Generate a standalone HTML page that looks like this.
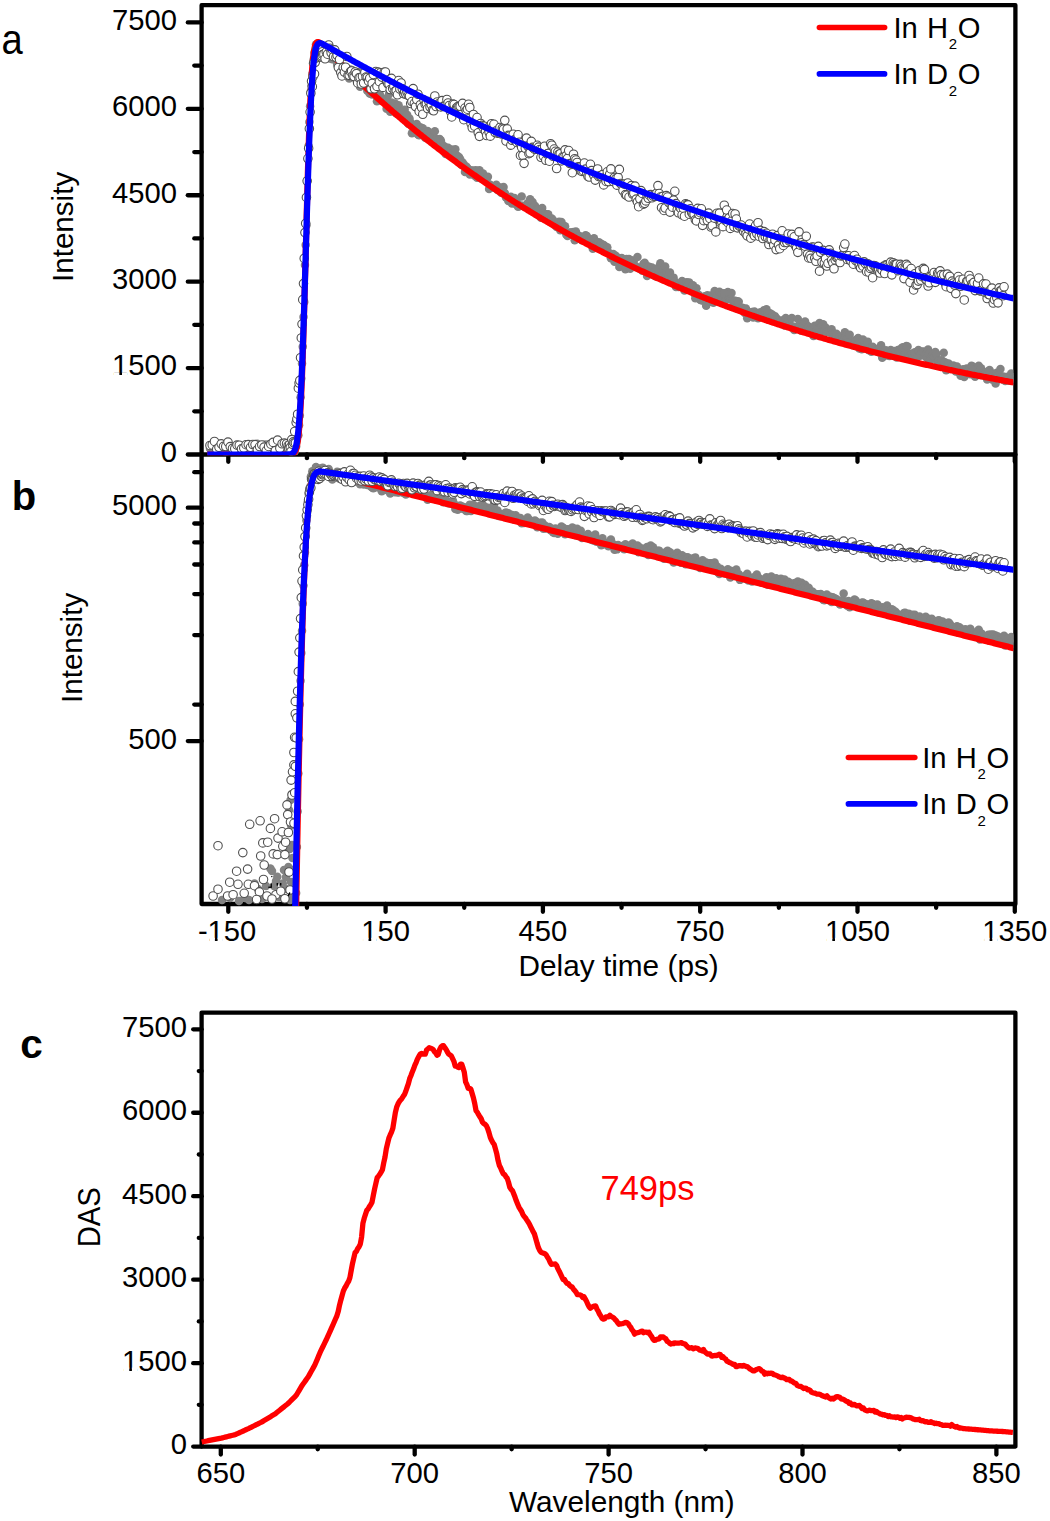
<!DOCTYPE html><html><head><meta charset="utf-8"><style>html,body{margin:0;padding:0;background:#fff;}svg{display:block}text{font-family:"Liberation Sans",sans-serif}</style></head><body><svg width="1050" height="1521" viewBox="0 0 1050 1521"><rect width="1050" height="1521" fill="#fff"/><defs><clipPath id="ca"><rect x="203.7" y="7.3" width="809.6" height="448.0"/></clipPath><clipPath id="cb"><rect x="203.7" y="456.6" width="809.6" height="449.4"/></clipPath><clipPath id="cc"><rect x="199.6" y="1012.6" width="815.8" height="434"/></clipPath></defs><g stroke="#000" stroke-width="4.3" stroke-linecap="round" fill="none"><path stroke-linejoin="round" d="M201.6,454.5 V5.2 H1015.4 V904 H201.6 Z"/><path d="M201.6,454.5 H1015.4"/><path stroke-linejoin="round" d="M201.6,1012.6 H1015.4 V1446.6 H201.6 Z"/><path d="M201.6,454.5 H187.8"/><path d="M201.6,411.29 H194.3"/><path d="M201.6,368.08 H187.8"/><path d="M201.6,324.87 H194.3"/><path d="M201.6,281.66 H187.8"/><path d="M201.6,238.45 H194.3"/><path d="M201.6,195.24 H187.8"/><path d="M201.6,152.03 H194.3"/><path d="M201.6,108.82 H187.8"/><path d="M201.6,65.61 H194.3"/><path d="M201.6,22.4 H187.8"/><path d="M228.3,454.5 V461.8"/><path d="M228.3,904 V911.8"/><path d="M306.95,454.5 V458.2"/><path d="M306.95,904 V907.8"/><path d="M385.6,454.5 V461.8"/><path d="M385.6,904 V911.8"/><path d="M464.25,454.5 V458.2"/><path d="M464.25,904 V907.8"/><path d="M542.9,454.5 V461.8"/><path d="M542.9,904 V911.8"/><path d="M621.55,454.5 V458.2"/><path d="M621.55,904 V907.8"/><path d="M700.2,454.5 V461.8"/><path d="M700.2,904 V911.8"/><path d="M778.85,454.5 V458.2"/><path d="M778.85,904 V907.8"/><path d="M857.5,454.5 V461.8"/><path d="M857.5,904 V911.8"/><path d="M936.15,454.5 V458.2"/><path d="M936.15,904 V907.8"/><path d="M1014.79,454.5 V461.8"/><path d="M1014.79,904 V911.8"/><path d="M201.6,472.2 H194.3"/><path d="M201.6,507.7 H187.8"/><path d="M201.6,523.5 H194.3"/><path d="M201.6,542.4 H194.3"/><path d="M201.6,564.5 H194.3"/><path d="M201.6,594.1 H194.3"/><path d="M201.6,635.1 H194.3"/><path d="M201.6,704.6 H194.3"/><path d="M201.6,741.1 H187.8"/><path d="M201.6,1446.6 H193.2"/><path d="M201.6,1404.87 H198.8"/><path d="M201.6,1363.14 H193.2"/><path d="M201.6,1321.41 H198.8"/><path d="M201.6,1279.68 H193.2"/><path d="M201.6,1237.95 H198.8"/><path d="M201.6,1196.22 H193.2"/><path d="M201.6,1154.49 H198.8"/><path d="M201.6,1112.76 H193.2"/><path d="M201.6,1071.03 H198.8"/><path d="M201.6,1029.3 H193.2"/><path d="M220.8,1446.6 V1454.5"/><path d="M317.75,1446.6 V1449.3"/><path d="M414.7,1446.6 V1454.5"/><path d="M511.65,1446.6 V1449.3"/><path d="M608.6,1446.6 V1454.5"/><path d="M705.55,1446.6 V1449.3"/><path d="M802.5,1446.6 V1454.5"/><path d="M899.45,1446.6 V1449.3"/><path d="M996.4,1446.6 V1454.5"/></g><g clip-path="url(#ca)"><g fill="#838383"><circle cx="209.95" cy="448.56" r="4.25"/><circle cx="212.2" cy="448.03" r="4.25"/><circle cx="214.46" cy="446.87" r="4.25"/><circle cx="216.71" cy="446.47" r="4.25"/><circle cx="218.97" cy="447.14" r="4.25"/><circle cx="221.22" cy="447.14" r="4.25"/><circle cx="223.48" cy="449.62" r="4.25"/><circle cx="225.73" cy="451.93" r="4.25"/><circle cx="227.99" cy="448.64" r="4.25"/><circle cx="230.24" cy="449.51" r="4.25"/><circle cx="232.49" cy="448.9" r="4.25"/><circle cx="234.75" cy="448.14" r="4.25"/><circle cx="237" cy="450.09" r="4.25"/><circle cx="239.26" cy="449.83" r="4.25"/><circle cx="241.51" cy="447.79" r="4.25"/><circle cx="243.77" cy="447.35" r="4.25"/><circle cx="246.02" cy="448.91" r="4.25"/><circle cx="248.28" cy="446.58" r="4.25"/><circle cx="250.53" cy="448.03" r="4.25"/><circle cx="252.79" cy="449.64" r="4.25"/><circle cx="255.04" cy="447.5" r="4.25"/><circle cx="257.3" cy="443.79" r="4.25"/><circle cx="259.55" cy="448.95" r="4.25"/><circle cx="261.8" cy="445.23" r="4.25"/><circle cx="264.06" cy="444.81" r="4.25"/><circle cx="266.31" cy="444.57" r="4.25"/><circle cx="268.57" cy="449.25" r="4.25"/><circle cx="270.82" cy="443.52" r="4.25"/><circle cx="273.08" cy="447.35" r="4.25"/><circle cx="275.33" cy="448.1" r="4.25"/><circle cx="277.59" cy="448.05" r="4.25"/><circle cx="279.84" cy="446.37" r="4.25"/><circle cx="282.1" cy="447.48" r="4.25"/><circle cx="284.35" cy="447.94" r="4.25"/><circle cx="286.61" cy="445" r="4.25"/><circle cx="288.07" cy="449.04" r="4.25"/><circle cx="288.81" cy="449.69" r="4.25"/><circle cx="289.54" cy="445.99" r="4.25"/><circle cx="290.28" cy="446.17" r="4.25"/><circle cx="291.01" cy="445.38" r="4.25"/><circle cx="291.74" cy="449.75" r="4.25"/><circle cx="292.48" cy="445.41" r="4.25"/><circle cx="293.21" cy="446.61" r="4.25"/><circle cx="293.95" cy="449" r="4.25"/><circle cx="294.68" cy="451.57" r="4.25"/><circle cx="295.41" cy="445.81" r="4.25"/><circle cx="296.15" cy="446.59" r="4.25"/><circle cx="296.88" cy="439.95" r="4.25"/><circle cx="297.62" cy="434.5" r="4.25"/><circle cx="298.35" cy="435.16" r="4.25"/><circle cx="299.08" cy="425.3" r="4.25"/><circle cx="299.82" cy="415.73" r="4.25"/><circle cx="300.55" cy="397.29" r="4.25"/><circle cx="301.29" cy="378.62" r="4.25"/><circle cx="302.02" cy="363.4" r="4.25"/><circle cx="302.75" cy="346.66" r="4.25"/><circle cx="303.49" cy="317.06" r="4.25"/><circle cx="304.22" cy="302.03" r="4.25"/><circle cx="304.96" cy="264.93" r="4.25"/><circle cx="305.69" cy="245.03" r="4.25"/><circle cx="306.43" cy="225.19" r="4.25"/><circle cx="307.16" cy="180.14" r="4.25"/><circle cx="307.89" cy="159.22" r="4.25"/><circle cx="308.63" cy="145.84" r="4.25"/><circle cx="309.36" cy="121.92" r="4.25"/><circle cx="310.1" cy="106.32" r="4.25"/><circle cx="310.83" cy="91.2" r="4.25"/><circle cx="311.56" cy="85.41" r="4.25"/><circle cx="312.3" cy="73.88" r="4.25"/><circle cx="313.03" cy="63.3" r="4.25"/><circle cx="313.77" cy="59.35" r="4.25"/><circle cx="314.5" cy="52.53" r="4.25"/><circle cx="315.23" cy="53.99" r="4.25"/><circle cx="315.97" cy="44.47" r="4.25"/><circle cx="316.7" cy="53.84" r="4.25"/><circle cx="317.44" cy="49.54" r="4.25"/><circle cx="318.17" cy="56.31" r="4.25"/><circle cx="318.9" cy="53.37" r="4.25"/><circle cx="319.64" cy="43.89" r="4.25"/><circle cx="320.37" cy="51.3" r="4.25"/><circle cx="321.11" cy="45.86" r="4.25"/><circle cx="321.84" cy="47.73" r="4.25"/><circle cx="322.57" cy="51.14" r="4.25"/><circle cx="322.68" cy="48.82" r="4.25"/><circle cx="323.89" cy="49.95" r="4.25"/><circle cx="325.09" cy="50.8" r="4.25"/><circle cx="326.3" cy="47.76" r="4.25"/><circle cx="327.5" cy="49.62" r="4.25"/><circle cx="328.71" cy="55.53" r="4.25"/><circle cx="329.92" cy="58.44" r="4.25"/><circle cx="331.12" cy="56.11" r="4.25"/><circle cx="332.33" cy="59.17" r="4.25"/><circle cx="333.53" cy="56.92" r="4.25"/><circle cx="334.74" cy="52.83" r="4.25"/><circle cx="335.94" cy="60.52" r="4.25"/><circle cx="337.15" cy="64.87" r="4.25"/><circle cx="338.36" cy="66.56" r="4.25"/><circle cx="339.56" cy="70.04" r="4.25"/><circle cx="340.77" cy="71.27" r="4.25"/><circle cx="341.97" cy="72.58" r="4.25"/><circle cx="343.18" cy="71.41" r="4.25"/><circle cx="344.39" cy="72.42" r="4.25"/><circle cx="345.59" cy="69.25" r="4.25"/><circle cx="346.8" cy="74.05" r="4.25"/><circle cx="348" cy="74.18" r="4.25"/><circle cx="349.21" cy="78.53" r="4.25"/><circle cx="350.42" cy="69.46" r="4.25"/><circle cx="351.62" cy="74.21" r="4.25"/><circle cx="352.83" cy="70.62" r="4.25"/><circle cx="354.03" cy="74.91" r="4.25"/><circle cx="355.24" cy="73.42" r="4.25"/><circle cx="356.45" cy="80.36" r="4.25"/><circle cx="357.65" cy="77.98" r="4.25"/><circle cx="358.86" cy="72.09" r="4.25"/><circle cx="360.06" cy="86.65" r="4.25"/><circle cx="361.27" cy="79.37" r="4.25"/><circle cx="362.48" cy="78.55" r="4.25"/><circle cx="363.68" cy="83.97" r="4.25"/><circle cx="364.89" cy="83.77" r="4.25"/><circle cx="366.09" cy="82.98" r="4.25"/><circle cx="367.3" cy="90.71" r="4.25"/><circle cx="368.51" cy="87.94" r="4.25"/><circle cx="369.71" cy="93.42" r="4.25"/><circle cx="370.92" cy="93.75" r="4.25"/><circle cx="372.12" cy="94.53" r="4.25"/><circle cx="373.33" cy="93.83" r="4.25"/><circle cx="374.54" cy="93.77" r="4.25"/><circle cx="375.74" cy="93.62" r="4.25"/><circle cx="376.95" cy="101.14" r="4.25"/><circle cx="378.15" cy="89.99" r="4.25"/><circle cx="379.36" cy="93.77" r="4.25"/><circle cx="380.57" cy="96.11" r="4.25"/><circle cx="381.77" cy="100.78" r="4.25"/><circle cx="382.98" cy="100.64" r="4.25"/><circle cx="384.18" cy="99.19" r="4.25"/><circle cx="385.39" cy="100.5" r="4.25"/><circle cx="386.6" cy="108.74" r="4.25"/><circle cx="387.8" cy="101.01" r="4.25"/><circle cx="389.01" cy="94.14" r="4.25"/><circle cx="390.21" cy="111.83" r="4.25"/><circle cx="391.42" cy="102.56" r="4.25"/><circle cx="392.63" cy="105.55" r="4.25"/><circle cx="393.83" cy="107.99" r="4.25"/><circle cx="395.04" cy="103.44" r="4.25"/><circle cx="396.24" cy="113.22" r="4.25"/><circle cx="397.45" cy="109.17" r="4.25"/><circle cx="398.65" cy="105.29" r="4.25"/><circle cx="399.86" cy="111.97" r="4.25"/><circle cx="401.07" cy="113.61" r="4.25"/><circle cx="402.27" cy="112.65" r="4.25"/><circle cx="403.48" cy="115.69" r="4.25"/><circle cx="404.68" cy="109.8" r="4.25"/><circle cx="405.89" cy="119.78" r="4.25"/><circle cx="407.1" cy="114.83" r="4.25"/><circle cx="408.3" cy="123.82" r="4.25"/><circle cx="409.51" cy="118.5" r="4.25"/><circle cx="410.71" cy="122.8" r="4.25"/><circle cx="411.92" cy="133.15" r="4.25"/><circle cx="413.13" cy="125.5" r="4.25"/><circle cx="414.33" cy="130.73" r="4.25"/><circle cx="415.54" cy="129.85" r="4.25"/><circle cx="416.74" cy="124.03" r="4.25"/><circle cx="417.95" cy="134.58" r="4.25"/><circle cx="419.16" cy="135.34" r="4.25"/><circle cx="420.36" cy="127.3" r="4.25"/><circle cx="421.57" cy="132.72" r="4.25"/><circle cx="422.77" cy="128.26" r="4.25"/><circle cx="423.98" cy="133.1" r="4.25"/><circle cx="425.19" cy="137.83" r="4.25"/><circle cx="426.39" cy="135.31" r="4.25"/><circle cx="427.6" cy="131.08" r="4.25"/><circle cx="428.8" cy="132.48" r="4.25"/><circle cx="430.01" cy="136.2" r="4.25"/><circle cx="431.22" cy="136.45" r="4.25"/><circle cx="432.42" cy="137.48" r="4.25"/><circle cx="433.63" cy="139.66" r="4.25"/><circle cx="434.83" cy="131.34" r="4.25"/><circle cx="436.04" cy="138.89" r="4.25"/><circle cx="437.25" cy="143.75" r="4.25"/><circle cx="438.45" cy="142.34" r="4.25"/><circle cx="439.66" cy="139.1" r="4.25"/><circle cx="440.86" cy="140.52" r="4.25"/><circle cx="442.07" cy="144.52" r="4.25"/><circle cx="443.28" cy="147.7" r="4.25"/><circle cx="444.48" cy="146.57" r="4.25"/><circle cx="445.69" cy="153.93" r="4.25"/><circle cx="446.89" cy="153.94" r="4.25"/><circle cx="448.1" cy="147.73" r="4.25"/><circle cx="449.31" cy="153.47" r="4.25"/><circle cx="450.51" cy="151.55" r="4.25"/><circle cx="451.72" cy="149.61" r="4.25"/><circle cx="452.92" cy="152.63" r="4.25"/><circle cx="454.13" cy="155.8" r="4.25"/><circle cx="455.33" cy="149.23" r="4.25"/><circle cx="456.54" cy="155.36" r="4.25"/><circle cx="457.75" cy="159.96" r="4.25"/><circle cx="458.95" cy="157.08" r="4.25"/><circle cx="460.16" cy="159.26" r="4.25"/><circle cx="461.36" cy="164.8" r="4.25"/><circle cx="462.57" cy="162.57" r="4.25"/><circle cx="463.78" cy="164.49" r="4.25"/><circle cx="464.98" cy="171.94" r="4.25"/><circle cx="466.19" cy="166.58" r="4.25"/><circle cx="467.39" cy="167.92" r="4.25"/><circle cx="468.6" cy="169.4" r="4.25"/><circle cx="469.81" cy="174.53" r="4.25"/><circle cx="471.01" cy="170.76" r="4.25"/><circle cx="472.22" cy="170.44" r="4.25"/><circle cx="473.42" cy="170.69" r="4.25"/><circle cx="474.63" cy="175.84" r="4.25"/><circle cx="475.84" cy="170.32" r="4.25"/><circle cx="477.04" cy="177.66" r="4.25"/><circle cx="478.25" cy="174.94" r="4.25"/><circle cx="479.45" cy="170.32" r="4.25"/><circle cx="480.66" cy="178.23" r="4.25"/><circle cx="481.87" cy="178.41" r="4.25"/><circle cx="483.07" cy="173.59" r="4.25"/><circle cx="484.28" cy="179.57" r="4.25"/><circle cx="485.48" cy="180.04" r="4.25"/><circle cx="486.69" cy="178.95" r="4.25"/><circle cx="487.9" cy="176.73" r="4.25"/><circle cx="489.1" cy="188.99" r="4.25"/><circle cx="490.31" cy="184.83" r="4.25"/><circle cx="491.51" cy="186.16" r="4.25"/><circle cx="492.72" cy="187.18" r="4.25"/><circle cx="493.93" cy="187.13" r="4.25"/><circle cx="495.13" cy="187.9" r="4.25"/><circle cx="496.34" cy="184.75" r="4.25"/><circle cx="497.54" cy="189.94" r="4.25"/><circle cx="498.75" cy="187.42" r="4.25"/><circle cx="499.96" cy="187.57" r="4.25"/><circle cx="501.16" cy="192.78" r="4.25"/><circle cx="502.37" cy="191" r="4.25"/><circle cx="503.57" cy="186.97" r="4.25"/><circle cx="504.78" cy="192.92" r="4.25"/><circle cx="505.99" cy="197.6" r="4.25"/><circle cx="507.19" cy="196.77" r="4.25"/><circle cx="508.4" cy="200.93" r="4.25"/><circle cx="509.6" cy="197.79" r="4.25"/><circle cx="510.81" cy="196.64" r="4.25"/><circle cx="512.01" cy="203.41" r="4.25"/><circle cx="513.22" cy="201.96" r="4.25"/><circle cx="514.43" cy="197.9" r="4.25"/><circle cx="515.63" cy="204.1" r="4.25"/><circle cx="516.84" cy="202.11" r="4.25"/><circle cx="518.04" cy="206.75" r="4.25"/><circle cx="519.25" cy="206.36" r="4.25"/><circle cx="520.46" cy="205.58" r="4.25"/><circle cx="521.66" cy="196.53" r="4.25"/><circle cx="522.87" cy="205.74" r="4.25"/><circle cx="524.07" cy="206.45" r="4.25"/><circle cx="525.28" cy="206.87" r="4.25"/><circle cx="526.49" cy="205.8" r="4.25"/><circle cx="527.69" cy="203.29" r="4.25"/><circle cx="528.9" cy="205.24" r="4.25"/><circle cx="530.1" cy="199.16" r="4.25"/><circle cx="531.31" cy="205.92" r="4.25"/><circle cx="532.52" cy="202.07" r="4.25"/><circle cx="533.72" cy="206.52" r="4.25"/><circle cx="534.93" cy="205.78" r="4.25"/><circle cx="536.13" cy="213.3" r="4.25"/><circle cx="537.34" cy="209.2" r="4.25"/><circle cx="538.55" cy="209.48" r="4.25"/><circle cx="539.75" cy="210.61" r="4.25"/><circle cx="540.96" cy="217.79" r="4.25"/><circle cx="542.16" cy="207.94" r="4.25"/><circle cx="543.37" cy="213.06" r="4.25"/><circle cx="544.58" cy="214.05" r="4.25"/><circle cx="545.78" cy="214.36" r="4.25"/><circle cx="546.99" cy="215.32" r="4.25"/><circle cx="548.19" cy="214.28" r="4.25"/><circle cx="549.4" cy="221.35" r="4.25"/><circle cx="550.61" cy="221.46" r="4.25"/><circle cx="551.81" cy="218.55" r="4.25"/><circle cx="553.02" cy="220.32" r="4.25"/><circle cx="554.22" cy="223.35" r="4.25"/><circle cx="555.43" cy="225.16" r="4.25"/><circle cx="556.64" cy="227.09" r="4.25"/><circle cx="557.84" cy="225.32" r="4.25"/><circle cx="559.05" cy="221.83" r="4.25"/><circle cx="560.25" cy="230.27" r="4.25"/><circle cx="561.46" cy="221.98" r="4.25"/><circle cx="562.67" cy="224.92" r="4.25"/><circle cx="563.87" cy="229.93" r="4.25"/><circle cx="565.08" cy="226.18" r="4.25"/><circle cx="566.28" cy="234.48" r="4.25"/><circle cx="567.49" cy="235.93" r="4.25"/><circle cx="568.7" cy="234.92" r="4.25"/><circle cx="569.9" cy="232.39" r="4.25"/><circle cx="571.11" cy="232.61" r="4.25"/><circle cx="572.31" cy="233.73" r="4.25"/><circle cx="573.52" cy="232.05" r="4.25"/><circle cx="574.72" cy="240.2" r="4.25"/><circle cx="575.93" cy="231.5" r="4.25"/><circle cx="577.14" cy="238.52" r="4.25"/><circle cx="578.34" cy="236.32" r="4.25"/><circle cx="579.55" cy="235.91" r="4.25"/><circle cx="580.75" cy="238.97" r="4.25"/><circle cx="581.96" cy="240.22" r="4.25"/><circle cx="583.17" cy="239.53" r="4.25"/><circle cx="584.37" cy="236.71" r="4.25"/><circle cx="585.58" cy="235.28" r="4.25"/><circle cx="586.78" cy="236.07" r="4.25"/><circle cx="587.99" cy="242.17" r="4.25"/><circle cx="589.2" cy="242.22" r="4.25"/><circle cx="590.4" cy="243.4" r="4.25"/><circle cx="591.61" cy="239.4" r="4.25"/><circle cx="592.81" cy="248.75" r="4.25"/><circle cx="594.02" cy="238.18" r="4.25"/><circle cx="595.23" cy="244.92" r="4.25"/><circle cx="596.43" cy="246.75" r="4.25"/><circle cx="597.64" cy="243.69" r="4.25"/><circle cx="598.84" cy="242.13" r="4.25"/><circle cx="600.05" cy="245.37" r="4.25"/><circle cx="601.26" cy="243.8" r="4.25"/><circle cx="602.46" cy="247.88" r="4.25"/><circle cx="603.67" cy="245.04" r="4.25"/><circle cx="604.87" cy="245.93" r="4.25"/><circle cx="606.08" cy="251.54" r="4.25"/><circle cx="607.29" cy="247.18" r="4.25"/><circle cx="608.49" cy="252.56" r="4.25"/><circle cx="609.7" cy="253.77" r="4.25"/><circle cx="610.9" cy="258.16" r="4.25"/><circle cx="612.11" cy="256.81" r="4.25"/><circle cx="613.32" cy="253.91" r="4.25"/><circle cx="614.52" cy="261.86" r="4.25"/><circle cx="615.73" cy="255.73" r="4.25"/><circle cx="616.93" cy="257.34" r="4.25"/><circle cx="618.14" cy="258.06" r="4.25"/><circle cx="619.35" cy="267.08" r="4.25"/><circle cx="620.55" cy="260.19" r="4.25"/><circle cx="621.76" cy="257.92" r="4.25"/><circle cx="622.96" cy="263.12" r="4.25"/><circle cx="624.17" cy="260.47" r="4.25"/><circle cx="625.38" cy="269.3" r="4.25"/><circle cx="626.58" cy="259.06" r="4.25"/><circle cx="627.79" cy="263.98" r="4.25"/><circle cx="628.99" cy="259" r="4.25"/><circle cx="630.2" cy="268.71" r="4.25"/><circle cx="631.4" cy="260.29" r="4.25"/><circle cx="632.61" cy="263.87" r="4.25"/><circle cx="633.82" cy="260.65" r="4.25"/><circle cx="635.02" cy="267.07" r="4.25"/><circle cx="636.23" cy="266.47" r="4.25"/><circle cx="637.43" cy="257.08" r="4.25"/><circle cx="638.64" cy="268.24" r="4.25"/><circle cx="639.85" cy="268.41" r="4.25"/><circle cx="641.05" cy="267.58" r="4.25"/><circle cx="642.26" cy="270.83" r="4.25"/><circle cx="643.46" cy="263.88" r="4.25"/><circle cx="644.67" cy="262.71" r="4.25"/><circle cx="645.88" cy="271.77" r="4.25"/><circle cx="647.08" cy="275.91" r="4.25"/><circle cx="648.29" cy="266.43" r="4.25"/><circle cx="649.49" cy="267.08" r="4.25"/><circle cx="650.7" cy="268.41" r="4.25"/><circle cx="651.91" cy="267.47" r="4.25"/><circle cx="653.11" cy="274.58" r="4.25"/><circle cx="654.32" cy="272.18" r="4.25"/><circle cx="655.52" cy="276.31" r="4.25"/><circle cx="656.73" cy="276.33" r="4.25"/><circle cx="657.94" cy="267.92" r="4.25"/><circle cx="659.14" cy="273.55" r="4.25"/><circle cx="660.35" cy="263.35" r="4.25"/><circle cx="661.55" cy="271.1" r="4.25"/><circle cx="662.76" cy="273.86" r="4.25"/><circle cx="663.97" cy="269.36" r="4.25"/><circle cx="665.17" cy="266.56" r="4.25"/><circle cx="666.38" cy="271.97" r="4.25"/><circle cx="667.58" cy="278.91" r="4.25"/><circle cx="668.79" cy="274.63" r="4.25"/><circle cx="670" cy="272.46" r="4.25"/><circle cx="671.2" cy="280.28" r="4.25"/><circle cx="672.41" cy="282.57" r="4.25"/><circle cx="673.61" cy="277.63" r="4.25"/><circle cx="674.82" cy="281.78" r="4.25"/><circle cx="676.03" cy="287.02" r="4.25"/><circle cx="677.23" cy="285.26" r="4.25"/><circle cx="678.44" cy="287.09" r="4.25"/><circle cx="679.64" cy="283.79" r="4.25"/><circle cx="680.85" cy="284.62" r="4.25"/><circle cx="682.06" cy="281.08" r="4.25"/><circle cx="683.26" cy="282.62" r="4.25"/><circle cx="684.47" cy="290.47" r="4.25"/><circle cx="685.67" cy="283.72" r="4.25"/><circle cx="686.88" cy="282.2" r="4.25"/><circle cx="688.08" cy="284.04" r="4.25"/><circle cx="689.29" cy="282.54" r="4.25"/><circle cx="690.5" cy="288.66" r="4.25"/><circle cx="691.7" cy="290.85" r="4.25"/><circle cx="692.91" cy="285.3" r="4.25"/><circle cx="694.11" cy="293.26" r="4.25"/><circle cx="695.32" cy="298.16" r="4.25"/><circle cx="696.53" cy="288.27" r="4.25"/><circle cx="697.73" cy="295.43" r="4.25"/><circle cx="698.94" cy="295.01" r="4.25"/><circle cx="700.14" cy="299.73" r="4.25"/><circle cx="701.35" cy="300.31" r="4.25"/><circle cx="702.56" cy="300.44" r="4.25"/><circle cx="703.76" cy="298.26" r="4.25"/><circle cx="704.97" cy="296.16" r="4.25"/><circle cx="706.17" cy="305.68" r="4.25"/><circle cx="707.38" cy="295.32" r="4.25"/><circle cx="708.59" cy="302.07" r="4.25"/><circle cx="709.79" cy="301.66" r="4.25"/><circle cx="711" cy="295.53" r="4.25"/><circle cx="712.2" cy="297.96" r="4.25"/><circle cx="713.41" cy="302.84" r="4.25"/><circle cx="714.62" cy="290.94" r="4.25"/><circle cx="715.82" cy="300.08" r="4.25"/><circle cx="717.03" cy="296.07" r="4.25"/><circle cx="718.23" cy="296.08" r="4.25"/><circle cx="719.44" cy="291.81" r="4.25"/><circle cx="720.65" cy="298.22" r="4.25"/><circle cx="721.85" cy="293.2" r="4.25"/><circle cx="723.06" cy="299.41" r="4.25"/><circle cx="724.26" cy="293.2" r="4.25"/><circle cx="725.47" cy="300.07" r="4.25"/><circle cx="726.68" cy="299.13" r="4.25"/><circle cx="727.88" cy="291.89" r="4.25"/><circle cx="729.09" cy="298.02" r="4.25"/><circle cx="730.29" cy="299.46" r="4.25"/><circle cx="731.5" cy="292.89" r="4.25"/><circle cx="732.71" cy="300.24" r="4.25"/><circle cx="733.91" cy="305.21" r="4.25"/><circle cx="735.12" cy="300.74" r="4.25"/><circle cx="736.32" cy="308.24" r="4.25"/><circle cx="737.53" cy="301.13" r="4.25"/><circle cx="738.74" cy="301.69" r="4.25"/><circle cx="739.94" cy="308.67" r="4.25"/><circle cx="741.15" cy="309.64" r="4.25"/><circle cx="742.35" cy="307.63" r="4.25"/><circle cx="743.56" cy="308.95" r="4.25"/><circle cx="744.77" cy="313.11" r="4.25"/><circle cx="745.97" cy="308.47" r="4.25"/><circle cx="747.18" cy="318.16" r="4.25"/><circle cx="748.38" cy="313.21" r="4.25"/><circle cx="749.59" cy="313.66" r="4.25"/><circle cx="750.79" cy="313.68" r="4.25"/><circle cx="752" cy="312.02" r="4.25"/><circle cx="753.21" cy="317.58" r="4.25"/><circle cx="754.41" cy="311.44" r="4.25"/><circle cx="755.62" cy="314.15" r="4.25"/><circle cx="756.82" cy="315.76" r="4.25"/><circle cx="758.03" cy="318.18" r="4.25"/><circle cx="759.24" cy="317.5" r="4.25"/><circle cx="760.44" cy="312.14" r="4.25"/><circle cx="761.65" cy="316.75" r="4.25"/><circle cx="762.85" cy="313.32" r="4.25"/><circle cx="764.06" cy="310.13" r="4.25"/><circle cx="765.27" cy="310.62" r="4.25"/><circle cx="766.47" cy="309.31" r="4.25"/><circle cx="767.68" cy="316.36" r="4.25"/><circle cx="768.88" cy="319.82" r="4.25"/><circle cx="770.09" cy="313.36" r="4.25"/><circle cx="771.3" cy="316.68" r="4.25"/><circle cx="772.5" cy="314.72" r="4.25"/><circle cx="773.71" cy="319.41" r="4.25"/><circle cx="774.91" cy="316.13" r="4.25"/><circle cx="776.12" cy="318.07" r="4.25"/><circle cx="777.33" cy="319.17" r="4.25"/><circle cx="778.53" cy="320.44" r="4.25"/><circle cx="779.74" cy="321.27" r="4.25"/><circle cx="780.94" cy="322.22" r="4.25"/><circle cx="782.15" cy="322.52" r="4.25"/><circle cx="783.36" cy="320.11" r="4.25"/><circle cx="784.56" cy="325.5" r="4.25"/><circle cx="785.77" cy="317.92" r="4.25"/><circle cx="786.97" cy="324.47" r="4.25"/><circle cx="788.18" cy="320.89" r="4.25"/><circle cx="789.39" cy="324.84" r="4.25"/><circle cx="790.59" cy="325.63" r="4.25"/><circle cx="791.8" cy="318.03" r="4.25"/><circle cx="793" cy="326.43" r="4.25"/><circle cx="794.21" cy="330.06" r="4.25"/><circle cx="795.42" cy="328.4" r="4.25"/><circle cx="796.62" cy="327.34" r="4.25"/><circle cx="797.83" cy="319.06" r="4.25"/><circle cx="799.03" cy="326.05" r="4.25"/><circle cx="800.24" cy="323.77" r="4.25"/><circle cx="801.45" cy="330.67" r="4.25"/><circle cx="802.65" cy="326.18" r="4.25"/><circle cx="803.86" cy="325.23" r="4.25"/><circle cx="805.06" cy="321.46" r="4.25"/><circle cx="806.27" cy="330.22" r="4.25"/><circle cx="807.47" cy="325.81" r="4.25"/><circle cx="808.68" cy="326.89" r="4.25"/><circle cx="809.89" cy="331.49" r="4.25"/><circle cx="811.09" cy="328.03" r="4.25"/><circle cx="812.3" cy="328.83" r="4.25"/><circle cx="813.5" cy="335.9" r="4.25"/><circle cx="814.71" cy="325.73" r="4.25"/><circle cx="815.92" cy="325.91" r="4.25"/><circle cx="817.12" cy="329.31" r="4.25"/><circle cx="818.33" cy="332.5" r="4.25"/><circle cx="819.53" cy="322.9" r="4.25"/><circle cx="820.74" cy="327.37" r="4.25"/><circle cx="821.95" cy="325.13" r="4.25"/><circle cx="823.15" cy="324.23" r="4.25"/><circle cx="824.36" cy="331.43" r="4.25"/><circle cx="825.56" cy="327.41" r="4.25"/><circle cx="826.77" cy="331.67" r="4.25"/><circle cx="827.98" cy="331.68" r="4.25"/><circle cx="829.18" cy="332.36" r="4.25"/><circle cx="830.39" cy="332.63" r="4.25"/><circle cx="831.59" cy="329.28" r="4.25"/><circle cx="832.8" cy="333.17" r="4.25"/><circle cx="834.01" cy="334.57" r="4.25"/><circle cx="835.21" cy="335.39" r="4.25"/><circle cx="836.42" cy="333.67" r="4.25"/><circle cx="837.62" cy="338.38" r="4.25"/><circle cx="838.83" cy="337.52" r="4.25"/><circle cx="840.04" cy="336.52" r="4.25"/><circle cx="841.24" cy="338.93" r="4.25"/><circle cx="842.45" cy="338.09" r="4.25"/><circle cx="843.65" cy="340.55" r="4.25"/><circle cx="844.86" cy="332.31" r="4.25"/><circle cx="846.07" cy="335.48" r="4.25"/><circle cx="847.27" cy="339.35" r="4.25"/><circle cx="848.48" cy="341.9" r="4.25"/><circle cx="849.68" cy="334.87" r="4.25"/><circle cx="850.89" cy="341.99" r="4.25"/><circle cx="852.1" cy="344" r="4.25"/><circle cx="853.3" cy="343.15" r="4.25"/><circle cx="854.51" cy="343.55" r="4.25"/><circle cx="855.71" cy="340.03" r="4.25"/><circle cx="856.92" cy="345.24" r="4.25"/><circle cx="858.13" cy="338.1" r="4.25"/><circle cx="859.33" cy="348.55" r="4.25"/><circle cx="860.54" cy="343.21" r="4.25"/><circle cx="861.74" cy="349.15" r="4.25"/><circle cx="862.95" cy="339.46" r="4.25"/><circle cx="864.15" cy="346.96" r="4.25"/><circle cx="865.36" cy="346.09" r="4.25"/><circle cx="866.57" cy="342.8" r="4.25"/><circle cx="867.77" cy="341.81" r="4.25"/><circle cx="868.98" cy="350.18" r="4.25"/><circle cx="870.18" cy="347.76" r="4.25"/><circle cx="871.39" cy="351.68" r="4.25"/><circle cx="872.6" cy="346.74" r="4.25"/><circle cx="873.8" cy="347.98" r="4.25"/><circle cx="875.01" cy="349.29" r="4.25"/><circle cx="876.21" cy="350.95" r="4.25"/><circle cx="877.42" cy="350.41" r="4.25"/><circle cx="878.63" cy="352.17" r="4.25"/><circle cx="879.83" cy="348.3" r="4.25"/><circle cx="881.04" cy="345.35" r="4.25"/><circle cx="882.24" cy="357.72" r="4.25"/><circle cx="883.45" cy="351.86" r="4.25"/><circle cx="884.66" cy="353.23" r="4.25"/><circle cx="885.86" cy="350.35" r="4.25"/><circle cx="887.07" cy="355.55" r="4.25"/><circle cx="888.27" cy="352.91" r="4.25"/><circle cx="889.48" cy="356.08" r="4.25"/><circle cx="890.69" cy="350.11" r="4.25"/><circle cx="891.89" cy="352.15" r="4.25"/><circle cx="893.1" cy="353.02" r="4.25"/><circle cx="894.3" cy="351.12" r="4.25"/><circle cx="895.51" cy="353.14" r="4.25"/><circle cx="896.72" cy="357.53" r="4.25"/><circle cx="897.92" cy="349.97" r="4.25"/><circle cx="899.13" cy="350.9" r="4.25"/><circle cx="900.33" cy="352.3" r="4.25"/><circle cx="901.54" cy="348.23" r="4.25"/><circle cx="902.75" cy="347.31" r="4.25"/><circle cx="903.95" cy="355.21" r="4.25"/><circle cx="905.16" cy="354.07" r="4.25"/><circle cx="906.36" cy="346" r="4.25"/><circle cx="907.57" cy="346.46" r="4.25"/><circle cx="908.78" cy="353.98" r="4.25"/><circle cx="909.98" cy="355.63" r="4.25"/><circle cx="911.19" cy="353.92" r="4.25"/><circle cx="912.39" cy="353.65" r="4.25"/><circle cx="913.6" cy="357.63" r="4.25"/><circle cx="914.81" cy="352.32" r="4.25"/><circle cx="916.01" cy="357.13" r="4.25"/><circle cx="917.22" cy="357.16" r="4.25"/><circle cx="918.42" cy="350.07" r="4.25"/><circle cx="919.63" cy="355.87" r="4.25"/><circle cx="920.84" cy="354.03" r="4.25"/><circle cx="922.04" cy="351.87" r="4.25"/><circle cx="923.25" cy="351.5" r="4.25"/><circle cx="924.45" cy="355.75" r="4.25"/><circle cx="925.66" cy="354.72" r="4.25"/><circle cx="926.86" cy="358.04" r="4.25"/><circle cx="928.07" cy="349.49" r="4.25"/><circle cx="929.28" cy="353.66" r="4.25"/><circle cx="930.48" cy="360.14" r="4.25"/><circle cx="931.69" cy="356.77" r="4.25"/><circle cx="932.89" cy="354.82" r="4.25"/><circle cx="934.1" cy="356.17" r="4.25"/><circle cx="935.31" cy="352.07" r="4.25"/><circle cx="936.51" cy="354.22" r="4.25"/><circle cx="937.72" cy="361.4" r="4.25"/><circle cx="938.92" cy="360.41" r="4.25"/><circle cx="940.13" cy="365.08" r="4.25"/><circle cx="941.34" cy="360.31" r="4.25"/><circle cx="942.54" cy="361.13" r="4.25"/><circle cx="943.75" cy="352.77" r="4.25"/><circle cx="944.95" cy="362.21" r="4.25"/><circle cx="946.16" cy="370.22" r="4.25"/><circle cx="947.37" cy="365.78" r="4.25"/><circle cx="948.57" cy="363.58" r="4.25"/><circle cx="949.78" cy="368.89" r="4.25"/><circle cx="950.98" cy="368.2" r="4.25"/><circle cx="952.19" cy="367.22" r="4.25"/><circle cx="953.4" cy="365.57" r="4.25"/><circle cx="954.6" cy="368.15" r="4.25"/><circle cx="955.81" cy="371.48" r="4.25"/><circle cx="957.01" cy="366.5" r="4.25"/><circle cx="958.22" cy="371.81" r="4.25"/><circle cx="959.43" cy="372.27" r="4.25"/><circle cx="960.63" cy="375.77" r="4.25"/><circle cx="961.84" cy="374" r="4.25"/><circle cx="963.04" cy="369.15" r="4.25"/><circle cx="964.25" cy="376.98" r="4.25"/><circle cx="965.46" cy="371.47" r="4.25"/><circle cx="966.66" cy="368.53" r="4.25"/><circle cx="967.87" cy="372.05" r="4.25"/><circle cx="969.07" cy="369.68" r="4.25"/><circle cx="970.28" cy="374.19" r="4.25"/><circle cx="971.49" cy="365.69" r="4.25"/><circle cx="972.69" cy="366.43" r="4.25"/><circle cx="973.9" cy="369.54" r="4.25"/><circle cx="975.1" cy="376.65" r="4.25"/><circle cx="976.31" cy="374.51" r="4.25"/><circle cx="977.52" cy="367.91" r="4.25"/><circle cx="978.72" cy="365.8" r="4.25"/><circle cx="979.93" cy="371.16" r="4.25"/><circle cx="981.13" cy="368.34" r="4.25"/><circle cx="982.34" cy="375.17" r="4.25"/><circle cx="983.54" cy="374.1" r="4.25"/><circle cx="984.75" cy="373.78" r="4.25"/><circle cx="985.96" cy="372.57" r="4.25"/><circle cx="987.16" cy="379.53" r="4.25"/><circle cx="988.37" cy="371.16" r="4.25"/><circle cx="989.57" cy="369.99" r="4.25"/><circle cx="990.78" cy="378.65" r="4.25"/><circle cx="991.99" cy="379.5" r="4.25"/><circle cx="993.19" cy="373.73" r="4.25"/><circle cx="994.4" cy="377.35" r="4.25"/><circle cx="995.6" cy="383.47" r="4.25"/><circle cx="996.81" cy="372.69" r="4.25"/><circle cx="998.02" cy="375.21" r="4.25"/><circle cx="999.22" cy="377.68" r="4.25"/><circle cx="1000.43" cy="369.01" r="4.25"/><circle cx="1001.63" cy="376.13" r="4.25"/><circle cx="1002.84" cy="379.53" r="4.25"/><circle cx="1004.05" cy="376.87" r="4.25"/><circle cx="1005.25" cy="381.11" r="4.25"/><circle cx="1006.46" cy="380.46" r="4.25"/><circle cx="1007.66" cy="376.82" r="4.25"/><circle cx="1008.87" cy="380.39" r="4.25"/><circle cx="1010.08" cy="380.39" r="4.25"/><circle cx="1011.28" cy="373.44" r="4.25"/><circle cx="1012.49" cy="376.65" r="4.25"/><circle cx="1013.69" cy="377.29" r="4.25"/><circle cx="1014.9" cy="378.68" r="4.25"/></g><polyline fill="none" stroke="#ff0000" stroke-width="6.2" stroke-linejoin="round" points="207.33,454.5 208.38,454.5 209.42,454.5 210.47,454.5 211.52,454.5 212.57,454.5 213.62,454.5 214.67,454.5 215.72,454.5 216.76,454.5 217.81,454.5 218.86,454.5 219.91,454.5 220.96,454.5 222.01,454.5 223.06,454.5 224.11,454.5 225.15,454.5 226.2,454.5 227.25,454.5 228.3,454.5 229.35,454.5 230.4,454.5 231.45,454.5 232.49,454.5 233.54,454.5 234.59,454.5 235.64,454.5 236.69,454.5 237.74,454.5 238.79,454.5 239.84,454.5 240.88,454.5 241.93,454.5 242.98,454.5 244.03,454.5 245.08,454.5 246.13,454.5 247.18,454.5 248.22,454.5 249.27,454.5 250.32,454.5 251.37,454.5 252.42,454.5 253.47,454.5 254.52,454.5 255.57,454.5 256.61,454.5 257.66,454.5 258.71,454.5 259.76,454.5 260.81,454.5 261.86,454.5 262.91,454.5 263.95,454.5 265,454.5 266.05,454.5 267.1,454.5 268.15,454.5 269.2,454.5 270.25,454.5 271.3,454.5 272.34,454.5 273.39,454.5 274.44,454.5 275.49,454.5 276.54,454.5 277.59,454.5 278.64,454.5 279.68,454.5 280.73,454.5 281.78,454.5 282.83,454.5 283.88,454.5 284.93,454.5 285.98,454.5 286.11,454.5 286.24,454.5 286.37,454.5 286.5,454.5 286.63,454.5 286.76,454.5 286.89,454.5 287.02,454.5 287.16,454.5 287.29,454.5 287.42,454.49 287.55,454.49 287.68,454.49 287.81,454.49 287.94,454.49 288.07,454.49 288.2,454.49 288.34,454.49 288.47,454.48 288.6,454.48 288.73,454.48 288.86,454.48 288.99,454.48 289.12,454.47 289.25,454.47 289.38,454.46 289.52,454.46 289.65,454.45 289.78,454.45 289.91,454.44 290.04,454.44 290.17,454.43 290.3,454.42 290.43,454.41 290.56,454.4 290.7,454.39 290.83,454.37 290.96,454.36 291.09,454.34 291.22,454.33 291.35,454.31 291.48,454.28 291.61,454.26 291.74,454.23 291.88,454.21 292.01,454.17 292.14,454.14 292.27,454.1 292.4,454.06 292.53,454.01 292.66,453.96 292.79,453.9 292.92,453.84 293.05,453.78 293.19,453.71 293.32,453.63 293.45,453.54 293.58,453.45 293.71,453.35 293.84,453.24 293.97,453.12 294.1,452.99 294.23,452.85 294.37,452.7 294.5,452.53 294.63,452.35 294.76,452.16 294.89,451.95 295.02,451.73 295.15,451.49 295.28,451.23 295.41,450.96 295.55,450.66 295.68,450.34 295.81,450 295.94,449.63 296.07,449.24 296.2,448.82 296.33,448.37 296.46,447.89 296.59,447.38 296.73,446.84 296.86,446.26 296.99,445.65 297.12,444.99 297.25,444.3 297.38,443.56 297.51,442.78 297.64,441.96 297.77,441.09 297.9,440.17 298.04,439.19 298.17,438.16 298.3,437.08 298.43,435.94 298.56,434.74 298.69,433.48 298.82,432.16 298.95,430.77 299.08,429.31 299.22,427.79 299.35,426.19 299.48,424.52 299.61,422.78 299.74,420.96 299.87,419.06 300,417.08 300.13,415.02 300.26,412.88 300.4,410.66 300.53,408.35 300.66,405.95 300.79,403.47 300.92,400.9 301.05,398.24 301.18,395.49 301.31,392.65 301.44,389.72 301.58,386.7 301.71,383.59 301.84,380.39 301.97,377.1 302.1,373.72 302.23,370.26 302.36,366.7 302.49,363.06 302.62,359.33 302.75,355.51 302.89,351.62 303.02,347.64 303.15,343.58 303.28,339.45 303.41,335.24 303.54,330.96 303.67,326.61 303.8,322.19 303.93,317.71 304.07,313.17 304.2,308.57 304.33,303.92 304.46,299.21 304.59,294.46 304.72,289.67 304.85,284.84 304.98,279.97 305.11,275.07 305.25,270.14 305.38,265.2 305.51,260.23 305.64,255.25 305.77,250.26 305.9,245.27 306.03,240.28 306.16,235.29 306.29,230.31 306.43,225.34 306.56,220.39 306.69,215.46 306.82,210.56 306.95,205.69 307.08,200.85 307.21,196.05 307.34,191.3 307.47,186.59 307.6,181.93 307.74,177.33 307.87,172.78 308,168.29 308.13,163.87 308.26,159.52 308.39,155.23 308.52,151.02 308.65,146.89 308.78,142.83 308.92,138.85 309.05,134.96 309.18,131.15 309.31,127.42 309.44,123.78 309.57,120.23 309.7,116.77 309.83,113.4 309.96,110.12 310.1,106.93 310.23,103.84 310.36,100.83 310.49,97.92 310.62,95.1 310.75,92.37 310.88,89.74 311.01,87.2 311.14,84.74 311.28,82.38 311.41,80.1 311.54,77.91 311.67,75.81 311.8,73.79 311.93,71.86 312.06,70.01 312.19,68.24 312.32,66.54 312.45,64.93 312.59,63.39 312.72,61.92 312.85,60.53 312.98,59.2 313.11,57.95 313.24,56.76 313.37,55.63 313.5,54.56 313.63,53.56 313.77,52.61 313.9,51.72 314.03,50.88 314.16,50.1 314.29,49.36 314.42,48.67 314.55,48.03 314.68,47.43 314.81,46.87 314.95,46.36 315.08,45.88 315.21,45.44 315.34,45.03 315.47,44.66 315.6,44.32 315.73,44.01 315.86,43.73 315.99,43.47 316.13,43.24 316.26,43.04 316.39,42.86 316.52,42.69 316.65,42.55 316.78,42.43 316.91,42.33 317.04,42.25 317.17,42.18 317.31,42.12 317.44,42.08 317.57,42.05 317.7,42.04 317.83,42.04 317.96,42.04 318.09,42.06 318.22,42.09 318.35,42.12 318.48,42.17 318.62,42.22 318.75,42.27 318.88,42.34 319.01,42.41 319.14,42.48 319.27,42.56 319.4,42.65 319.53,42.74 319.66,42.83 319.8,42.93 319.93,43.03 320.06,43.14 320.19,43.24 320.32,43.35 320.45,43.46 320.58,43.58 320.71,43.69 320.84,43.81 320.98,43.93 321.11,44.05 321.24,44.17 321.37,44.3 321.5,44.42 321.63,44.55 321.76,44.67 321.89,44.8 322.02,44.93 322.16,45.06 322.29,45.19 322.42,45.32 322.55,45.45 322.68,45.58 322.81,45.71 322.94,45.84 323.07,45.97 323.2,46.1 323.33,46.24 323.47,46.37 323.6,46.5 323.73,46.63 323.86,46.77 323.99,46.9 324.12,47.03 324.25,47.17 324.38,47.3 324.51,47.43 324.65,47.57 324.78,47.7 324.91,47.83 325.04,47.97 325.17,48.1 325.3,48.23 325.43,48.37 325.56,48.5 325.69,48.63 325.83,48.77 325.96,48.9 326.09,49.03 326.22,49.17 326.35,49.3 326.48,49.44 326.61,49.57 326.74,49.7 326.87,49.83 327.01,49.97 327.14,50.1 327.27,50.23 327.4,50.37 327.53,50.5 327.66,50.63 327.79,50.77 327.92,50.9 328.97,51.96 330.02,53.02 331.07,54.08 332.12,55.13 333.17,56.18 334.21,57.23 335.26,58.28 336.31,59.32 337.36,60.36 338.41,61.4 339.46,62.43 340.51,63.46 341.56,64.49 342.6,65.52 343.65,66.54 344.7,67.56 345.75,68.58 346.8,69.6 347.85,70.61 348.9,71.62 349.94,72.63 350.99,73.63 352.04,74.63 353.09,75.63 354.14,76.63 355.19,77.62 356.24,78.62 357.29,79.61 358.33,80.59 359.38,81.58 360.43,82.56 361.48,83.54 362.53,84.51 363.58,85.49 364.63,86.46 365.67,87.43 366.72,88.39 367.77,89.36 368.82,90.32 369.87,91.27 370.92,92.23 371.97,93.18 373.02,94.13 374.06,95.08 375.11,96.03 376.16,96.97 377.21,97.91 378.26,98.85 379.31,99.79 380.36,100.72 381.4,101.65 382.45,102.58 383.5,103.51 384.55,104.43 385.6,105.35 386.65,106.27 387.7,107.19 388.74,108.1 389.79,109.01 390.84,109.92 391.89,110.83 392.94,111.73 393.99,112.63 395.04,113.53 396.09,114.43 397.13,115.33 398.18,116.22 399.23,117.11 400.28,118 401.33,118.88 402.38,119.77 403.43,120.65 404.47,121.52 405.52,122.4 406.57,123.28 407.62,124.15 408.67,125.02 409.72,125.88 410.77,126.75 411.82,127.61 412.86,128.47 413.91,129.33 414.96,130.18 416.01,131.04 417.06,131.89 418.11,132.74 419.16,133.58 420.2,134.43 421.25,135.27 422.3,136.11 423.35,136.95 424.4,137.79 425.45,138.62 426.5,139.45 427.55,140.28 428.59,141.11 429.64,141.93 430.69,142.75 431.74,143.57 432.79,144.39 433.84,145.21 434.89,146.02 435.93,146.83 436.98,147.64 438.03,148.45 439.08,149.26 440.13,150.06 441.18,150.86 442.23,151.66 443.28,152.46 444.32,153.25 445.37,154.04 446.42,154.83 447.47,155.62 448.52,156.41 449.57,157.19 450.62,157.98 451.66,158.76 452.71,159.54 453.76,160.31 454.81,161.09 455.86,161.86 456.91,162.63 457.96,163.4 459.01,164.16 460.05,164.93 461.1,165.69 462.15,166.45 463.2,167.21 464.25,167.96 465.3,168.72 466.35,169.47 467.39,170.22 468.44,170.97 469.49,171.71 470.54,172.46 471.59,173.2 472.64,173.94 473.69,174.68 474.74,175.41 475.78,176.15 476.83,176.88 477.88,177.61 478.93,178.34 479.98,179.07 481.03,179.79 482.08,180.51 483.12,181.24 484.17,181.95 485.22,182.67 486.27,183.39 487.32,184.1 488.37,184.81 489.42,185.52 490.46,186.23 491.51,186.94 492.56,187.64 493.61,188.34 494.66,189.04 495.71,189.74 496.76,190.44 497.81,191.13 498.85,191.83 499.9,192.52 500.95,193.21 502,193.89 503.05,194.58 504.1,195.26 505.15,195.95 506.19,196.63 507.24,197.31 508.29,197.98 509.34,198.66 510.39,199.33 511.44,200 512.49,200.67 513.54,201.34 514.58,202.01 515.63,202.67 516.68,203.33 517.73,203.99 518.78,204.65 519.83,205.31 520.88,205.97 521.92,206.62 522.97,207.27 524.02,207.92 525.07,208.57 526.12,209.22 527.17,209.87 528.22,210.51 529.27,211.15 530.31,211.79 531.36,212.43 532.41,213.07 533.46,213.7 534.51,214.34 535.56,214.97 536.61,215.6 537.65,216.23 538.7,216.85 539.75,217.48 540.8,218.1 541.85,218.73 542.9,219.35 543.95,219.96 545,220.58 546.04,221.2 547.09,221.81 548.14,222.42 549.19,223.03 550.24,223.64 551.29,224.25 552.34,224.86 553.38,225.46 554.43,226.06 555.48,226.67 556.53,227.26 557.58,227.86 558.63,228.46 559.68,229.05 560.73,229.65 561.77,230.24 562.82,230.83 563.87,231.42 564.92,232 565.97,232.59 567.02,233.17 568.07,233.76 569.11,234.34 570.16,234.92 571.21,235.49 572.26,236.07 573.31,236.65 574.36,237.22 575.41,237.79 576.46,238.36 577.5,238.93 578.55,239.5 579.6,240.06 580.65,240.63 581.7,241.19 582.75,241.75 583.8,242.31 584.84,242.87 585.89,243.43 586.94,243.98 587.99,244.54 589.04,245.09 590.09,245.64 591.14,246.19 592.19,246.74 593.23,247.28 594.28,247.83 595.33,248.37 596.38,248.92 597.43,249.46 598.48,250 599.53,250.53 600.57,251.07 601.62,251.61 602.67,252.14 603.72,252.67 604.77,253.2 605.82,253.73 606.87,254.26 607.91,254.79 608.96,255.32 610.01,255.84 611.06,256.36 612.11,256.88 613.16,257.4 614.21,257.92 615.26,258.44 616.3,258.96 617.35,259.47 618.4,259.98 619.45,260.5 620.5,261.01 621.55,261.51 622.6,262.02 623.64,262.53 624.69,263.03 625.74,263.54 626.79,264.04 627.84,264.54 628.89,265.04 629.94,265.54 630.99,266.04 632.03,266.53 633.08,267.03 634.13,267.52 635.18,268.01 636.23,268.5 637.28,268.99 638.33,269.48 639.37,269.97 640.42,270.45 641.47,270.94 642.52,271.42 643.57,271.9 644.62,272.38 645.67,272.86 646.72,273.34 647.76,273.82 648.81,274.29 649.86,274.77 650.91,275.24 651.96,275.71 653.01,276.18 654.06,276.65 655.1,277.12 656.15,277.59 657.2,278.05 658.25,278.52 659.3,278.98 660.35,279.44 661.4,279.9 662.45,280.36 663.49,280.82 664.54,281.28 665.59,281.73 666.64,282.19 667.69,282.64 668.74,283.09 669.79,283.54 670.83,283.99 671.88,284.44 672.93,284.89 673.98,285.34 675.03,285.78 676.08,286.23 677.13,286.67 678.18,287.11 679.22,287.55 680.27,287.99 681.32,288.43 682.37,288.87 683.42,289.3 684.47,289.74 685.52,290.17 686.56,290.6 687.61,291.03 688.66,291.46 689.71,291.89 690.76,292.32 691.81,292.75 692.86,293.17 693.91,293.6 694.95,294.02 696,294.44 697.05,294.87 698.1,295.29 699.15,295.7 700.2,296.12 701.25,296.54 702.29,296.95 703.34,297.37 704.39,297.78 705.44,298.19 706.49,298.61 707.54,299.02 708.59,299.43 709.63,299.83 710.68,300.24 711.73,300.65 712.78,301.05 713.83,301.46 714.88,301.86 715.93,302.26 716.98,302.66 718.02,303.06 719.07,303.46 720.12,303.86 721.17,304.25 722.22,304.65 723.27,305.04 724.32,305.44 725.36,305.83 726.41,306.22 727.46,306.61 728.51,307 729.56,307.39 730.61,307.77 731.66,308.16 732.71,308.55 733.75,308.93 734.8,309.31 735.85,309.69 736.9,310.08 737.95,310.46 739,310.83 740.05,311.21 741.09,311.59 742.14,311.97 743.19,312.34 744.24,312.71 745.29,313.09 746.34,313.46 747.39,313.83 748.44,314.2 749.48,314.57 750.53,314.94 751.58,315.31 752.63,315.67 753.68,316.04 754.73,316.4 755.78,316.77 756.82,317.13 757.87,317.49 758.92,317.85 759.97,318.21 761.02,318.57 762.07,318.93 763.12,319.28 764.17,319.64 765.21,319.99 766.26,320.35 767.31,320.7 768.36,321.05 769.41,321.4 770.46,321.75 771.51,322.1 772.55,322.45 773.6,322.8 774.65,323.15 775.7,323.49 776.75,323.84 777.8,324.18 778.85,324.52 779.9,324.87 780.94,325.21 781.99,325.55 783.04,325.89 784.09,326.22 785.14,326.56 786.19,326.9 787.24,327.23 788.28,327.57 789.33,327.9 790.38,328.24 791.43,328.57 792.48,328.9 793.53,329.23 794.58,329.56 795.63,329.89 796.67,330.22 797.72,330.54 798.77,330.87 799.82,331.2 800.87,331.52 801.92,331.84 802.97,332.17 804.01,332.49 805.06,332.81 806.11,333.13 807.16,333.45 808.21,333.77 809.26,334.09 810.31,334.4 811.35,334.72 812.4,335.03 813.45,335.35 814.5,335.66 815.55,335.97 816.6,336.29 817.65,336.6 818.7,336.91 819.74,337.22 820.79,337.53 821.84,337.83 822.89,338.14 823.94,338.45 824.99,338.75 826.04,339.06 827.08,339.36 828.13,339.66 829.18,339.97 830.23,340.27 831.28,340.57 832.33,340.87 833.38,341.17 834.43,341.46 835.47,341.76 836.52,342.06 837.57,342.35 838.62,342.65 839.67,342.94 840.72,343.24 841.77,343.53 842.81,343.82 843.86,344.11 844.91,344.4 845.96,344.69 847.01,344.98 848.06,345.27 849.11,345.56 850.16,345.85 851.2,346.13 852.25,346.42 853.3,346.7 854.35,346.98 855.4,347.27 856.45,347.55 857.5,347.83 858.54,348.11 859.59,348.39 860.64,348.67 861.69,348.95 862.74,349.23 863.79,349.5 864.84,349.78 865.89,350.06 866.93,350.33 867.98,350.61 869.03,350.88 870.08,351.15 871.13,351.42 872.18,351.69 873.23,351.97 874.27,352.24 875.32,352.5 876.37,352.77 877.42,353.04 878.47,353.31 879.52,353.57 880.57,353.84 881.62,354.1 882.66,354.37 883.71,354.63 884.76,354.89 885.81,355.16 886.86,355.42 887.91,355.68 888.96,355.94 890,356.2 891.05,356.46 892.1,356.71 893.15,356.97 894.2,357.23 895.25,357.48 896.3,357.74 897.35,357.99 898.39,358.25 899.44,358.5 900.49,358.75 901.54,359.01 902.59,359.26 903.64,359.51 904.69,359.76 905.73,360.01 906.78,360.26 907.83,360.5 908.88,360.75 909.93,361 910.98,361.24 912.03,361.49 913.07,361.73 914.12,361.98 915.17,362.22 916.22,362.47 917.27,362.71 918.32,362.95 919.37,363.19 920.42,363.43 921.46,363.67 922.51,363.91 923.56,364.15 924.61,364.39 925.66,364.62 926.71,364.86 927.76,365.09 928.8,365.33 929.85,365.56 930.9,365.8 931.95,366.03 933,366.26 934.05,366.5 935.1,366.73 936.15,366.96 937.19,367.19 938.24,367.42 939.29,367.65 940.34,367.88 941.39,368.11 942.44,368.33 943.49,368.56 944.53,368.79 945.58,369.01 946.63,369.24 947.68,369.46 948.73,369.68 949.78,369.91 950.83,370.13 951.88,370.35 952.92,370.57 953.97,370.79 955.02,371.01 956.07,371.23 957.12,371.45 958.17,371.67 959.22,371.89 960.26,372.11 961.31,372.32 962.36,372.54 963.41,372.76 964.46,372.97 965.51,373.19 966.56,373.4 967.61,373.61 968.65,373.83 969.7,374.04 970.75,374.25 971.8,374.46 972.85,374.67 973.9,374.88 974.95,375.09 975.99,375.3 977.04,375.51 978.09,375.72 979.14,375.92 980.19,376.13 981.24,376.34 982.29,376.54 983.34,376.75 984.38,376.95 985.43,377.16 986.48,377.36 987.53,377.56 988.58,377.77 989.63,377.97 990.68,378.17 991.72,378.37 992.77,378.57 993.82,378.77 994.87,378.97 995.92,379.17 996.97,379.37 998.02,379.56 999.07,379.76 1000.11,379.96 1001.16,380.15 1002.21,380.35 1003.26,380.55 1004.31,380.74 1005.36,380.93 1006.41,381.13 1007.45,381.32 1008.5,381.51 1009.55,381.71 1010.6,381.9 1011.65,382.09 1012.7,382.28 1013.75,382.47 1014.79,382.66"/><g fill="#fff" stroke="#505050" stroke-width="1.1"><circle cx="209.95" cy="445.46" r="4.25"/><circle cx="212.2" cy="444.96" r="4.25"/><circle cx="214.46" cy="441.46" r="4.25"/><circle cx="216.71" cy="449.14" r="4.25"/><circle cx="218.97" cy="447.35" r="4.25"/><circle cx="221.22" cy="443.86" r="4.25"/><circle cx="223.48" cy="446.33" r="4.25"/><circle cx="225.73" cy="446.57" r="4.25"/><circle cx="227.99" cy="442.12" r="4.25"/><circle cx="230.24" cy="446.6" r="4.25"/><circle cx="232.49" cy="448.39" r="4.25"/><circle cx="234.75" cy="448.74" r="4.25"/><circle cx="237" cy="445.12" r="4.25"/><circle cx="239.26" cy="445.19" r="4.25"/><circle cx="241.51" cy="448.86" r="4.25"/><circle cx="243.77" cy="448.02" r="4.25"/><circle cx="246.02" cy="444.69" r="4.25"/><circle cx="248.28" cy="444.59" r="4.25"/><circle cx="250.53" cy="447.27" r="4.25"/><circle cx="252.79" cy="444.5" r="4.25"/><circle cx="255.04" cy="444.61" r="4.25"/><circle cx="257.3" cy="449.76" r="4.25"/><circle cx="259.55" cy="446.54" r="4.25"/><circle cx="261.8" cy="444.95" r="4.25"/><circle cx="264.06" cy="447.11" r="4.25"/><circle cx="266.31" cy="450.54" r="4.25"/><circle cx="268.57" cy="446.48" r="4.25"/><circle cx="270.82" cy="444.21" r="4.25"/><circle cx="273.08" cy="442.4" r="4.25"/><circle cx="275.33" cy="450.65" r="4.25"/><circle cx="277.59" cy="440.14" r="4.25"/><circle cx="279.84" cy="448.33" r="4.25"/><circle cx="282.1" cy="443.76" r="4.25"/><circle cx="284.35" cy="443.16" r="4.25"/><circle cx="286.61" cy="443.71" r="4.25"/><circle cx="288.07" cy="445.53" r="4.25"/><circle cx="288.81" cy="448.4" r="4.25"/><circle cx="289.54" cy="444.49" r="4.25"/><circle cx="290.28" cy="447.42" r="4.25"/><circle cx="291.01" cy="451.38" r="4.25"/><circle cx="291.74" cy="439.66" r="4.25"/><circle cx="292.48" cy="444.31" r="4.25"/><circle cx="293.21" cy="441.88" r="4.25"/><circle cx="293.95" cy="443.07" r="4.25"/><circle cx="294.68" cy="431.48" r="4.25"/><circle cx="295.41" cy="442.95" r="4.25"/><circle cx="296.15" cy="422.58" r="4.25"/><circle cx="296.88" cy="419.03" r="4.25"/><circle cx="297.62" cy="414.18" r="4.25"/><circle cx="298.35" cy="388.23" r="4.25"/><circle cx="299.08" cy="383.07" r="4.25"/><circle cx="299.82" cy="380.49" r="4.25"/><circle cx="300.55" cy="357.73" r="4.25"/><circle cx="301.29" cy="337.93" r="4.25"/><circle cx="302.02" cy="324.11" r="4.25"/><circle cx="302.75" cy="299.66" r="4.25"/><circle cx="303.49" cy="283.62" r="4.25"/><circle cx="304.22" cy="258.38" r="4.25"/><circle cx="304.96" cy="232.59" r="4.25"/><circle cx="305.69" cy="223.43" r="4.25"/><circle cx="306.43" cy="197.43" r="4.25"/><circle cx="307.16" cy="181.07" r="4.25"/><circle cx="307.89" cy="158.54" r="4.25"/><circle cx="308.63" cy="148.36" r="4.25"/><circle cx="309.36" cy="128.68" r="4.25"/><circle cx="310.1" cy="112.07" r="4.25"/><circle cx="310.83" cy="93.25" r="4.25"/><circle cx="311.56" cy="81.2" r="4.25"/><circle cx="312.3" cy="86.65" r="4.25"/><circle cx="313.03" cy="76.58" r="4.25"/><circle cx="313.77" cy="62.83" r="4.25"/><circle cx="314.5" cy="73.96" r="4.25"/><circle cx="315.23" cy="62.26" r="4.25"/><circle cx="315.97" cy="58.2" r="4.25"/><circle cx="316.7" cy="49.17" r="4.25"/><circle cx="317.44" cy="51.73" r="4.25"/><circle cx="318.17" cy="57.19" r="4.25"/><circle cx="318.9" cy="57.23" r="4.25"/><circle cx="319.64" cy="56.37" r="4.25"/><circle cx="320.37" cy="46" r="4.25"/><circle cx="321.11" cy="57.01" r="4.25"/><circle cx="321.84" cy="55.99" r="4.25"/><circle cx="322.57" cy="51.82" r="4.25"/><circle cx="322.68" cy="54.45" r="4.25"/><circle cx="323.89" cy="54.17" r="4.25"/><circle cx="325.09" cy="58.79" r="4.25"/><circle cx="326.3" cy="51.93" r="4.25"/><circle cx="327.5" cy="54.18" r="4.25"/><circle cx="328.71" cy="44.95" r="4.25"/><circle cx="329.92" cy="48.25" r="4.25"/><circle cx="331.12" cy="52.8" r="4.25"/><circle cx="332.33" cy="49.71" r="4.25"/><circle cx="333.53" cy="56.63" r="4.25"/><circle cx="334.74" cy="49.86" r="4.25"/><circle cx="335.94" cy="57.3" r="4.25"/><circle cx="337.15" cy="55.3" r="4.25"/><circle cx="338.36" cy="67.52" r="4.25"/><circle cx="339.56" cy="59.48" r="4.25"/><circle cx="340.77" cy="72.6" r="4.25"/><circle cx="341.97" cy="75.97" r="4.25"/><circle cx="343.18" cy="67.34" r="4.25"/><circle cx="344.39" cy="72.1" r="4.25"/><circle cx="345.59" cy="67.26" r="4.25"/><circle cx="346.8" cy="56.5" r="4.25"/><circle cx="348" cy="75.42" r="4.25"/><circle cx="349.21" cy="75.37" r="4.25"/><circle cx="350.42" cy="71.64" r="4.25"/><circle cx="351.62" cy="70.94" r="4.25"/><circle cx="352.83" cy="75.67" r="4.25"/><circle cx="354.03" cy="76.59" r="4.25"/><circle cx="355.24" cy="71.99" r="4.25"/><circle cx="356.45" cy="73.59" r="4.25"/><circle cx="357.65" cy="82.96" r="4.25"/><circle cx="358.86" cy="77.81" r="4.25"/><circle cx="360.06" cy="77.43" r="4.25"/><circle cx="361.27" cy="83.93" r="4.25"/><circle cx="362.48" cy="76.5" r="4.25"/><circle cx="363.68" cy="83.04" r="4.25"/><circle cx="364.89" cy="72.53" r="4.25"/><circle cx="366.09" cy="76.99" r="4.25"/><circle cx="367.3" cy="77.49" r="4.25"/><circle cx="368.51" cy="81.22" r="4.25"/><circle cx="369.71" cy="78.23" r="4.25"/><circle cx="370.92" cy="88.79" r="4.25"/><circle cx="372.12" cy="83.51" r="4.25"/><circle cx="373.33" cy="74.62" r="4.25"/><circle cx="374.54" cy="88.75" r="4.25"/><circle cx="375.74" cy="71.48" r="4.25"/><circle cx="376.95" cy="86.4" r="4.25"/><circle cx="378.15" cy="72.12" r="4.25"/><circle cx="379.36" cy="81.64" r="4.25"/><circle cx="380.57" cy="72.74" r="4.25"/><circle cx="381.77" cy="77.09" r="4.25"/><circle cx="382.98" cy="87.42" r="4.25"/><circle cx="384.18" cy="72.19" r="4.25"/><circle cx="385.39" cy="71.98" r="4.25"/><circle cx="386.6" cy="81.6" r="4.25"/><circle cx="387.8" cy="83.74" r="4.25"/><circle cx="389.01" cy="84" r="4.25"/><circle cx="390.21" cy="89.56" r="4.25"/><circle cx="391.42" cy="78.42" r="4.25"/><circle cx="392.63" cy="88.58" r="4.25"/><circle cx="393.83" cy="86.35" r="4.25"/><circle cx="395.04" cy="91.16" r="4.25"/><circle cx="396.24" cy="90.63" r="4.25"/><circle cx="397.45" cy="94.78" r="4.25"/><circle cx="398.65" cy="80.54" r="4.25"/><circle cx="399.86" cy="89.03" r="4.25"/><circle cx="401.07" cy="82.96" r="4.25"/><circle cx="402.27" cy="88.92" r="4.25"/><circle cx="403.48" cy="93.58" r="4.25"/><circle cx="404.68" cy="92.16" r="4.25"/><circle cx="405.89" cy="94.33" r="4.25"/><circle cx="407.1" cy="92.01" r="4.25"/><circle cx="408.3" cy="95.32" r="4.25"/><circle cx="409.51" cy="96.08" r="4.25"/><circle cx="410.71" cy="103.56" r="4.25"/><circle cx="411.92" cy="101.55" r="4.25"/><circle cx="413.13" cy="88.66" r="4.25"/><circle cx="414.33" cy="103.28" r="4.25"/><circle cx="415.54" cy="106.59" r="4.25"/><circle cx="416.74" cy="99.56" r="4.25"/><circle cx="417.95" cy="94.24" r="4.25"/><circle cx="419.16" cy="111.41" r="4.25"/><circle cx="420.36" cy="104.75" r="4.25"/><circle cx="421.57" cy="107.57" r="4.25"/><circle cx="422.77" cy="114.31" r="4.25"/><circle cx="423.98" cy="100.05" r="4.25"/><circle cx="425.19" cy="104.44" r="4.25"/><circle cx="426.39" cy="103.87" r="4.25"/><circle cx="427.6" cy="108.55" r="4.25"/><circle cx="428.8" cy="101.51" r="4.25"/><circle cx="430.01" cy="107.11" r="4.25"/><circle cx="431.22" cy="104.72" r="4.25"/><circle cx="432.42" cy="110.19" r="4.25"/><circle cx="433.63" cy="110.74" r="4.25"/><circle cx="434.83" cy="95.97" r="4.25"/><circle cx="436.04" cy="106.55" r="4.25"/><circle cx="437.25" cy="101.94" r="4.25"/><circle cx="438.45" cy="103.85" r="4.25"/><circle cx="439.66" cy="106.31" r="4.25"/><circle cx="440.86" cy="106.89" r="4.25"/><circle cx="442.07" cy="100.61" r="4.25"/><circle cx="443.28" cy="106.34" r="4.25"/><circle cx="444.48" cy="105.95" r="4.25"/><circle cx="445.69" cy="105.51" r="4.25"/><circle cx="446.89" cy="99.49" r="4.25"/><circle cx="448.1" cy="103.01" r="4.25"/><circle cx="449.31" cy="105.44" r="4.25"/><circle cx="450.51" cy="111.59" r="4.25"/><circle cx="451.72" cy="116.96" r="4.25"/><circle cx="452.92" cy="104.12" r="4.25"/><circle cx="454.13" cy="104.53" r="4.25"/><circle cx="455.33" cy="111.35" r="4.25"/><circle cx="456.54" cy="107.76" r="4.25"/><circle cx="457.75" cy="106.65" r="4.25"/><circle cx="458.95" cy="106.6" r="4.25"/><circle cx="460.16" cy="106.32" r="4.25"/><circle cx="461.36" cy="114.49" r="4.25"/><circle cx="462.57" cy="103.42" r="4.25"/><circle cx="463.78" cy="119.7" r="4.25"/><circle cx="464.98" cy="108.02" r="4.25"/><circle cx="466.19" cy="110.71" r="4.25"/><circle cx="467.39" cy="109.23" r="4.25"/><circle cx="468.6" cy="104.27" r="4.25"/><circle cx="469.81" cy="107.47" r="4.25"/><circle cx="471.01" cy="123.62" r="4.25"/><circle cx="472.22" cy="127.81" r="4.25"/><circle cx="473.42" cy="114.46" r="4.25"/><circle cx="474.63" cy="126.13" r="4.25"/><circle cx="475.84" cy="121.43" r="4.25"/><circle cx="477.04" cy="117.55" r="4.25"/><circle cx="478.25" cy="132.82" r="4.25"/><circle cx="479.45" cy="136.37" r="4.25"/><circle cx="480.66" cy="123.49" r="4.25"/><circle cx="481.87" cy="125.36" r="4.25"/><circle cx="483.07" cy="127.52" r="4.25"/><circle cx="484.28" cy="126.23" r="4.25"/><circle cx="485.48" cy="131.62" r="4.25"/><circle cx="486.69" cy="135.5" r="4.25"/><circle cx="487.9" cy="127.77" r="4.25"/><circle cx="489.1" cy="132.35" r="4.25"/><circle cx="490.31" cy="136.14" r="4.25"/><circle cx="491.51" cy="123.68" r="4.25"/><circle cx="492.72" cy="126.93" r="4.25"/><circle cx="493.93" cy="124.29" r="4.25"/><circle cx="495.13" cy="132.49" r="4.25"/><circle cx="496.34" cy="130.85" r="4.25"/><circle cx="497.54" cy="133.22" r="4.25"/><circle cx="498.75" cy="133.09" r="4.25"/><circle cx="499.96" cy="127.49" r="4.25"/><circle cx="501.16" cy="133.87" r="4.25"/><circle cx="502.37" cy="128.14" r="4.25"/><circle cx="503.57" cy="129.13" r="4.25"/><circle cx="504.78" cy="120.34" r="4.25"/><circle cx="505.99" cy="141" r="4.25"/><circle cx="507.19" cy="128.83" r="4.25"/><circle cx="508.4" cy="135.42" r="4.25"/><circle cx="509.6" cy="135.94" r="4.25"/><circle cx="510.81" cy="145.13" r="4.25"/><circle cx="512.01" cy="140.29" r="4.25"/><circle cx="513.22" cy="134.21" r="4.25"/><circle cx="514.43" cy="139.76" r="4.25"/><circle cx="515.63" cy="139.58" r="4.25"/><circle cx="516.84" cy="142.45" r="4.25"/><circle cx="518.04" cy="134.81" r="4.25"/><circle cx="519.25" cy="142.24" r="4.25"/><circle cx="520.46" cy="155.43" r="4.25"/><circle cx="521.66" cy="147.38" r="4.25"/><circle cx="522.87" cy="155.35" r="4.25"/><circle cx="524.07" cy="163.36" r="4.25"/><circle cx="525.28" cy="148.27" r="4.25"/><circle cx="526.49" cy="138.12" r="4.25"/><circle cx="527.69" cy="146.09" r="4.25"/><circle cx="528.9" cy="153.65" r="4.25"/><circle cx="530.1" cy="152.81" r="4.25"/><circle cx="531.31" cy="141.34" r="4.25"/><circle cx="532.52" cy="147.38" r="4.25"/><circle cx="533.72" cy="148.44" r="4.25"/><circle cx="534.93" cy="149.43" r="4.25"/><circle cx="536.13" cy="149.3" r="4.25"/><circle cx="537.34" cy="145.3" r="4.25"/><circle cx="538.55" cy="147.16" r="4.25"/><circle cx="539.75" cy="149.56" r="4.25"/><circle cx="540.96" cy="157.28" r="4.25"/><circle cx="542.16" cy="148.79" r="4.25"/><circle cx="543.37" cy="156.12" r="4.25"/><circle cx="544.58" cy="146.28" r="4.25"/><circle cx="545.78" cy="160.27" r="4.25"/><circle cx="546.99" cy="154.04" r="4.25"/><circle cx="548.19" cy="153.51" r="4.25"/><circle cx="549.4" cy="161.23" r="4.25"/><circle cx="550.61" cy="143.71" r="4.25"/><circle cx="551.81" cy="145.22" r="4.25"/><circle cx="553.02" cy="156.25" r="4.25"/><circle cx="554.22" cy="149.06" r="4.25"/><circle cx="555.43" cy="151.3" r="4.25"/><circle cx="556.64" cy="168.55" r="4.25"/><circle cx="557.84" cy="152.17" r="4.25"/><circle cx="559.05" cy="154.18" r="4.25"/><circle cx="560.25" cy="153.7" r="4.25"/><circle cx="561.46" cy="160.85" r="4.25"/><circle cx="562.67" cy="156.77" r="4.25"/><circle cx="563.87" cy="156.93" r="4.25"/><circle cx="565.08" cy="149.83" r="4.25"/><circle cx="566.28" cy="155.58" r="4.25"/><circle cx="567.49" cy="158.44" r="4.25"/><circle cx="568.7" cy="150.53" r="4.25"/><circle cx="569.9" cy="163.49" r="4.25"/><circle cx="571.11" cy="163.51" r="4.25"/><circle cx="572.31" cy="172.72" r="4.25"/><circle cx="573.52" cy="154.22" r="4.25"/><circle cx="574.72" cy="158.72" r="4.25"/><circle cx="575.93" cy="160.03" r="4.25"/><circle cx="577.14" cy="162.5" r="4.25"/><circle cx="578.34" cy="166.74" r="4.25"/><circle cx="579.55" cy="167.13" r="4.25"/><circle cx="580.75" cy="170.79" r="4.25"/><circle cx="581.96" cy="171.4" r="4.25"/><circle cx="583.17" cy="170.73" r="4.25"/><circle cx="584.37" cy="163.02" r="4.25"/><circle cx="585.58" cy="169.13" r="4.25"/><circle cx="586.78" cy="173.12" r="4.25"/><circle cx="587.99" cy="176.48" r="4.25"/><circle cx="589.2" cy="177.04" r="4.25"/><circle cx="590.4" cy="164.28" r="4.25"/><circle cx="591.61" cy="170.66" r="4.25"/><circle cx="592.81" cy="173.24" r="4.25"/><circle cx="594.02" cy="175.67" r="4.25"/><circle cx="595.23" cy="180.12" r="4.25"/><circle cx="596.43" cy="174.22" r="4.25"/><circle cx="597.64" cy="168.96" r="4.25"/><circle cx="598.84" cy="176.49" r="4.25"/><circle cx="600.05" cy="175.85" r="4.25"/><circle cx="601.26" cy="176.19" r="4.25"/><circle cx="602.46" cy="174.67" r="4.25"/><circle cx="603.67" cy="184.91" r="4.25"/><circle cx="604.87" cy="177.49" r="4.25"/><circle cx="606.08" cy="181.45" r="4.25"/><circle cx="607.29" cy="171.78" r="4.25"/><circle cx="608.49" cy="181.6" r="4.25"/><circle cx="609.7" cy="174.11" r="4.25"/><circle cx="610.9" cy="168.88" r="4.25"/><circle cx="612.11" cy="179.69" r="4.25"/><circle cx="613.32" cy="181.6" r="4.25"/><circle cx="614.52" cy="177.36" r="4.25"/><circle cx="615.73" cy="178.89" r="4.25"/><circle cx="616.93" cy="185.16" r="4.25"/><circle cx="618.14" cy="177.48" r="4.25"/><circle cx="619.35" cy="169.39" r="4.25"/><circle cx="620.55" cy="183.53" r="4.25"/><circle cx="621.76" cy="184.4" r="4.25"/><circle cx="622.96" cy="190.55" r="4.25"/><circle cx="624.17" cy="184.12" r="4.25"/><circle cx="625.38" cy="194.61" r="4.25"/><circle cx="626.58" cy="195.3" r="4.25"/><circle cx="627.79" cy="183.04" r="4.25"/><circle cx="628.99" cy="197.06" r="4.25"/><circle cx="630.2" cy="186.96" r="4.25"/><circle cx="631.4" cy="185.66" r="4.25"/><circle cx="632.61" cy="194.06" r="4.25"/><circle cx="633.82" cy="193.34" r="4.25"/><circle cx="635.02" cy="186.1" r="4.25"/><circle cx="636.23" cy="199.16" r="4.25"/><circle cx="637.43" cy="201.95" r="4.25"/><circle cx="638.64" cy="206.68" r="4.25"/><circle cx="639.85" cy="198.83" r="4.25"/><circle cx="641.05" cy="190.58" r="4.25"/><circle cx="642.26" cy="193.45" r="4.25"/><circle cx="643.46" cy="204.18" r="4.25"/><circle cx="644.67" cy="203.33" r="4.25"/><circle cx="645.88" cy="200.88" r="4.25"/><circle cx="647.08" cy="195.84" r="4.25"/><circle cx="648.29" cy="198.26" r="4.25"/><circle cx="649.49" cy="195.42" r="4.25"/><circle cx="650.7" cy="194.59" r="4.25"/><circle cx="651.91" cy="197.74" r="4.25"/><circle cx="653.11" cy="196.08" r="4.25"/><circle cx="654.32" cy="194.59" r="4.25"/><circle cx="655.52" cy="196.36" r="4.25"/><circle cx="656.73" cy="193.2" r="4.25"/><circle cx="657.94" cy="185.65" r="4.25"/><circle cx="659.14" cy="193.45" r="4.25"/><circle cx="660.35" cy="197.07" r="4.25"/><circle cx="661.55" cy="207.69" r="4.25"/><circle cx="662.76" cy="196.36" r="4.25"/><circle cx="663.97" cy="210.45" r="4.25"/><circle cx="665.17" cy="207.99" r="4.25"/><circle cx="666.38" cy="195.58" r="4.25"/><circle cx="667.58" cy="197.07" r="4.25"/><circle cx="668.79" cy="202.56" r="4.25"/><circle cx="670" cy="212.11" r="4.25"/><circle cx="671.2" cy="204.9" r="4.25"/><circle cx="672.41" cy="207.19" r="4.25"/><circle cx="673.61" cy="200.12" r="4.25"/><circle cx="674.82" cy="191.29" r="4.25"/><circle cx="676.03" cy="203.59" r="4.25"/><circle cx="677.23" cy="209.94" r="4.25"/><circle cx="678.44" cy="212.82" r="4.25"/><circle cx="679.64" cy="207.06" r="4.25"/><circle cx="680.85" cy="208.45" r="4.25"/><circle cx="682.06" cy="214.79" r="4.25"/><circle cx="683.26" cy="208.19" r="4.25"/><circle cx="684.47" cy="216.18" r="4.25"/><circle cx="685.67" cy="203.74" r="4.25"/><circle cx="686.88" cy="204.59" r="4.25"/><circle cx="688.08" cy="204.89" r="4.25"/><circle cx="689.29" cy="214.22" r="4.25"/><circle cx="690.5" cy="208.79" r="4.25"/><circle cx="691.7" cy="212.69" r="4.25"/><circle cx="692.91" cy="214.3" r="4.25"/><circle cx="694.11" cy="214.15" r="4.25"/><circle cx="695.32" cy="219.83" r="4.25"/><circle cx="696.53" cy="220.91" r="4.25"/><circle cx="697.73" cy="208.36" r="4.25"/><circle cx="698.94" cy="214.49" r="4.25"/><circle cx="700.14" cy="212.69" r="4.25"/><circle cx="701.35" cy="208.82" r="4.25"/><circle cx="702.56" cy="225.33" r="4.25"/><circle cx="703.76" cy="220.66" r="4.25"/><circle cx="704.97" cy="215.93" r="4.25"/><circle cx="706.17" cy="215.45" r="4.25"/><circle cx="707.38" cy="220.62" r="4.25"/><circle cx="708.59" cy="213.16" r="4.25"/><circle cx="709.79" cy="218.4" r="4.25"/><circle cx="711" cy="227.06" r="4.25"/><circle cx="712.2" cy="225.78" r="4.25"/><circle cx="713.41" cy="216.03" r="4.25"/><circle cx="714.62" cy="218.16" r="4.25"/><circle cx="715.82" cy="231.89" r="4.25"/><circle cx="717.03" cy="213.22" r="4.25"/><circle cx="718.23" cy="217.51" r="4.25"/><circle cx="719.44" cy="213.13" r="4.25"/><circle cx="720.65" cy="222.91" r="4.25"/><circle cx="721.85" cy="222.15" r="4.25"/><circle cx="723.06" cy="226.66" r="4.25"/><circle cx="724.26" cy="205.24" r="4.25"/><circle cx="725.47" cy="220.53" r="4.25"/><circle cx="726.68" cy="210.05" r="4.25"/><circle cx="727.88" cy="222.68" r="4.25"/><circle cx="729.09" cy="217.84" r="4.25"/><circle cx="730.29" cy="228.38" r="4.25"/><circle cx="731.5" cy="221.05" r="4.25"/><circle cx="732.71" cy="213.45" r="4.25"/><circle cx="733.91" cy="226.78" r="4.25"/><circle cx="735.12" cy="214.01" r="4.25"/><circle cx="736.32" cy="219.02" r="4.25"/><circle cx="737.53" cy="227.87" r="4.25"/><circle cx="738.74" cy="225.69" r="4.25"/><circle cx="739.94" cy="226.46" r="4.25"/><circle cx="741.15" cy="225.05" r="4.25"/><circle cx="742.35" cy="228.79" r="4.25"/><circle cx="743.56" cy="231.31" r="4.25"/><circle cx="744.77" cy="229.04" r="4.25"/><circle cx="745.97" cy="233.83" r="4.25"/><circle cx="747.18" cy="235.83" r="4.25"/><circle cx="748.38" cy="229.08" r="4.25"/><circle cx="749.59" cy="224.02" r="4.25"/><circle cx="750.79" cy="238.16" r="4.25"/><circle cx="752" cy="229.56" r="4.25"/><circle cx="753.21" cy="233.57" r="4.25"/><circle cx="754.41" cy="235.75" r="4.25"/><circle cx="755.62" cy="225.52" r="4.25"/><circle cx="756.82" cy="233.82" r="4.25"/><circle cx="758.03" cy="222.71" r="4.25"/><circle cx="759.24" cy="236.43" r="4.25"/><circle cx="760.44" cy="230.39" r="4.25"/><circle cx="761.65" cy="234.67" r="4.25"/><circle cx="762.85" cy="238.52" r="4.25"/><circle cx="764.06" cy="231.65" r="4.25"/><circle cx="765.27" cy="236.8" r="4.25"/><circle cx="766.47" cy="233.29" r="4.25"/><circle cx="767.68" cy="237.84" r="4.25"/><circle cx="768.88" cy="244.56" r="4.25"/><circle cx="770.09" cy="239.51" r="4.25"/><circle cx="771.3" cy="239.11" r="4.25"/><circle cx="772.5" cy="234.22" r="4.25"/><circle cx="773.71" cy="245.13" r="4.25"/><circle cx="774.91" cy="240.12" r="4.25"/><circle cx="776.12" cy="249.62" r="4.25"/><circle cx="777.33" cy="235.6" r="4.25"/><circle cx="778.53" cy="245.12" r="4.25"/><circle cx="779.74" cy="248.72" r="4.25"/><circle cx="780.94" cy="238.06" r="4.25"/><circle cx="782.15" cy="230.78" r="4.25"/><circle cx="783.36" cy="245.45" r="4.25"/><circle cx="784.56" cy="242.55" r="4.25"/><circle cx="785.77" cy="240.35" r="4.25"/><circle cx="786.97" cy="242.54" r="4.25"/><circle cx="788.18" cy="234.01" r="4.25"/><circle cx="789.39" cy="241.2" r="4.25"/><circle cx="790.59" cy="241.23" r="4.25"/><circle cx="791.8" cy="234.37" r="4.25"/><circle cx="793" cy="242.83" r="4.25"/><circle cx="794.21" cy="236.81" r="4.25"/><circle cx="795.42" cy="245.74" r="4.25"/><circle cx="796.62" cy="247.96" r="4.25"/><circle cx="797.83" cy="252.37" r="4.25"/><circle cx="799.03" cy="231.87" r="4.25"/><circle cx="800.24" cy="245.22" r="4.25"/><circle cx="801.45" cy="242.76" r="4.25"/><circle cx="802.65" cy="245.12" r="4.25"/><circle cx="803.86" cy="244.77" r="4.25"/><circle cx="805.06" cy="246.2" r="4.25"/><circle cx="806.27" cy="236.31" r="4.25"/><circle cx="807.47" cy="254.09" r="4.25"/><circle cx="808.68" cy="257.88" r="4.25"/><circle cx="809.89" cy="255.54" r="4.25"/><circle cx="811.09" cy="258.18" r="4.25"/><circle cx="812.3" cy="246.93" r="4.25"/><circle cx="813.5" cy="247.21" r="4.25"/><circle cx="814.71" cy="258.15" r="4.25"/><circle cx="815.92" cy="261.25" r="4.25"/><circle cx="817.12" cy="255.87" r="4.25"/><circle cx="818.33" cy="246.37" r="4.25"/><circle cx="819.53" cy="271.16" r="4.25"/><circle cx="820.74" cy="252.38" r="4.25"/><circle cx="821.95" cy="262.08" r="4.25"/><circle cx="823.15" cy="250.33" r="4.25"/><circle cx="824.36" cy="262.95" r="4.25"/><circle cx="825.56" cy="258.73" r="4.25"/><circle cx="826.77" cy="266.07" r="4.25"/><circle cx="827.98" cy="263.27" r="4.25"/><circle cx="829.18" cy="249.85" r="4.25"/><circle cx="830.39" cy="253.24" r="4.25"/><circle cx="831.59" cy="260.32" r="4.25"/><circle cx="832.8" cy="262.99" r="4.25"/><circle cx="834.01" cy="268.76" r="4.25"/><circle cx="835.21" cy="259.9" r="4.25"/><circle cx="836.42" cy="257.52" r="4.25"/><circle cx="837.62" cy="257.46" r="4.25"/><circle cx="838.83" cy="257.09" r="4.25"/><circle cx="840.04" cy="262.56" r="4.25"/><circle cx="841.24" cy="256.04" r="4.25"/><circle cx="842.45" cy="255.49" r="4.25"/><circle cx="843.65" cy="247.53" r="4.25"/><circle cx="844.86" cy="244.05" r="4.25"/><circle cx="846.07" cy="255.6" r="4.25"/><circle cx="847.27" cy="259.4" r="4.25"/><circle cx="848.48" cy="255.74" r="4.25"/><circle cx="849.68" cy="259.39" r="4.25"/><circle cx="850.89" cy="260.84" r="4.25"/><circle cx="852.1" cy="257.69" r="4.25"/><circle cx="853.3" cy="264.21" r="4.25"/><circle cx="854.51" cy="255.57" r="4.25"/><circle cx="855.71" cy="260.49" r="4.25"/><circle cx="856.92" cy="259.22" r="4.25"/><circle cx="858.13" cy="262.37" r="4.25"/><circle cx="859.33" cy="266.05" r="4.25"/><circle cx="860.54" cy="267.78" r="4.25"/><circle cx="861.74" cy="264.05" r="4.25"/><circle cx="862.95" cy="266.13" r="4.25"/><circle cx="864.15" cy="261.89" r="4.25"/><circle cx="865.36" cy="263.52" r="4.25"/><circle cx="866.57" cy="271.63" r="4.25"/><circle cx="867.77" cy="263.7" r="4.25"/><circle cx="868.98" cy="272.19" r="4.25"/><circle cx="870.18" cy="268.42" r="4.25"/><circle cx="871.39" cy="267" r="4.25"/><circle cx="872.6" cy="277.72" r="4.25"/><circle cx="873.8" cy="265.67" r="4.25"/><circle cx="875.01" cy="265.72" r="4.25"/><circle cx="876.21" cy="267.86" r="4.25"/><circle cx="877.42" cy="269.64" r="4.25"/><circle cx="878.63" cy="269.5" r="4.25"/><circle cx="879.83" cy="273.01" r="4.25"/><circle cx="881.04" cy="268.86" r="4.25"/><circle cx="882.24" cy="270.31" r="4.25"/><circle cx="883.45" cy="266.36" r="4.25"/><circle cx="884.66" cy="273.51" r="4.25"/><circle cx="885.86" cy="264.88" r="4.25"/><circle cx="887.07" cy="265.1" r="4.25"/><circle cx="888.27" cy="266.44" r="4.25"/><circle cx="889.48" cy="267.93" r="4.25"/><circle cx="890.69" cy="262.08" r="4.25"/><circle cx="891.89" cy="274.85" r="4.25"/><circle cx="893.1" cy="262.72" r="4.25"/><circle cx="894.3" cy="264.21" r="4.25"/><circle cx="895.51" cy="264.33" r="4.25"/><circle cx="896.72" cy="264.18" r="4.25"/><circle cx="897.92" cy="270.63" r="4.25"/><circle cx="899.13" cy="268.91" r="4.25"/><circle cx="900.33" cy="264.33" r="4.25"/><circle cx="901.54" cy="266.11" r="4.25"/><circle cx="902.75" cy="268.03" r="4.25"/><circle cx="903.95" cy="278.58" r="4.25"/><circle cx="905.16" cy="267.39" r="4.25"/><circle cx="906.36" cy="264.41" r="4.25"/><circle cx="907.57" cy="266.03" r="4.25"/><circle cx="908.78" cy="271.19" r="4.25"/><circle cx="909.98" cy="282.22" r="4.25"/><circle cx="911.19" cy="268.54" r="4.25"/><circle cx="912.39" cy="275.52" r="4.25"/><circle cx="913.6" cy="289.93" r="4.25"/><circle cx="914.81" cy="273.8" r="4.25"/><circle cx="916.01" cy="285.14" r="4.25"/><circle cx="917.22" cy="284.5" r="4.25"/><circle cx="918.42" cy="281.09" r="4.25"/><circle cx="919.63" cy="270.45" r="4.25"/><circle cx="920.84" cy="280.17" r="4.25"/><circle cx="922.04" cy="276.7" r="4.25"/><circle cx="923.25" cy="268.38" r="4.25"/><circle cx="924.45" cy="269.4" r="4.25"/><circle cx="925.66" cy="279.29" r="4.25"/><circle cx="926.86" cy="280.13" r="4.25"/><circle cx="928.07" cy="286.02" r="4.25"/><circle cx="929.28" cy="282.74" r="4.25"/><circle cx="930.48" cy="276.22" r="4.25"/><circle cx="931.69" cy="276.27" r="4.25"/><circle cx="932.89" cy="277.74" r="4.25"/><circle cx="934.1" cy="272.43" r="4.25"/><circle cx="935.31" cy="282.37" r="4.25"/><circle cx="936.51" cy="277.97" r="4.25"/><circle cx="937.72" cy="273.19" r="4.25"/><circle cx="938.92" cy="273.82" r="4.25"/><circle cx="940.13" cy="270.85" r="4.25"/><circle cx="941.34" cy="274.64" r="4.25"/><circle cx="942.54" cy="278.7" r="4.25"/><circle cx="943.75" cy="274.86" r="4.25"/><circle cx="944.95" cy="282.84" r="4.25"/><circle cx="946.16" cy="286.71" r="4.25"/><circle cx="947.37" cy="274.17" r="4.25"/><circle cx="948.57" cy="278.12" r="4.25"/><circle cx="949.78" cy="276.39" r="4.25"/><circle cx="950.98" cy="288.36" r="4.25"/><circle cx="952.19" cy="281.13" r="4.25"/><circle cx="953.4" cy="282.98" r="4.25"/><circle cx="954.6" cy="285.02" r="4.25"/><circle cx="955.81" cy="293.59" r="4.25"/><circle cx="957.01" cy="283.09" r="4.25"/><circle cx="958.22" cy="276.55" r="4.25"/><circle cx="959.43" cy="280.07" r="4.25"/><circle cx="960.63" cy="286.24" r="4.25"/><circle cx="961.84" cy="283.34" r="4.25"/><circle cx="963.04" cy="279.32" r="4.25"/><circle cx="964.25" cy="299.93" r="4.25"/><circle cx="965.46" cy="285.08" r="4.25"/><circle cx="966.66" cy="281.51" r="4.25"/><circle cx="967.87" cy="281.01" r="4.25"/><circle cx="969.07" cy="275.44" r="4.25"/><circle cx="970.28" cy="279.05" r="4.25"/><circle cx="971.49" cy="284.18" r="4.25"/><circle cx="972.69" cy="284.68" r="4.25"/><circle cx="973.9" cy="282.41" r="4.25"/><circle cx="975.1" cy="290.61" r="4.25"/><circle cx="976.31" cy="288.34" r="4.25"/><circle cx="977.52" cy="283.5" r="4.25"/><circle cx="978.72" cy="278.06" r="4.25"/><circle cx="979.93" cy="290.86" r="4.25"/><circle cx="981.13" cy="290.82" r="4.25"/><circle cx="982.34" cy="289.95" r="4.25"/><circle cx="983.54" cy="283.86" r="4.25"/><circle cx="984.75" cy="292.24" r="4.25"/><circle cx="985.96" cy="284.05" r="4.25"/><circle cx="987.16" cy="298.51" r="4.25"/><circle cx="988.37" cy="294.41" r="4.25"/><circle cx="989.57" cy="294.8" r="4.25"/><circle cx="990.78" cy="289.41" r="4.25"/><circle cx="991.99" cy="288.14" r="4.25"/><circle cx="993.19" cy="303.01" r="4.25"/><circle cx="994.4" cy="299.66" r="4.25"/><circle cx="995.6" cy="292.42" r="4.25"/><circle cx="996.81" cy="298.06" r="4.25"/><circle cx="998.02" cy="302.87" r="4.25"/><circle cx="999.22" cy="287.89" r="4.25"/><circle cx="1000.43" cy="290.75" r="4.25"/><circle cx="1001.63" cy="290.46" r="4.25"/><circle cx="1002.84" cy="295.75" r="4.25"/><circle cx="1004.05" cy="286.81" r="4.25"/></g><polyline fill="none" stroke="#0000ff" stroke-width="6.2" stroke-linejoin="round" points="207.33,454.5 208.38,454.5 209.42,454.5 210.47,454.5 211.52,454.5 212.57,454.5 213.62,454.5 214.67,454.5 215.72,454.5 216.76,454.5 217.81,454.5 218.86,454.5 219.91,454.5 220.96,454.5 222.01,454.5 223.06,454.5 224.11,454.5 225.15,454.5 226.2,454.5 227.25,454.5 228.3,454.5 229.35,454.5 230.4,454.5 231.45,454.5 232.49,454.5 233.54,454.5 234.59,454.5 235.64,454.5 236.69,454.5 237.74,454.5 238.79,454.5 239.84,454.5 240.88,454.5 241.93,454.5 242.98,454.5 244.03,454.5 245.08,454.5 246.13,454.5 247.18,454.5 248.22,454.5 249.27,454.5 250.32,454.5 251.37,454.5 252.42,454.5 253.47,454.5 254.52,454.5 255.57,454.5 256.61,454.5 257.66,454.5 258.71,454.5 259.76,454.5 260.81,454.5 261.86,454.5 262.91,454.5 263.95,454.5 265,454.5 266.05,454.5 267.1,454.5 268.15,454.5 269.2,454.5 270.25,454.5 271.3,454.5 272.34,454.5 273.39,454.5 274.44,454.5 275.49,454.5 276.54,454.5 277.59,454.5 278.64,454.5 279.68,454.5 280.73,454.5 281.78,454.5 282.83,454.5 283.88,454.5 284.93,454.5 285.98,454.49 286.11,454.49 286.24,454.49 286.37,454.49 286.5,454.49 286.63,454.49 286.76,454.48 286.89,454.48 287.02,454.48 287.16,454.48 287.29,454.48 287.42,454.47 287.55,454.47 287.68,454.47 287.81,454.46 287.94,454.46 288.07,454.45 288.2,454.45 288.34,454.44 288.47,454.44 288.6,454.43 288.73,454.42 288.86,454.41 288.99,454.4 289.12,454.39 289.25,454.38 289.38,454.37 289.52,454.36 289.65,454.34 289.78,454.32 289.91,454.31 290.04,454.29 290.17,454.26 290.3,454.24 290.43,454.22 290.56,454.19 290.7,454.16 290.83,454.12 290.96,454.09 291.09,454.05 291.22,454.01 291.35,453.96 291.48,453.91 291.61,453.86 291.74,453.8 291.88,453.73 292.01,453.67 292.14,453.59 292.27,453.51 292.4,453.42 292.53,453.33 292.66,453.23 292.79,453.12 292.92,453 293.05,452.88 293.19,452.74 293.32,452.6 293.45,452.44 293.58,452.28 293.71,452.1 293.84,451.91 293.97,451.7 294.1,451.48 294.23,451.25 294.37,451 294.5,450.73 294.63,450.45 294.76,450.14 294.89,449.82 295.02,449.48 295.15,449.12 295.28,448.73 295.41,448.32 295.55,447.88 295.68,447.42 295.81,446.93 295.94,446.42 296.07,445.87 296.2,445.29 296.33,444.68 296.46,444.04 296.59,443.36 296.73,442.64 296.86,441.89 296.99,441.1 297.12,440.27 297.25,439.39 297.38,438.47 297.51,437.51 297.64,436.5 297.77,435.44 297.9,434.33 298.04,433.18 298.17,431.97 298.3,430.7 298.43,429.38 298.56,428.01 298.69,426.57 298.82,425.08 298.95,423.53 299.08,421.91 299.22,420.23 299.35,418.49 299.48,416.68 299.61,414.8 299.74,412.86 299.87,410.85 300,408.77 300.13,406.62 300.26,404.39 300.4,402.1 300.53,399.73 300.66,397.29 300.79,394.78 300.92,392.2 301.05,389.54 301.18,386.8 301.31,384 301.44,381.12 301.58,378.16 301.71,375.13 301.84,372.03 301.97,368.86 302.1,365.62 302.23,362.31 302.36,358.92 302.49,355.47 302.62,351.95 302.75,348.37 302.89,344.72 303.02,341.01 303.15,337.23 303.28,333.4 303.41,329.51 303.54,325.56 303.67,321.56 303.8,317.51 303.93,313.41 304.07,309.26 304.2,305.07 304.33,300.84 304.46,296.57 304.59,292.27 304.72,287.93 304.85,283.56 304.98,279.17 305.11,274.75 305.25,270.31 305.38,265.86 305.51,261.39 305.64,256.9 305.77,252.42 305.9,247.92 306.03,243.43 306.16,238.94 306.29,234.45 306.43,229.97 306.56,225.51 306.69,221.06 306.82,216.63 306.95,212.22 307.08,207.84 307.21,203.48 307.34,199.16 307.47,194.87 307.6,190.61 307.74,186.4 307.87,182.23 308,178.1 308.13,174.02 308.26,169.99 308.39,166.01 308.52,162.09 308.65,158.23 308.78,154.42 308.92,150.68 309.05,146.99 309.18,143.37 309.31,139.82 309.44,136.34 309.57,132.92 309.7,129.57 309.83,126.29 309.96,123.09 310.1,119.95 310.23,116.89 310.36,113.91 310.49,110.99 310.62,108.16 310.75,105.39 310.88,102.71 311.01,100.09 311.14,97.55 311.28,95.09 311.41,92.7 311.54,90.38 311.67,88.14 311.8,85.97 311.93,83.87 312.06,81.84 312.19,79.88 312.32,77.99 312.45,76.17 312.59,74.42 312.72,72.74 312.85,71.11 312.98,69.56 313.11,68.06 313.24,66.63 313.37,65.26 313.5,63.94 313.63,62.68 313.77,61.48 313.9,60.33 314.03,59.24 314.16,58.2 314.29,57.2 314.42,56.26 314.55,55.36 314.68,54.51 314.81,53.7 314.95,52.93 315.08,52.21 315.21,51.52 315.34,50.88 315.47,50.27 315.6,49.69 315.73,49.15 315.86,48.64 315.99,48.17 316.13,47.72 316.26,47.3 316.39,46.91 316.52,46.55 316.65,46.21 316.78,45.89 316.91,45.6 317.04,45.33 317.17,45.08 317.31,44.85 317.44,44.64 317.57,44.44 317.7,44.27 317.83,44.11 317.96,43.96 318.09,43.83 318.22,43.71 318.35,43.61 318.48,43.51 318.62,43.43 318.75,43.36 318.88,43.3 319.01,43.25 319.14,43.21 319.27,43.17 319.4,43.15 319.53,43.13 319.66,43.11 319.8,43.11 319.93,43.11 320.06,43.12 320.19,43.13 320.32,43.14 320.45,43.16 320.58,43.19 320.71,43.22 320.84,43.25 320.98,43.29 321.11,43.32 321.24,43.37 321.37,43.41 321.5,43.46 321.63,43.51 321.76,43.56 321.89,43.61 322.02,43.67 322.16,43.73 322.29,43.79 322.42,43.85 322.55,43.91 322.68,43.97 322.81,44.03 322.94,44.1 323.07,44.16 323.2,44.23 323.33,44.3 323.47,44.37 323.6,44.43 323.73,44.5 323.86,44.57 323.99,44.64 324.12,44.72 324.25,44.79 324.38,44.86 324.51,44.93 324.65,45 324.78,45.07 324.91,45.15 325.04,45.22 325.17,45.29 325.3,45.37 325.43,45.44 325.56,45.51 325.69,45.59 325.83,45.66 325.96,45.74 326.09,45.81 326.22,45.88 326.35,45.96 326.48,46.03 326.61,46.11 326.74,46.18 326.87,46.26 327.01,46.33 327.14,46.4 327.27,46.48 327.4,46.55 327.53,46.63 327.66,46.7 327.79,46.78 327.92,46.85 328.97,47.45 330.02,48.05 331.07,48.64 332.12,49.24 333.17,49.83 334.21,50.42 335.26,51.02 336.31,51.61 337.36,52.2 338.41,52.79 339.46,53.38 340.51,53.97 341.56,54.55 342.6,55.14 343.65,55.73 344.7,56.31 345.75,56.89 346.8,57.48 347.85,58.06 348.9,58.64 349.94,59.22 350.99,59.8 352.04,60.38 353.09,60.96 354.14,61.53 355.19,62.11 356.24,62.69 357.29,63.26 358.33,63.83 359.38,64.41 360.43,64.98 361.48,65.55 362.53,66.12 363.58,66.69 364.63,67.26 365.67,67.83 366.72,68.39 367.77,68.96 368.82,69.52 369.87,70.09 370.92,70.65 371.97,71.22 373.02,71.78 374.06,72.34 375.11,72.9 376.16,73.46 377.21,74.02 378.26,74.57 379.31,75.13 380.36,75.69 381.4,76.24 382.45,76.8 383.5,77.35 384.55,77.91 385.6,78.46 386.65,79.01 387.7,79.56 388.74,80.11 389.79,80.66 390.84,81.21 391.89,81.75 392.94,82.3 393.99,82.85 395.04,83.39 396.09,83.93 397.13,84.48 398.18,85.02 399.23,85.56 400.28,86.1 401.33,86.64 402.38,87.18 403.43,87.72 404.47,88.26 405.52,88.8 406.57,89.33 407.62,89.87 408.67,90.4 409.72,90.94 410.77,91.47 411.82,92 412.86,92.53 413.91,93.06 414.96,93.59 416.01,94.12 417.06,94.65 418.11,95.18 419.16,95.71 420.2,96.23 421.25,96.76 422.3,97.28 423.35,97.81 424.4,98.33 425.45,98.85 426.5,99.37 427.55,99.89 428.59,100.41 429.64,100.93 430.69,101.45 431.74,101.97 432.79,102.49 433.84,103 434.89,103.52 435.93,104.03 436.98,104.55 438.03,105.06 439.08,105.57 440.13,106.08 441.18,106.59 442.23,107.1 443.28,107.61 444.32,108.12 445.37,108.63 446.42,109.14 447.47,109.64 448.52,110.15 449.57,110.65 450.62,111.16 451.66,111.66 452.71,112.16 453.76,112.67 454.81,113.17 455.86,113.67 456.91,114.17 457.96,114.67 459.01,115.16 460.05,115.66 461.1,116.16 462.15,116.66 463.2,117.15 464.25,117.65 465.3,118.14 466.35,118.63 467.39,119.13 468.44,119.62 469.49,120.11 470.54,120.6 471.59,121.09 472.64,121.58 473.69,122.06 474.74,122.55 475.78,123.04 476.83,123.52 477.88,124.01 478.93,124.49 479.98,124.98 481.03,125.46 482.08,125.94 483.12,126.43 484.17,126.91 485.22,127.39 486.27,127.87 487.32,128.35 488.37,128.82 489.42,129.3 490.46,129.78 491.51,130.25 492.56,130.73 493.61,131.2 494.66,131.68 495.71,132.15 496.76,132.63 497.81,133.1 498.85,133.57 499.9,134.04 500.95,134.51 502,134.98 503.05,135.45 504.1,135.91 505.15,136.38 506.19,136.85 507.24,137.31 508.29,137.78 509.34,138.24 510.39,138.71 511.44,139.17 512.49,139.63 513.54,140.09 514.58,140.55 515.63,141.02 516.68,141.47 517.73,141.93 518.78,142.39 519.83,142.85 520.88,143.31 521.92,143.76 522.97,144.22 524.02,144.67 525.07,145.13 526.12,145.58 527.17,146.03 528.22,146.49 529.27,146.94 530.31,147.39 531.36,147.84 532.41,148.29 533.46,148.74 534.51,149.19 535.56,149.63 536.61,150.08 537.65,150.53 538.7,150.97 539.75,151.42 540.8,151.86 541.85,152.31 542.9,152.75 543.95,153.19 545,153.63 546.04,154.08 547.09,154.52 548.14,154.96 549.19,155.39 550.24,155.83 551.29,156.27 552.34,156.71 553.38,157.15 554.43,157.58 555.48,158.02 556.53,158.45 557.58,158.89 558.63,159.32 559.68,159.75 560.73,160.18 561.77,160.62 562.82,161.05 563.87,161.48 564.92,161.91 565.97,162.34 567.02,162.76 568.07,163.19 569.11,163.62 570.16,164.04 571.21,164.47 572.26,164.9 573.31,165.32 574.36,165.74 575.41,166.17 576.46,166.59 577.5,167.01 578.55,167.43 579.6,167.86 580.65,168.28 581.7,168.7 582.75,169.11 583.8,169.53 584.84,169.95 585.89,170.37 586.94,170.78 587.99,171.2 589.04,171.62 590.09,172.03 591.14,172.45 592.19,172.86 593.23,173.27 594.28,173.68 595.33,174.1 596.38,174.51 597.43,174.92 598.48,175.33 599.53,175.74 600.57,176.15 601.62,176.55 602.67,176.96 603.72,177.37 604.77,177.77 605.82,178.18 606.87,178.59 607.91,178.99 608.96,179.39 610.01,179.8 611.06,180.2 612.11,180.6 613.16,181 614.21,181.4 615.26,181.81 616.3,182.21 617.35,182.6 618.4,183 619.45,183.4 620.5,183.8 621.55,184.2 622.6,184.59 623.64,184.99 624.69,185.38 625.74,185.78 626.79,186.17 627.84,186.57 628.89,186.96 629.94,187.35 630.99,187.74 632.03,188.13 633.08,188.52 634.13,188.91 635.18,189.3 636.23,189.69 637.28,190.08 638.33,190.47 639.37,190.86 640.42,191.24 641.47,191.63 642.52,192.01 643.57,192.4 644.62,192.78 645.67,193.17 646.72,193.55 647.76,193.93 648.81,194.31 649.86,194.7 650.91,195.08 651.96,195.46 653.01,195.84 654.06,196.22 655.1,196.59 656.15,196.97 657.2,197.35 658.25,197.73 659.3,198.1 660.35,198.48 661.4,198.86 662.45,199.23 663.49,199.6 664.54,199.98 665.59,200.35 666.64,200.72 667.69,201.1 668.74,201.47 669.79,201.84 670.83,202.21 671.88,202.58 672.93,202.95 673.98,203.32 675.03,203.69 676.08,204.05 677.13,204.42 678.18,204.79 679.22,205.15 680.27,205.52 681.32,205.88 682.37,206.25 683.42,206.61 684.47,206.98 685.52,207.34 686.56,207.7 687.61,208.06 688.66,208.42 689.71,208.79 690.76,209.15 691.81,209.51 692.86,209.86 693.91,210.22 694.95,210.58 696,210.94 697.05,211.3 698.1,211.65 699.15,212.01 700.2,212.36 701.25,212.72 702.29,213.07 703.34,213.43 704.39,213.78 705.44,214.13 706.49,214.49 707.54,214.84 708.59,215.19 709.63,215.54 710.68,215.89 711.73,216.24 712.78,216.59 713.83,216.94 714.88,217.29 715.93,217.64 716.98,217.98 718.02,218.33 719.07,218.68 720.12,219.02 721.17,219.37 722.22,219.71 723.27,220.06 724.32,220.4 725.36,220.74 726.41,221.09 727.46,221.43 728.51,221.77 729.56,222.11 730.61,222.45 731.66,222.79 732.71,223.13 733.75,223.47 734.8,223.81 735.85,224.15 736.9,224.49 737.95,224.82 739,225.16 740.05,225.5 741.09,225.83 742.14,226.17 743.19,226.5 744.24,226.84 745.29,227.17 746.34,227.5 747.39,227.84 748.44,228.17 749.48,228.5 750.53,228.83 751.58,229.16 752.63,229.49 753.68,229.82 754.73,230.15 755.78,230.48 756.82,230.81 757.87,231.14 758.92,231.47 759.97,231.79 761.02,232.12 762.07,232.45 763.12,232.77 764.17,233.1 765.21,233.42 766.26,233.74 767.31,234.07 768.36,234.39 769.41,234.71 770.46,235.04 771.51,235.36 772.55,235.68 773.6,236 774.65,236.32 775.7,236.64 776.75,236.96 777.8,237.28 778.85,237.6 779.9,237.92 780.94,238.23 781.99,238.55 783.04,238.87 784.09,239.18 785.14,239.5 786.19,239.81 787.24,240.13 788.28,240.44 789.33,240.76 790.38,241.07 791.43,241.38 792.48,241.7 793.53,242.01 794.58,242.32 795.63,242.63 796.67,242.94 797.72,243.25 798.77,243.56 799.82,243.87 800.87,244.18 801.92,244.49 802.97,244.8 804.01,245.1 805.06,245.41 806.11,245.72 807.16,246.02 808.21,246.33 809.26,246.63 810.31,246.94 811.35,247.24 812.4,247.55 813.45,247.85 814.5,248.15 815.55,248.46 816.6,248.76 817.65,249.06 818.7,249.36 819.74,249.66 820.79,249.96 821.84,250.26 822.89,250.56 823.94,250.86 824.99,251.16 826.04,251.46 827.08,251.76 828.13,252.05 829.18,252.35 830.23,252.65 831.28,252.94 832.33,253.24 833.38,253.53 834.43,253.83 835.47,254.12 836.52,254.42 837.57,254.71 838.62,255 839.67,255.29 840.72,255.59 841.77,255.88 842.81,256.17 843.86,256.46 844.91,256.75 845.96,257.04 847.01,257.33 848.06,257.62 849.11,257.91 850.16,258.2 851.2,258.48 852.25,258.77 853.3,259.06 854.35,259.34 855.4,259.63 856.45,259.92 857.5,260.2 858.54,260.49 859.59,260.77 860.64,261.06 861.69,261.34 862.74,261.62 863.79,261.9 864.84,262.19 865.89,262.47 866.93,262.75 867.98,263.03 869.03,263.31 870.08,263.59 871.13,263.87 872.18,264.15 873.23,264.43 874.27,264.71 875.32,264.99 876.37,265.27 877.42,265.54 878.47,265.82 879.52,266.1 880.57,266.37 881.62,266.65 882.66,266.93 883.71,267.2 884.76,267.47 885.81,267.75 886.86,268.02 887.91,268.3 888.96,268.57 890,268.84 891.05,269.11 892.1,269.39 893.15,269.66 894.2,269.93 895.25,270.2 896.3,270.47 897.35,270.74 898.39,271.01 899.44,271.28 900.49,271.55 901.54,271.81 902.59,272.08 903.64,272.35 904.69,272.62 905.73,272.88 906.78,273.15 907.83,273.42 908.88,273.68 909.93,273.95 910.98,274.21 912.03,274.48 913.07,274.74 914.12,275 915.17,275.27 916.22,275.53 917.27,275.79 918.32,276.05 919.37,276.32 920.42,276.58 921.46,276.84 922.51,277.1 923.56,277.36 924.61,277.62 925.66,277.88 926.71,278.14 927.76,278.39 928.8,278.65 929.85,278.91 930.9,279.17 931.95,279.43 933,279.68 934.05,279.94 935.1,280.19 936.15,280.45 937.19,280.71 938.24,280.96 939.29,281.21 940.34,281.47 941.39,281.72 942.44,281.98 943.49,282.23 944.53,282.48 945.58,282.73 946.63,282.99 947.68,283.24 948.73,283.49 949.78,283.74 950.83,283.99 951.88,284.24 952.92,284.49 953.97,284.74 955.02,284.99 956.07,285.24 957.12,285.48 958.17,285.73 959.22,285.98 960.26,286.23 961.31,286.47 962.36,286.72 963.41,286.97 964.46,287.21 965.51,287.46 966.56,287.7 967.61,287.95 968.65,288.19 969.7,288.43 970.75,288.68 971.8,288.92 972.85,289.16 973.9,289.41 974.95,289.65 975.99,289.89 977.04,290.13 978.09,290.37 979.14,290.61 980.19,290.85 981.24,291.09 982.29,291.33 983.34,291.57 984.38,291.81 985.43,292.05 986.48,292.29 987.53,292.52 988.58,292.76 989.63,293 990.68,293.24 991.72,293.47 992.77,293.71 993.82,293.94 994.87,294.18 995.92,294.42 996.97,294.65 998.02,294.88 999.07,295.12 1000.11,295.35 1001.16,295.59 1002.21,295.82 1003.26,296.05 1004.31,296.28 1005.36,296.52 1006.41,296.75 1007.45,296.98 1008.5,297.21 1009.55,297.44 1010.6,297.67 1011.65,297.9 1012.7,298.13 1013.75,298.36 1014.79,298.59"/></g><g clip-path="url(#cb)"><g fill="#838383"><circle cx="270.4" cy="868.4" r="4.25"/><circle cx="288.4" cy="867" r="4.25"/><circle cx="277.3" cy="876.7" r="4.25"/><circle cx="282.8" cy="883.6" r="4.25"/><circle cx="289.7" cy="849.1" r="4.25"/><circle cx="291.1" cy="825.6" r="4.25"/><circle cx="291.8" cy="793.9" r="4.25"/><circle cx="254.5" cy="883.6" r="4.25"/><circle cx="279" cy="897" r="4.25"/><circle cx="286" cy="889" r="4.25"/><circle cx="290" cy="900" r="4.25"/><circle cx="274" cy="886" r="4.25"/><circle cx="262" cy="899" r="4.25"/><circle cx="249" cy="900" r="4.25"/><circle cx="239" cy="901" r="4.25"/><circle cx="292" cy="845" r="4.25"/><circle cx="292.5" cy="858" r="4.25"/><circle cx="292" cy="870" r="4.25"/><circle cx="291" cy="882" r="4.25"/><circle cx="292" cy="893" r="4.25"/><circle cx="286" cy="877" r="4.25"/><circle cx="284" cy="870" r="4.25"/><circle cx="276" cy="881" r="4.25"/><circle cx="272" cy="871" r="4.25"/><circle cx="266" cy="886" r="4.25"/><circle cx="258" cy="889" r="4.25"/><circle cx="245" cy="898" r="4.25"/><circle cx="230" cy="898" r="4.25"/><circle cx="222" cy="900" r="4.25"/><circle cx="289" cy="810" r="4.25"/><circle cx="290.5" cy="800" r="4.25"/><circle cx="296.15" cy="892.97" r="4.25"/><circle cx="296.88" cy="846.99" r="4.25"/><circle cx="297.62" cy="811.38" r="4.25"/><circle cx="298.35" cy="773.46" r="4.25"/><circle cx="299.08" cy="739.33" r="4.25"/><circle cx="299.82" cy="704.46" r="4.25"/><circle cx="300.55" cy="680.87" r="4.25"/><circle cx="301.29" cy="653.06" r="4.25"/><circle cx="302.02" cy="630.86" r="4.25"/><circle cx="302.75" cy="603.63" r="4.25"/><circle cx="303.49" cy="585.5" r="4.25"/><circle cx="304.22" cy="565.23" r="4.25"/><circle cx="304.96" cy="552.38" r="4.25"/><circle cx="305.69" cy="536.36" r="4.25"/><circle cx="306.43" cy="520.58" r="4.25"/><circle cx="307.16" cy="512.5" r="4.25"/><circle cx="307.89" cy="501.37" r="4.25"/><circle cx="308.63" cy="493.78" r="4.25"/><circle cx="309.36" cy="489.34" r="4.25"/><circle cx="310.1" cy="486.86" r="4.25"/><circle cx="310.83" cy="476.84" r="4.25"/><circle cx="311.56" cy="475.5" r="4.25"/><circle cx="312.3" cy="471.22" r="4.25"/><circle cx="313.03" cy="476.38" r="4.25"/><circle cx="313.77" cy="474.41" r="4.25"/><circle cx="314.5" cy="474.82" r="4.25"/><circle cx="315.23" cy="471.53" r="4.25"/><circle cx="315.97" cy="467.01" r="4.25"/><circle cx="316.7" cy="468.18" r="4.25"/><circle cx="317.44" cy="469.74" r="4.25"/><circle cx="318.17" cy="469.6" r="4.25"/><circle cx="318.9" cy="468.4" r="4.25"/><circle cx="319.64" cy="471.07" r="4.25"/><circle cx="320.37" cy="469.66" r="4.25"/><circle cx="321.11" cy="470.39" r="4.25"/><circle cx="321.84" cy="475.84" r="4.25"/><circle cx="322.57" cy="471.75" r="4.25"/><circle cx="322.68" cy="467.63" r="4.25"/><circle cx="323.89" cy="471.79" r="4.25"/><circle cx="325.09" cy="471.34" r="4.25"/><circle cx="326.3" cy="472.57" r="4.25"/><circle cx="327.5" cy="472.46" r="4.25"/><circle cx="328.71" cy="468.97" r="4.25"/><circle cx="329.92" cy="472.4" r="4.25"/><circle cx="331.12" cy="474.41" r="4.25"/><circle cx="332.33" cy="479.5" r="4.25"/><circle cx="333.53" cy="473.96" r="4.25"/><circle cx="334.74" cy="477.48" r="4.25"/><circle cx="335.94" cy="477.48" r="4.25"/><circle cx="337.15" cy="471.79" r="4.25"/><circle cx="338.36" cy="472.34" r="4.25"/><circle cx="339.56" cy="478.73" r="4.25"/><circle cx="340.77" cy="472.75" r="4.25"/><circle cx="341.97" cy="474.05" r="4.25"/><circle cx="343.18" cy="477.33" r="4.25"/><circle cx="344.39" cy="474.28" r="4.25"/><circle cx="345.59" cy="480.18" r="4.25"/><circle cx="346.8" cy="479.68" r="4.25"/><circle cx="348" cy="480.67" r="4.25"/><circle cx="349.21" cy="480.37" r="4.25"/><circle cx="350.42" cy="476.24" r="4.25"/><circle cx="351.62" cy="481.75" r="4.25"/><circle cx="352.83" cy="481.73" r="4.25"/><circle cx="354.03" cy="481.65" r="4.25"/><circle cx="355.24" cy="479.39" r="4.25"/><circle cx="356.45" cy="480.97" r="4.25"/><circle cx="357.65" cy="478.56" r="4.25"/><circle cx="358.86" cy="482.54" r="4.25"/><circle cx="360.06" cy="484.23" r="4.25"/><circle cx="361.27" cy="482.81" r="4.25"/><circle cx="362.48" cy="481.96" r="4.25"/><circle cx="363.68" cy="484.6" r="4.25"/><circle cx="364.89" cy="482.25" r="4.25"/><circle cx="366.09" cy="479.15" r="4.25"/><circle cx="367.3" cy="485.1" r="4.25"/><circle cx="368.51" cy="484.1" r="4.25"/><circle cx="369.71" cy="481.52" r="4.25"/><circle cx="370.92" cy="486.54" r="4.25"/><circle cx="372.12" cy="487.4" r="4.25"/><circle cx="373.33" cy="488.34" r="4.25"/><circle cx="374.54" cy="485.27" r="4.25"/><circle cx="375.74" cy="485.32" r="4.25"/><circle cx="376.95" cy="487.17" r="4.25"/><circle cx="378.15" cy="487.03" r="4.25"/><circle cx="379.36" cy="484.48" r="4.25"/><circle cx="380.57" cy="485.69" r="4.25"/><circle cx="381.77" cy="491.18" r="4.25"/><circle cx="382.98" cy="488.23" r="4.25"/><circle cx="384.18" cy="488.21" r="4.25"/><circle cx="385.39" cy="487.02" r="4.25"/><circle cx="386.6" cy="489.41" r="4.25"/><circle cx="387.8" cy="490.57" r="4.25"/><circle cx="389.01" cy="490.31" r="4.25"/><circle cx="390.21" cy="493.49" r="4.25"/><circle cx="391.42" cy="489.57" r="4.25"/><circle cx="392.63" cy="490.99" r="4.25"/><circle cx="393.83" cy="488.63" r="4.25"/><circle cx="395.04" cy="492.13" r="4.25"/><circle cx="396.24" cy="490.84" r="4.25"/><circle cx="397.45" cy="492.16" r="4.25"/><circle cx="398.65" cy="492.42" r="4.25"/><circle cx="399.86" cy="488.43" r="4.25"/><circle cx="401.07" cy="491.19" r="4.25"/><circle cx="402.27" cy="489.2" r="4.25"/><circle cx="403.48" cy="492.9" r="4.25"/><circle cx="404.68" cy="490.22" r="4.25"/><circle cx="405.89" cy="494.45" r="4.25"/><circle cx="407.1" cy="491.82" r="4.25"/><circle cx="408.3" cy="492.04" r="4.25"/><circle cx="409.51" cy="489.72" r="4.25"/><circle cx="410.71" cy="490.86" r="4.25"/><circle cx="411.92" cy="491.92" r="4.25"/><circle cx="413.13" cy="489.87" r="4.25"/><circle cx="414.33" cy="491.66" r="4.25"/><circle cx="415.54" cy="491.22" r="4.25"/><circle cx="416.74" cy="491.08" r="4.25"/><circle cx="417.95" cy="493.42" r="4.25"/><circle cx="419.16" cy="494.39" r="4.25"/><circle cx="420.36" cy="493.43" r="4.25"/><circle cx="421.57" cy="495.6" r="4.25"/><circle cx="422.77" cy="494.2" r="4.25"/><circle cx="423.98" cy="493" r="4.25"/><circle cx="425.19" cy="494" r="4.25"/><circle cx="426.39" cy="497.23" r="4.25"/><circle cx="427.6" cy="499.67" r="4.25"/><circle cx="428.8" cy="497.15" r="4.25"/><circle cx="430.01" cy="497.58" r="4.25"/><circle cx="431.22" cy="494.99" r="4.25"/><circle cx="432.42" cy="498.62" r="4.25"/><circle cx="433.63" cy="498.42" r="4.25"/><circle cx="434.83" cy="496.45" r="4.25"/><circle cx="436.04" cy="499.43" r="4.25"/><circle cx="437.25" cy="498.92" r="4.25"/><circle cx="438.45" cy="494.85" r="4.25"/><circle cx="439.66" cy="495.63" r="4.25"/><circle cx="440.86" cy="497.91" r="4.25"/><circle cx="442.07" cy="499.08" r="4.25"/><circle cx="443.28" cy="502.3" r="4.25"/><circle cx="444.48" cy="499.2" r="4.25"/><circle cx="445.69" cy="500.81" r="4.25"/><circle cx="446.89" cy="500.92" r="4.25"/><circle cx="448.1" cy="503.13" r="4.25"/><circle cx="449.31" cy="502.5" r="4.25"/><circle cx="450.51" cy="503.45" r="4.25"/><circle cx="451.72" cy="502.85" r="4.25"/><circle cx="452.92" cy="500.85" r="4.25"/><circle cx="454.13" cy="503.85" r="4.25"/><circle cx="455.33" cy="509" r="4.25"/><circle cx="456.54" cy="507.9" r="4.25"/><circle cx="457.75" cy="509.76" r="4.25"/><circle cx="458.95" cy="508.34" r="4.25"/><circle cx="460.16" cy="505.57" r="4.25"/><circle cx="461.36" cy="506.24" r="4.25"/><circle cx="462.57" cy="508.78" r="4.25"/><circle cx="463.78" cy="506.98" r="4.25"/><circle cx="464.98" cy="509.47" r="4.25"/><circle cx="466.19" cy="511.09" r="4.25"/><circle cx="467.39" cy="511.11" r="4.25"/><circle cx="468.6" cy="509.87" r="4.25"/><circle cx="469.81" cy="504.63" r="4.25"/><circle cx="471.01" cy="510.92" r="4.25"/><circle cx="472.22" cy="504.93" r="4.25"/><circle cx="473.42" cy="504.67" r="4.25"/><circle cx="474.63" cy="508.06" r="4.25"/><circle cx="475.84" cy="507.69" r="4.25"/><circle cx="477.04" cy="508.93" r="4.25"/><circle cx="478.25" cy="507.55" r="4.25"/><circle cx="479.45" cy="505.97" r="4.25"/><circle cx="480.66" cy="507.49" r="4.25"/><circle cx="481.87" cy="505.29" r="4.25"/><circle cx="483.07" cy="504.97" r="4.25"/><circle cx="484.28" cy="507.05" r="4.25"/><circle cx="485.48" cy="507.27" r="4.25"/><circle cx="486.69" cy="508.35" r="4.25"/><circle cx="487.9" cy="507.65" r="4.25"/><circle cx="489.1" cy="511.25" r="4.25"/><circle cx="490.31" cy="508.03" r="4.25"/><circle cx="491.51" cy="508.77" r="4.25"/><circle cx="492.72" cy="511.54" r="4.25"/><circle cx="493.93" cy="504.96" r="4.25"/><circle cx="495.13" cy="512.5" r="4.25"/><circle cx="496.34" cy="512.67" r="4.25"/><circle cx="497.54" cy="510.48" r="4.25"/><circle cx="498.75" cy="516.03" r="4.25"/><circle cx="499.96" cy="513.91" r="4.25"/><circle cx="501.16" cy="516.13" r="4.25"/><circle cx="502.37" cy="515.41" r="4.25"/><circle cx="503.57" cy="514.07" r="4.25"/><circle cx="504.78" cy="513.61" r="4.25"/><circle cx="505.99" cy="512.38" r="4.25"/><circle cx="507.19" cy="513.63" r="4.25"/><circle cx="508.4" cy="513.31" r="4.25"/><circle cx="509.6" cy="515.2" r="4.25"/><circle cx="510.81" cy="518.13" r="4.25"/><circle cx="512.01" cy="514.98" r="4.25"/><circle cx="513.22" cy="519.11" r="4.25"/><circle cx="514.43" cy="519.82" r="4.25"/><circle cx="515.63" cy="515.29" r="4.25"/><circle cx="516.84" cy="517.33" r="4.25"/><circle cx="518.04" cy="518.95" r="4.25"/><circle cx="519.25" cy="518" r="4.25"/><circle cx="520.46" cy="517.93" r="4.25"/><circle cx="521.66" cy="523.27" r="4.25"/><circle cx="522.87" cy="520.5" r="4.25"/><circle cx="524.07" cy="523.1" r="4.25"/><circle cx="525.28" cy="520.19" r="4.25"/><circle cx="526.49" cy="522.07" r="4.25"/><circle cx="527.69" cy="517.47" r="4.25"/><circle cx="528.9" cy="519.48" r="4.25"/><circle cx="530.1" cy="522.66" r="4.25"/><circle cx="531.31" cy="520.99" r="4.25"/><circle cx="532.52" cy="523.96" r="4.25"/><circle cx="533.72" cy="521.37" r="4.25"/><circle cx="534.93" cy="520.56" r="4.25"/><circle cx="536.13" cy="521.65" r="4.25"/><circle cx="537.34" cy="527.19" r="4.25"/><circle cx="538.55" cy="524.07" r="4.25"/><circle cx="539.75" cy="522.73" r="4.25"/><circle cx="540.96" cy="523.82" r="4.25"/><circle cx="542.16" cy="522.51" r="4.25"/><circle cx="543.37" cy="528.77" r="4.25"/><circle cx="544.58" cy="525.24" r="4.25"/><circle cx="545.78" cy="528.53" r="4.25"/><circle cx="546.99" cy="527.14" r="4.25"/><circle cx="548.19" cy="527.16" r="4.25"/><circle cx="549.4" cy="526.96" r="4.25"/><circle cx="550.61" cy="530.25" r="4.25"/><circle cx="551.81" cy="528.83" r="4.25"/><circle cx="553.02" cy="532.21" r="4.25"/><circle cx="554.22" cy="532.98" r="4.25"/><circle cx="555.43" cy="528.61" r="4.25"/><circle cx="556.64" cy="530.11" r="4.25"/><circle cx="557.84" cy="533.78" r="4.25"/><circle cx="559.05" cy="532.04" r="4.25"/><circle cx="560.25" cy="530.06" r="4.25"/><circle cx="561.46" cy="526.53" r="4.25"/><circle cx="562.67" cy="527.69" r="4.25"/><circle cx="563.87" cy="528.28" r="4.25"/><circle cx="565.08" cy="534.25" r="4.25"/><circle cx="566.28" cy="530.46" r="4.25"/><circle cx="567.49" cy="529.26" r="4.25"/><circle cx="568.7" cy="529.63" r="4.25"/><circle cx="569.9" cy="529.83" r="4.25"/><circle cx="571.11" cy="531.63" r="4.25"/><circle cx="572.31" cy="527.42" r="4.25"/><circle cx="573.52" cy="528.48" r="4.25"/><circle cx="574.72" cy="532.56" r="4.25"/><circle cx="575.93" cy="535.12" r="4.25"/><circle cx="577.14" cy="528.69" r="4.25"/><circle cx="578.34" cy="535.26" r="4.25"/><circle cx="579.55" cy="531.84" r="4.25"/><circle cx="580.75" cy="530.8" r="4.25"/><circle cx="581.96" cy="537.99" r="4.25"/><circle cx="583.17" cy="535.76" r="4.25"/><circle cx="584.37" cy="537.81" r="4.25"/><circle cx="585.58" cy="536.38" r="4.25"/><circle cx="586.78" cy="537.33" r="4.25"/><circle cx="587.99" cy="534.04" r="4.25"/><circle cx="589.2" cy="537.54" r="4.25"/><circle cx="590.4" cy="539.21" r="4.25"/><circle cx="591.61" cy="536.83" r="4.25"/><circle cx="592.81" cy="540.2" r="4.25"/><circle cx="594.02" cy="540.51" r="4.25"/><circle cx="595.23" cy="534.58" r="4.25"/><circle cx="596.43" cy="541.66" r="4.25"/><circle cx="597.64" cy="540.95" r="4.25"/><circle cx="598.84" cy="539.84" r="4.25"/><circle cx="600.05" cy="542.54" r="4.25"/><circle cx="601.26" cy="545.22" r="4.25"/><circle cx="602.46" cy="538.3" r="4.25"/><circle cx="603.67" cy="542.99" r="4.25"/><circle cx="604.87" cy="542.96" r="4.25"/><circle cx="606.08" cy="543.19" r="4.25"/><circle cx="607.29" cy="545.25" r="4.25"/><circle cx="608.49" cy="546.14" r="4.25"/><circle cx="609.7" cy="543.96" r="4.25"/><circle cx="610.9" cy="539.42" r="4.25"/><circle cx="612.11" cy="543.79" r="4.25"/><circle cx="613.32" cy="544.22" r="4.25"/><circle cx="614.52" cy="549.74" r="4.25"/><circle cx="615.73" cy="546.58" r="4.25"/><circle cx="616.93" cy="549.37" r="4.25"/><circle cx="618.14" cy="544.9" r="4.25"/><circle cx="619.35" cy="547.13" r="4.25"/><circle cx="620.55" cy="546.37" r="4.25"/><circle cx="621.76" cy="546.47" r="4.25"/><circle cx="622.96" cy="547.4" r="4.25"/><circle cx="624.17" cy="549.35" r="4.25"/><circle cx="625.38" cy="544.32" r="4.25"/><circle cx="626.58" cy="548.67" r="4.25"/><circle cx="627.79" cy="548.11" r="4.25"/><circle cx="628.99" cy="546.07" r="4.25"/><circle cx="630.2" cy="547.1" r="4.25"/><circle cx="631.4" cy="545.06" r="4.25"/><circle cx="632.61" cy="543.6" r="4.25"/><circle cx="633.82" cy="545.69" r="4.25"/><circle cx="635.02" cy="546.22" r="4.25"/><circle cx="636.23" cy="547.06" r="4.25"/><circle cx="637.43" cy="545.59" r="4.25"/><circle cx="638.64" cy="552.24" r="4.25"/><circle cx="639.85" cy="547.54" r="4.25"/><circle cx="641.05" cy="550.86" r="4.25"/><circle cx="642.26" cy="551.82" r="4.25"/><circle cx="643.46" cy="549.17" r="4.25"/><circle cx="644.67" cy="550.21" r="4.25"/><circle cx="645.88" cy="548.07" r="4.25"/><circle cx="647.08" cy="546.97" r="4.25"/><circle cx="648.29" cy="554.95" r="4.25"/><circle cx="649.49" cy="549.91" r="4.25"/><circle cx="650.7" cy="545.42" r="4.25"/><circle cx="651.91" cy="548.19" r="4.25"/><circle cx="653.11" cy="547.18" r="4.25"/><circle cx="654.32" cy="550.67" r="4.25"/><circle cx="655.52" cy="554.66" r="4.25"/><circle cx="656.73" cy="554.42" r="4.25"/><circle cx="657.94" cy="550.69" r="4.25"/><circle cx="659.14" cy="550.63" r="4.25"/><circle cx="660.35" cy="554.99" r="4.25"/><circle cx="661.55" cy="554.39" r="4.25"/><circle cx="662.76" cy="553.6" r="4.25"/><circle cx="663.97" cy="558.63" r="4.25"/><circle cx="665.17" cy="555.8" r="4.25"/><circle cx="666.38" cy="551.64" r="4.25"/><circle cx="667.58" cy="550.69" r="4.25"/><circle cx="668.79" cy="556.31" r="4.25"/><circle cx="670" cy="552.19" r="4.25"/><circle cx="671.2" cy="557.94" r="4.25"/><circle cx="672.41" cy="558.92" r="4.25"/><circle cx="673.61" cy="562.5" r="4.25"/><circle cx="674.82" cy="555.42" r="4.25"/><circle cx="676.03" cy="558.72" r="4.25"/><circle cx="677.23" cy="552.69" r="4.25"/><circle cx="678.44" cy="557.49" r="4.25"/><circle cx="679.64" cy="557.99" r="4.25"/><circle cx="680.85" cy="562.74" r="4.25"/><circle cx="682.06" cy="555.28" r="4.25"/><circle cx="683.26" cy="559.73" r="4.25"/><circle cx="684.47" cy="559.44" r="4.25"/><circle cx="685.67" cy="564.34" r="4.25"/><circle cx="686.88" cy="557.36" r="4.25"/><circle cx="688.08" cy="557.44" r="4.25"/><circle cx="689.29" cy="561.36" r="4.25"/><circle cx="690.5" cy="560.03" r="4.25"/><circle cx="691.7" cy="559.61" r="4.25"/><circle cx="692.91" cy="558.58" r="4.25"/><circle cx="694.11" cy="560.83" r="4.25"/><circle cx="695.32" cy="557.38" r="4.25"/><circle cx="696.53" cy="562.16" r="4.25"/><circle cx="697.73" cy="563.22" r="4.25"/><circle cx="698.94" cy="563.12" r="4.25"/><circle cx="700.14" cy="568.08" r="4.25"/><circle cx="701.35" cy="564.29" r="4.25"/><circle cx="702.56" cy="560.33" r="4.25"/><circle cx="703.76" cy="562.24" r="4.25"/><circle cx="704.97" cy="564.97" r="4.25"/><circle cx="706.17" cy="562.54" r="4.25"/><circle cx="707.38" cy="568.31" r="4.25"/><circle cx="708.59" cy="564.7" r="4.25"/><circle cx="709.79" cy="563.26" r="4.25"/><circle cx="711" cy="563.37" r="4.25"/><circle cx="712.2" cy="567.32" r="4.25"/><circle cx="713.41" cy="564.06" r="4.25"/><circle cx="714.62" cy="562.53" r="4.25"/><circle cx="715.82" cy="568.49" r="4.25"/><circle cx="717.03" cy="566.5" r="4.25"/><circle cx="718.23" cy="572.48" r="4.25"/><circle cx="719.44" cy="574.09" r="4.25"/><circle cx="720.65" cy="568.81" r="4.25"/><circle cx="721.85" cy="570.73" r="4.25"/><circle cx="723.06" cy="570.94" r="4.25"/><circle cx="724.26" cy="573.25" r="4.25"/><circle cx="725.47" cy="573.04" r="4.25"/><circle cx="726.68" cy="570.9" r="4.25"/><circle cx="727.88" cy="569.17" r="4.25"/><circle cx="729.09" cy="573.93" r="4.25"/><circle cx="730.29" cy="577.5" r="4.25"/><circle cx="731.5" cy="571.01" r="4.25"/><circle cx="732.71" cy="572.78" r="4.25"/><circle cx="733.91" cy="572.81" r="4.25"/><circle cx="735.12" cy="574.18" r="4.25"/><circle cx="736.32" cy="569.47" r="4.25"/><circle cx="737.53" cy="574.88" r="4.25"/><circle cx="738.74" cy="574.13" r="4.25"/><circle cx="739.94" cy="579.87" r="4.25"/><circle cx="741.15" cy="577.26" r="4.25"/><circle cx="742.35" cy="577.84" r="4.25"/><circle cx="743.56" cy="576.69" r="4.25"/><circle cx="744.77" cy="576.18" r="4.25"/><circle cx="745.97" cy="579.07" r="4.25"/><circle cx="747.18" cy="573.69" r="4.25"/><circle cx="748.38" cy="580.44" r="4.25"/><circle cx="749.59" cy="579.29" r="4.25"/><circle cx="750.79" cy="577.94" r="4.25"/><circle cx="752" cy="581.54" r="4.25"/><circle cx="753.21" cy="577.47" r="4.25"/><circle cx="754.41" cy="577.4" r="4.25"/><circle cx="755.62" cy="579.56" r="4.25"/><circle cx="756.82" cy="574.51" r="4.25"/><circle cx="758.03" cy="578.69" r="4.25"/><circle cx="759.24" cy="578.21" r="4.25"/><circle cx="760.44" cy="581.07" r="4.25"/><circle cx="761.65" cy="582.72" r="4.25"/><circle cx="762.85" cy="580.35" r="4.25"/><circle cx="764.06" cy="579.69" r="4.25"/><circle cx="765.27" cy="580.09" r="4.25"/><circle cx="766.47" cy="577.37" r="4.25"/><circle cx="767.68" cy="584.75" r="4.25"/><circle cx="768.88" cy="582" r="4.25"/><circle cx="770.09" cy="583.74" r="4.25"/><circle cx="771.3" cy="576.61" r="4.25"/><circle cx="772.5" cy="581.16" r="4.25"/><circle cx="773.71" cy="581.2" r="4.25"/><circle cx="774.91" cy="582.74" r="4.25"/><circle cx="776.12" cy="578.32" r="4.25"/><circle cx="777.33" cy="581.54" r="4.25"/><circle cx="778.53" cy="580.3" r="4.25"/><circle cx="779.74" cy="585.74" r="4.25"/><circle cx="780.94" cy="578.65" r="4.25"/><circle cx="782.15" cy="580.73" r="4.25"/><circle cx="783.36" cy="580.7" r="4.25"/><circle cx="784.56" cy="579.47" r="4.25"/><circle cx="785.77" cy="583.11" r="4.25"/><circle cx="786.97" cy="583.42" r="4.25"/><circle cx="788.18" cy="581.74" r="4.25"/><circle cx="789.39" cy="582.77" r="4.25"/><circle cx="790.59" cy="584.65" r="4.25"/><circle cx="791.8" cy="584.31" r="4.25"/><circle cx="793" cy="585.87" r="4.25"/><circle cx="794.21" cy="583.34" r="4.25"/><circle cx="795.42" cy="583.09" r="4.25"/><circle cx="796.62" cy="585.48" r="4.25"/><circle cx="797.83" cy="581.42" r="4.25"/><circle cx="799.03" cy="589.57" r="4.25"/><circle cx="800.24" cy="586.85" r="4.25"/><circle cx="801.45" cy="582.69" r="4.25"/><circle cx="802.65" cy="587.98" r="4.25"/><circle cx="803.86" cy="591.09" r="4.25"/><circle cx="805.06" cy="584.64" r="4.25"/><circle cx="806.27" cy="587.09" r="4.25"/><circle cx="807.47" cy="591.63" r="4.25"/><circle cx="808.68" cy="587.64" r="4.25"/><circle cx="809.89" cy="592.37" r="4.25"/><circle cx="811.09" cy="593.71" r="4.25"/><circle cx="812.3" cy="591.59" r="4.25"/><circle cx="813.5" cy="592.97" r="4.25"/><circle cx="814.71" cy="595.03" r="4.25"/><circle cx="815.92" cy="593.99" r="4.25"/><circle cx="817.12" cy="596.1" r="4.25"/><circle cx="818.33" cy="594.28" r="4.25"/><circle cx="819.53" cy="595.08" r="4.25"/><circle cx="820.74" cy="593.9" r="4.25"/><circle cx="821.95" cy="597.23" r="4.25"/><circle cx="823.15" cy="599.77" r="4.25"/><circle cx="824.36" cy="600.23" r="4.25"/><circle cx="825.56" cy="598.18" r="4.25"/><circle cx="826.77" cy="594.46" r="4.25"/><circle cx="827.98" cy="596.4" r="4.25"/><circle cx="829.18" cy="600.17" r="4.25"/><circle cx="830.39" cy="596.84" r="4.25"/><circle cx="831.59" cy="602" r="4.25"/><circle cx="832.8" cy="597.32" r="4.25"/><circle cx="834.01" cy="600.89" r="4.25"/><circle cx="835.21" cy="598.61" r="4.25"/><circle cx="836.42" cy="599.33" r="4.25"/><circle cx="837.62" cy="601.81" r="4.25"/><circle cx="838.83" cy="600.82" r="4.25"/><circle cx="840.04" cy="604.44" r="4.25"/><circle cx="841.24" cy="602.52" r="4.25"/><circle cx="842.45" cy="600.18" r="4.25"/><circle cx="843.65" cy="593.49" r="4.25"/><circle cx="844.86" cy="601.53" r="4.25"/><circle cx="846.07" cy="603.08" r="4.25"/><circle cx="847.27" cy="605.69" r="4.25"/><circle cx="848.48" cy="600.92" r="4.25"/><circle cx="849.68" cy="607.14" r="4.25"/><circle cx="850.89" cy="605.1" r="4.25"/><circle cx="852.1" cy="602.34" r="4.25"/><circle cx="853.3" cy="605.87" r="4.25"/><circle cx="854.51" cy="599.49" r="4.25"/><circle cx="855.71" cy="600.51" r="4.25"/><circle cx="856.92" cy="604.39" r="4.25"/><circle cx="858.13" cy="604.45" r="4.25"/><circle cx="859.33" cy="606.36" r="4.25"/><circle cx="860.54" cy="606.75" r="4.25"/><circle cx="861.74" cy="602.75" r="4.25"/><circle cx="862.95" cy="602.62" r="4.25"/><circle cx="864.15" cy="603.57" r="4.25"/><circle cx="865.36" cy="604.11" r="4.25"/><circle cx="866.57" cy="606.39" r="4.25"/><circle cx="867.77" cy="604.65" r="4.25"/><circle cx="868.98" cy="609.26" r="4.25"/><circle cx="870.18" cy="606.25" r="4.25"/><circle cx="871.39" cy="603.28" r="4.25"/><circle cx="872.6" cy="604.03" r="4.25"/><circle cx="873.8" cy="608.55" r="4.25"/><circle cx="875.01" cy="608.66" r="4.25"/><circle cx="876.21" cy="605.12" r="4.25"/><circle cx="877.42" cy="604.57" r="4.25"/><circle cx="878.63" cy="612.53" r="4.25"/><circle cx="879.83" cy="610.43" r="4.25"/><circle cx="881.04" cy="609.25" r="4.25"/><circle cx="882.24" cy="607.3" r="4.25"/><circle cx="883.45" cy="612.34" r="4.25"/><circle cx="884.66" cy="609.18" r="4.25"/><circle cx="885.86" cy="611.59" r="4.25"/><circle cx="887.07" cy="605.62" r="4.25"/><circle cx="888.27" cy="610.3" r="4.25"/><circle cx="889.48" cy="611.77" r="4.25"/><circle cx="890.69" cy="612.37" r="4.25"/><circle cx="891.89" cy="609.3" r="4.25"/><circle cx="893.1" cy="610.31" r="4.25"/><circle cx="894.3" cy="614.53" r="4.25"/><circle cx="895.51" cy="611.69" r="4.25"/><circle cx="896.72" cy="615.49" r="4.25"/><circle cx="897.92" cy="614.37" r="4.25"/><circle cx="899.13" cy="615.87" r="4.25"/><circle cx="900.33" cy="616.23" r="4.25"/><circle cx="901.54" cy="615.08" r="4.25"/><circle cx="902.75" cy="616.11" r="4.25"/><circle cx="903.95" cy="613" r="4.25"/><circle cx="905.16" cy="612.75" r="4.25"/><circle cx="906.36" cy="615.52" r="4.25"/><circle cx="907.57" cy="617.92" r="4.25"/><circle cx="908.78" cy="613.83" r="4.25"/><circle cx="909.98" cy="620.68" r="4.25"/><circle cx="911.19" cy="620.74" r="4.25"/><circle cx="912.39" cy="614.86" r="4.25"/><circle cx="913.6" cy="615.26" r="4.25"/><circle cx="914.81" cy="614.75" r="4.25"/><circle cx="916.01" cy="617.7" r="4.25"/><circle cx="917.22" cy="620.32" r="4.25"/><circle cx="918.42" cy="618.78" r="4.25"/><circle cx="919.63" cy="616.49" r="4.25"/><circle cx="920.84" cy="619.76" r="4.25"/><circle cx="922.04" cy="619.81" r="4.25"/><circle cx="923.25" cy="621.61" r="4.25"/><circle cx="924.45" cy="621.28" r="4.25"/><circle cx="925.66" cy="616.85" r="4.25"/><circle cx="926.86" cy="617.96" r="4.25"/><circle cx="928.07" cy="621.93" r="4.25"/><circle cx="929.28" cy="621.98" r="4.25"/><circle cx="930.48" cy="621.05" r="4.25"/><circle cx="931.69" cy="618.78" r="4.25"/><circle cx="932.89" cy="623.07" r="4.25"/><circle cx="934.1" cy="621.1" r="4.25"/><circle cx="935.31" cy="626.03" r="4.25"/><circle cx="936.51" cy="624.36" r="4.25"/><circle cx="937.72" cy="620.87" r="4.25"/><circle cx="938.92" cy="620.16" r="4.25"/><circle cx="940.13" cy="625.27" r="4.25"/><circle cx="941.34" cy="624.74" r="4.25"/><circle cx="942.54" cy="621.46" r="4.25"/><circle cx="943.75" cy="624.56" r="4.25"/><circle cx="944.95" cy="625.25" r="4.25"/><circle cx="946.16" cy="623.16" r="4.25"/><circle cx="947.37" cy="624.26" r="4.25"/><circle cx="948.57" cy="622.52" r="4.25"/><circle cx="949.78" cy="623.68" r="4.25"/><circle cx="950.98" cy="627.28" r="4.25"/><circle cx="952.19" cy="626.69" r="4.25"/><circle cx="953.4" cy="627.05" r="4.25"/><circle cx="954.6" cy="630.58" r="4.25"/><circle cx="955.81" cy="630.24" r="4.25"/><circle cx="957.01" cy="626.29" r="4.25"/><circle cx="958.22" cy="632.75" r="4.25"/><circle cx="959.43" cy="627.33" r="4.25"/><circle cx="960.63" cy="629.49" r="4.25"/><circle cx="961.84" cy="630.96" r="4.25"/><circle cx="963.04" cy="629.87" r="4.25"/><circle cx="964.25" cy="630.44" r="4.25"/><circle cx="965.46" cy="629.15" r="4.25"/><circle cx="966.66" cy="633.21" r="4.25"/><circle cx="967.87" cy="633.14" r="4.25"/><circle cx="969.07" cy="633.47" r="4.25"/><circle cx="970.28" cy="628.82" r="4.25"/><circle cx="971.49" cy="631.24" r="4.25"/><circle cx="972.69" cy="635.81" r="4.25"/><circle cx="973.9" cy="634.69" r="4.25"/><circle cx="975.1" cy="635.81" r="4.25"/><circle cx="976.31" cy="634.4" r="4.25"/><circle cx="977.52" cy="634.21" r="4.25"/><circle cx="978.72" cy="629.69" r="4.25"/><circle cx="979.93" cy="639.49" r="4.25"/><circle cx="981.13" cy="633.19" r="4.25"/><circle cx="982.34" cy="634.85" r="4.25"/><circle cx="983.54" cy="637.76" r="4.25"/><circle cx="984.75" cy="636.77" r="4.25"/><circle cx="985.96" cy="637.83" r="4.25"/><circle cx="987.16" cy="636.82" r="4.25"/><circle cx="988.37" cy="634.83" r="4.25"/><circle cx="989.57" cy="640.87" r="4.25"/><circle cx="990.78" cy="634.54" r="4.25"/><circle cx="991.99" cy="638.64" r="4.25"/><circle cx="993.19" cy="634.51" r="4.25"/><circle cx="994.4" cy="637.24" r="4.25"/><circle cx="995.6" cy="635.59" r="4.25"/><circle cx="996.81" cy="637.37" r="4.25"/><circle cx="998.02" cy="636.46" r="4.25"/><circle cx="999.22" cy="639.15" r="4.25"/><circle cx="1000.43" cy="641.53" r="4.25"/><circle cx="1001.63" cy="638.41" r="4.25"/><circle cx="1002.84" cy="638.67" r="4.25"/><circle cx="1004.05" cy="635.81" r="4.25"/><circle cx="1005.25" cy="645.59" r="4.25"/><circle cx="1006.46" cy="641.7" r="4.25"/><circle cx="1007.66" cy="639.02" r="4.25"/><circle cx="1008.87" cy="644.53" r="4.25"/><circle cx="1010.08" cy="642.28" r="4.25"/><circle cx="1011.28" cy="636.94" r="4.25"/><circle cx="1012.49" cy="638.55" r="4.25"/><circle cx="1013.69" cy="643.8" r="4.25"/><circle cx="1014.9" cy="638.42" r="4.25"/></g><polyline fill="none" stroke="#ff0000" stroke-width="6.2" stroke-linejoin="round" points="295.41,953.5 295.55,945.32 295.68,937.22 295.81,929.2 295.94,921.27 296.07,913.41 296.2,905.64 296.33,897.94 296.46,890.33 296.59,882.79 296.73,875.34 296.86,867.97 296.99,860.67 297.12,853.46 297.25,846.33 297.38,839.27 297.51,832.3 297.64,825.4 297.77,818.58 297.9,811.84 298.04,805.18 298.17,798.6 298.3,792.1 298.43,785.67 298.56,779.33 298.69,773.06 298.82,766.87 298.95,760.75 299.08,754.71 299.22,748.75 299.35,742.87 299.48,737.06 299.61,731.33 299.74,725.67 299.87,720.1 300,714.59 300.13,709.16 300.26,703.81 300.4,698.53 300.53,693.33 300.66,688.2 300.79,683.14 300.92,678.16 301.05,673.25 301.18,668.41 301.31,663.65 301.44,658.96 301.58,654.34 301.71,649.79 301.84,645.32 301.97,640.92 302.1,636.58 302.23,632.32 302.36,628.13 302.49,624.01 302.62,619.96 302.75,615.98 302.89,612.06 303.02,608.22 303.15,604.44 303.28,600.73 303.41,597.09 303.54,593.52 303.67,590.01 303.8,586.57 303.93,583.19 304.07,579.88 304.2,576.63 304.33,573.45 304.46,570.33 304.59,567.28 304.72,564.29 304.85,561.36 304.98,558.49 305.11,555.69 305.25,552.94 305.38,550.26 305.51,547.63 305.64,545.07 305.77,542.56 305.9,540.11 306.03,537.72 306.16,535.39 306.29,533.11 306.43,530.89 306.56,528.72 306.69,526.61 306.82,524.55 306.95,522.55 307.08,520.6 307.21,518.7 307.34,516.85 307.47,515.05 307.6,513.3 307.74,511.61 307.87,509.96 308,508.36 308.13,506.8 308.26,505.3 308.39,503.83 308.52,502.42 308.65,501.05 308.78,499.72 308.92,498.43 309.05,497.19 309.18,495.99 309.31,494.82 309.44,493.7 309.57,492.62 309.7,491.58 309.83,490.57 309.96,489.6 310.1,488.67 310.23,487.77 310.36,486.9 310.49,486.07 310.62,485.27 310.75,484.51 310.88,483.77 311.01,483.07 311.14,482.39 311.28,481.75 311.41,481.13 311.54,480.54 311.67,479.97 311.8,479.44 311.93,478.92 312.06,478.43 312.19,477.97 312.32,477.52 312.45,477.1 312.59,476.7 312.72,476.32 312.85,475.96 312.98,475.62 313.11,475.3 313.24,475 313.37,474.71 313.5,474.44 313.63,474.19 313.77,473.95 313.9,473.72 314.03,473.51 314.16,473.31 314.29,473.13 314.42,472.96 314.55,472.8 314.68,472.65 314.81,472.51 314.95,472.38 315.08,472.26 315.21,472.15 315.34,472.05 315.47,471.96 315.6,471.88 315.73,471.8 315.86,471.73 315.99,471.67 316.13,471.61 316.26,471.56 316.39,471.52 316.52,471.48 316.65,471.44 316.78,471.41 316.91,471.39 317.04,471.37 317.17,471.35 317.31,471.34 317.44,471.33 317.57,471.32 317.7,471.31 317.83,471.31 317.96,471.32 318.09,471.32 318.22,471.33 318.35,471.34 318.48,471.35 318.62,471.36 318.75,471.37 318.88,471.39 319.01,471.41 319.14,471.42 319.27,471.44 319.4,471.47 319.53,471.49 319.66,471.51 319.8,471.53 319.93,471.56 320.06,471.58 320.19,471.61 320.32,471.64 320.45,471.67 320.58,471.69 320.71,471.72 320.84,471.75 320.98,471.78 321.11,471.81 321.24,471.84 321.37,471.87 321.5,471.9 321.63,471.93 321.76,471.96 321.89,472 322.02,472.03 322.16,472.06 322.29,472.09 322.42,472.12 322.55,472.16 322.68,472.19 322.81,472.22 322.94,472.25 323.07,472.29 323.2,472.32 323.33,472.35 323.47,472.38 323.6,472.42 323.73,472.45 323.86,472.48 323.99,472.52 324.12,472.55 324.25,472.58 324.38,472.62 324.51,472.65 324.65,472.68 324.78,472.72 324.91,472.75 325.04,472.78 325.17,472.82 325.3,472.85 325.43,472.88 325.56,472.92 325.69,472.95 325.83,472.98 325.96,473.02 326.09,473.05 326.22,473.08 326.35,473.12 326.48,473.15 326.61,473.18 326.74,473.22 326.87,473.25 327.01,473.28 327.14,473.32 327.27,473.35 327.4,473.38 327.53,473.42 327.66,473.45 327.79,473.48 327.92,473.52 328.97,473.78 330.02,474.05 331.07,474.32 332.12,474.58 333.17,474.85 334.21,475.12 335.26,475.39 336.31,475.65 337.36,475.92 338.41,476.19 339.46,476.45 340.51,476.72 341.56,476.99 342.6,477.26 343.65,477.52 344.7,477.79 345.75,478.06 346.8,478.32 347.85,478.59 348.9,478.86 349.94,479.13 350.99,479.39 352.04,479.66 353.09,479.93 354.14,480.19 355.19,480.46 356.24,480.73 357.29,480.99 358.33,481.26 359.38,481.53 360.43,481.8 361.48,482.06 362.53,482.33 363.58,482.6 364.63,482.86 365.67,483.13 366.72,483.4 367.77,483.67 368.82,483.93 369.87,484.2 370.92,484.47 371.97,484.73 373.02,485 374.06,485.27 375.11,485.54 376.16,485.8 377.21,486.07 378.26,486.34 379.31,486.6 380.36,486.87 381.4,487.14 382.45,487.41 383.5,487.67 384.55,487.94 385.6,488.21 386.65,488.47 387.7,488.74 388.74,489.01 389.79,489.27 390.84,489.54 391.89,489.81 392.94,490.08 393.99,490.34 395.04,490.61 396.09,490.88 397.13,491.14 398.18,491.41 399.23,491.68 400.28,491.95 401.33,492.21 402.38,492.48 403.43,492.75 404.47,493.01 405.52,493.28 406.57,493.55 407.62,493.82 408.67,494.08 409.72,494.35 410.77,494.62 411.82,494.88 412.86,495.15 413.91,495.42 414.96,495.69 416.01,495.95 417.06,496.22 418.11,496.49 419.16,496.75 420.2,497.02 421.25,497.29 422.3,497.55 423.35,497.82 424.4,498.09 425.45,498.36 426.5,498.62 427.55,498.89 428.59,499.16 429.64,499.42 430.69,499.69 431.74,499.96 432.79,500.23 433.84,500.49 434.89,500.76 435.93,501.03 436.98,501.29 438.03,501.56 439.08,501.83 440.13,502.1 441.18,502.36 442.23,502.63 443.28,502.9 444.32,503.16 445.37,503.43 446.42,503.7 447.47,503.97 448.52,504.23 449.57,504.5 450.62,504.77 451.66,505.03 452.71,505.3 453.76,505.57 454.81,505.83 455.86,506.1 456.91,506.37 457.96,506.64 459.01,506.9 460.05,507.17 461.1,507.44 462.15,507.7 463.2,507.97 464.25,508.24 465.3,508.51 466.35,508.77 467.39,509.04 468.44,509.31 469.49,509.57 470.54,509.84 471.59,510.11 472.64,510.38 473.69,510.64 474.74,510.91 475.78,511.18 476.83,511.44 477.88,511.71 478.93,511.98 479.98,512.25 481.03,512.51 482.08,512.78 483.12,513.05 484.17,513.31 485.22,513.58 486.27,513.85 487.32,514.12 488.37,514.38 489.42,514.65 490.46,514.92 491.51,515.18 492.56,515.45 493.61,515.72 494.66,515.98 495.71,516.25 496.76,516.52 497.81,516.79 498.85,517.05 499.9,517.32 500.95,517.59 502,517.85 503.05,518.12 504.1,518.39 505.15,518.66 506.19,518.92 507.24,519.19 508.29,519.46 509.34,519.72 510.39,519.99 511.44,520.26 512.49,520.53 513.54,520.79 514.58,521.06 515.63,521.33 516.68,521.59 517.73,521.86 518.78,522.13 519.83,522.4 520.88,522.66 521.92,522.93 522.97,523.2 524.02,523.46 525.07,523.73 526.12,524 527.17,524.26 528.22,524.53 529.27,524.8 530.31,525.07 531.36,525.33 532.41,525.6 533.46,525.87 534.51,526.13 535.56,526.4 536.61,526.67 537.65,526.94 538.7,527.2 539.75,527.47 540.8,527.74 541.85,528 542.9,528.27 543.95,528.54 545,528.81 546.04,529.07 547.09,529.34 548.14,529.61 549.19,529.87 550.24,530.14 551.29,530.41 552.34,530.68 553.38,530.94 554.43,531.21 555.48,531.48 556.53,531.74 557.58,532.01 558.63,532.28 559.68,532.54 560.73,532.81 561.77,533.08 562.82,533.35 563.87,533.61 564.92,533.88 565.97,534.15 567.02,534.41 568.07,534.68 569.11,534.95 570.16,535.22 571.21,535.48 572.26,535.75 573.31,536.02 574.36,536.28 575.41,536.55 576.46,536.82 577.5,537.09 578.55,537.35 579.6,537.62 580.65,537.89 581.7,538.15 582.75,538.42 583.8,538.69 584.84,538.96 585.89,539.22 586.94,539.49 587.99,539.76 589.04,540.02 590.09,540.29 591.14,540.56 592.19,540.83 593.23,541.09 594.28,541.36 595.33,541.63 596.38,541.89 597.43,542.16 598.48,542.43 599.53,542.69 600.57,542.96 601.62,543.23 602.67,543.5 603.72,543.76 604.77,544.03 605.82,544.3 606.87,544.56 607.91,544.83 608.96,545.1 610.01,545.37 611.06,545.63 612.11,545.9 613.16,546.17 614.21,546.43 615.26,546.7 616.3,546.97 617.35,547.24 618.4,547.5 619.45,547.77 620.5,548.04 621.55,548.3 622.6,548.57 623.64,548.84 624.69,549.11 625.74,549.37 626.79,549.64 627.84,549.91 628.89,550.17 629.94,550.44 630.99,550.71 632.03,550.97 633.08,551.24 634.13,551.51 635.18,551.78 636.23,552.04 637.28,552.31 638.33,552.58 639.37,552.84 640.42,553.11 641.47,553.38 642.52,553.65 643.57,553.91 644.62,554.18 645.67,554.45 646.72,554.71 647.76,554.98 648.81,555.25 649.86,555.52 650.91,555.78 651.96,556.05 653.01,556.32 654.06,556.58 655.1,556.85 656.15,557.12 657.2,557.39 658.25,557.65 659.3,557.92 660.35,558.19 661.4,558.45 662.45,558.72 663.49,558.99 664.54,559.25 665.59,559.52 666.64,559.79 667.69,560.06 668.74,560.32 669.79,560.59 670.83,560.86 671.88,561.12 672.93,561.39 673.98,561.66 675.03,561.93 676.08,562.19 677.13,562.46 678.18,562.73 679.22,562.99 680.27,563.26 681.32,563.53 682.37,563.8 683.42,564.06 684.47,564.33 685.52,564.6 686.56,564.86 687.61,565.13 688.66,565.4 689.71,565.67 690.76,565.93 691.81,566.2 692.86,566.47 693.91,566.73 694.95,567 696,567.27 697.05,567.53 698.1,567.8 699.15,568.07 700.2,568.34 701.25,568.6 702.29,568.87 703.34,569.14 704.39,569.4 705.44,569.67 706.49,569.94 707.54,570.21 708.59,570.47 709.63,570.74 710.68,571.01 711.73,571.27 712.78,571.54 713.83,571.81 714.88,572.08 715.93,572.34 716.98,572.61 718.02,572.88 719.07,573.14 720.12,573.41 721.17,573.68 722.22,573.95 723.27,574.21 724.32,574.48 725.36,574.75 726.41,575.01 727.46,575.28 728.51,575.55 729.56,575.82 730.61,576.08 731.66,576.35 732.71,576.62 733.75,576.88 734.8,577.15 735.85,577.42 736.9,577.68 737.95,577.95 739,578.22 740.05,578.49 741.09,578.75 742.14,579.02 743.19,579.29 744.24,579.55 745.29,579.82 746.34,580.09 747.39,580.36 748.44,580.62 749.48,580.89 750.53,581.16 751.58,581.42 752.63,581.69 753.68,581.96 754.73,582.23 755.78,582.49 756.82,582.76 757.87,583.03 758.92,583.29 759.97,583.56 761.02,583.83 762.07,584.1 763.12,584.36 764.17,584.63 765.21,584.9 766.26,585.16 767.31,585.43 768.36,585.7 769.41,585.96 770.46,586.23 771.51,586.5 772.55,586.77 773.6,587.03 774.65,587.3 775.7,587.57 776.75,587.83 777.8,588.1 778.85,588.37 779.9,588.64 780.94,588.9 781.99,589.17 783.04,589.44 784.09,589.7 785.14,589.97 786.19,590.24 787.24,590.51 788.28,590.77 789.33,591.04 790.38,591.31 791.43,591.57 792.48,591.84 793.53,592.11 794.58,592.38 795.63,592.64 796.67,592.91 797.72,593.18 798.77,593.44 799.82,593.71 800.87,593.98 801.92,594.24 802.97,594.51 804.01,594.78 805.06,595.05 806.11,595.31 807.16,595.58 808.21,595.85 809.26,596.11 810.31,596.38 811.35,596.65 812.4,596.92 813.45,597.18 814.5,597.45 815.55,597.72 816.6,597.98 817.65,598.25 818.7,598.52 819.74,598.79 820.79,599.05 821.84,599.32 822.89,599.59 823.94,599.85 824.99,600.12 826.04,600.39 827.08,600.66 828.13,600.92 829.18,601.19 830.23,601.46 831.28,601.72 832.33,601.99 833.38,602.26 834.43,602.53 835.47,602.79 836.52,603.06 837.57,603.33 838.62,603.59 839.67,603.86 840.72,604.13 841.77,604.39 842.81,604.66 843.86,604.93 844.91,605.2 845.96,605.46 847.01,605.73 848.06,606 849.11,606.26 850.16,606.53 851.2,606.8 852.25,607.07 853.3,607.33 854.35,607.6 855.4,607.87 856.45,608.13 857.5,608.4 858.54,608.67 859.59,608.94 860.64,609.2 861.69,609.47 862.74,609.74 863.79,610 864.84,610.27 865.89,610.54 866.93,610.81 867.98,611.07 869.03,611.34 870.08,611.61 871.13,611.87 872.18,612.14 873.23,612.41 874.27,612.67 875.32,612.94 876.37,613.21 877.42,613.48 878.47,613.74 879.52,614.01 880.57,614.28 881.62,614.54 882.66,614.81 883.71,615.08 884.76,615.35 885.81,615.61 886.86,615.88 887.91,616.15 888.96,616.41 890,616.68 891.05,616.95 892.1,617.22 893.15,617.48 894.2,617.75 895.25,618.02 896.3,618.28 897.35,618.55 898.39,618.82 899.44,619.09 900.49,619.35 901.54,619.62 902.59,619.89 903.64,620.15 904.69,620.42 905.73,620.69 906.78,620.95 907.83,621.22 908.88,621.49 909.93,621.76 910.98,622.02 912.03,622.29 913.07,622.56 914.12,622.82 915.17,623.09 916.22,623.36 917.27,623.63 918.32,623.89 919.37,624.16 920.42,624.43 921.46,624.69 922.51,624.96 923.56,625.23 924.61,625.5 925.66,625.76 926.71,626.03 927.76,626.3 928.8,626.56 929.85,626.83 930.9,627.1 931.95,627.37 933,627.63 934.05,627.9 935.1,628.17 936.15,628.43 937.19,628.7 938.24,628.97 939.29,629.24 940.34,629.5 941.39,629.77 942.44,630.04 943.49,630.3 944.53,630.57 945.58,630.84 946.63,631.1 947.68,631.37 948.73,631.64 949.78,631.91 950.83,632.17 951.88,632.44 952.92,632.71 953.97,632.97 955.02,633.24 956.07,633.51 957.12,633.78 958.17,634.04 959.22,634.31 960.26,634.58 961.31,634.84 962.36,635.11 963.41,635.38 964.46,635.65 965.51,635.91 966.56,636.18 967.61,636.45 968.65,636.71 969.7,636.98 970.75,637.25 971.8,637.52 972.85,637.78 973.9,638.05 974.95,638.32 975.99,638.58 977.04,638.85 978.09,639.12 979.14,639.38 980.19,639.65 981.24,639.92 982.29,640.19 983.34,640.45 984.38,640.72 985.43,640.99 986.48,641.25 987.53,641.52 988.58,641.79 989.63,642.06 990.68,642.32 991.72,642.59 992.77,642.86 993.82,643.12 994.87,643.39 995.92,643.66 996.97,643.93 998.02,644.19 999.07,644.46 1000.11,644.73 1001.16,644.99 1002.21,645.26 1003.26,645.53 1004.31,645.8 1005.36,646.06 1006.41,646.33 1007.45,646.6 1008.5,646.86 1009.55,647.13 1010.6,647.4 1011.65,647.66 1012.7,647.93 1013.75,648.2 1014.79,648.47"/><g fill="#fff" stroke="#505050" stroke-width="1.1"><circle cx="213.1" cy="896" r="4.25"/><circle cx="218" cy="889.2" r="4.25"/><circle cx="218" cy="845.7" r="4.25"/><circle cx="227.6" cy="896" r="4.25"/><circle cx="233.1" cy="894.7" r="4.25"/><circle cx="236.6" cy="871.2" r="4.25"/><circle cx="229.7" cy="882.2" r="4.25"/><circle cx="238" cy="884.3" r="4.25"/><circle cx="242.8" cy="852.6" r="4.25"/><circle cx="247.6" cy="869.1" r="4.25"/><circle cx="249.7" cy="824.3" r="4.25"/><circle cx="244.2" cy="893.3" r="4.25"/><circle cx="248.3" cy="884.3" r="4.25"/><circle cx="254.5" cy="885.7" r="4.25"/><circle cx="259.4" cy="891.9" r="4.25"/><circle cx="256.6" cy="899.5" r="4.25"/><circle cx="260.1" cy="820.8" r="4.25"/><circle cx="260.7" cy="856" r="4.25"/><circle cx="264.2" cy="865" r="4.25"/><circle cx="262.8" cy="842.9" r="4.25"/><circle cx="267.7" cy="842.2" r="4.25"/><circle cx="263.5" cy="879.5" r="4.25"/><circle cx="267" cy="896" r="4.25"/><circle cx="270.4" cy="828.4" r="4.25"/><circle cx="274.6" cy="818.7" r="4.25"/><circle cx="273.2" cy="853.9" r="4.25"/><circle cx="277.3" cy="854.6" r="4.25"/><circle cx="275.9" cy="894.7" r="4.25"/><circle cx="278" cy="838.1" r="4.25"/><circle cx="282.1" cy="831.8" r="4.25"/><circle cx="282.8" cy="846.3" r="4.25"/><circle cx="285.6" cy="842.2" r="4.25"/><circle cx="284.9" cy="854.6" r="4.25"/><circle cx="288.4" cy="832.5" r="4.25"/><circle cx="287" cy="804.9" r="4.25"/><circle cx="287.7" cy="814.6" r="4.25"/><circle cx="280.8" cy="891.2" r="4.25"/><circle cx="284.9" cy="898.8" r="4.25"/><circle cx="272" cy="899" r="4.25"/><circle cx="290" cy="890" r="4.25"/><circle cx="289" cy="872" r="4.25"/><circle cx="291.1" cy="780.1" r="4.25"/><circle cx="292.5" cy="771.8" r="4.25"/><circle cx="293.9" cy="764.9" r="4.25"/><circle cx="293.9" cy="752.5" r="4.25"/><circle cx="294.6" cy="737.3" r="4.25"/><circle cx="295.3" cy="713.8" r="4.25"/><circle cx="295.3" cy="701.4" r="4.25"/><circle cx="292" cy="795" r="4.25"/><circle cx="290.5" cy="822" r="4.25"/><circle cx="293.95" cy="823.3" r="4.25"/><circle cx="294.68" cy="792.69" r="4.25"/><circle cx="295.41" cy="766.33" r="4.25"/><circle cx="296.15" cy="737.85" r="4.25"/><circle cx="296.88" cy="717.86" r="4.25"/><circle cx="297.62" cy="691.24" r="4.25"/><circle cx="298.35" cy="671.64" r="4.25"/><circle cx="299.08" cy="652.1" r="4.25"/><circle cx="299.82" cy="637.85" r="4.25"/><circle cx="300.55" cy="618.62" r="4.25"/><circle cx="301.29" cy="597.64" r="4.25"/><circle cx="302.02" cy="581.05" r="4.25"/><circle cx="302.75" cy="569.92" r="4.25"/><circle cx="303.49" cy="555.97" r="4.25"/><circle cx="304.22" cy="547.14" r="4.25"/><circle cx="304.96" cy="536.62" r="4.25"/><circle cx="305.69" cy="527.92" r="4.25"/><circle cx="306.43" cy="515.8" r="4.25"/><circle cx="307.16" cy="509.87" r="4.25"/><circle cx="307.89" cy="504.72" r="4.25"/><circle cx="308.63" cy="499.29" r="4.25"/><circle cx="309.36" cy="492.4" r="4.25"/><circle cx="310.1" cy="488.81" r="4.25"/><circle cx="310.83" cy="488" r="4.25"/><circle cx="311.56" cy="479.26" r="4.25"/><circle cx="312.3" cy="480.26" r="4.25"/><circle cx="313.03" cy="478.95" r="4.25"/><circle cx="313.77" cy="474.1" r="4.25"/><circle cx="314.5" cy="474.02" r="4.25"/><circle cx="315.23" cy="475.74" r="4.25"/><circle cx="315.97" cy="473.72" r="4.25"/><circle cx="316.7" cy="477.02" r="4.25"/><circle cx="317.44" cy="475.79" r="4.25"/><circle cx="318.17" cy="479.37" r="4.25"/><circle cx="318.9" cy="471.32" r="4.25"/><circle cx="319.64" cy="478.5" r="4.25"/><circle cx="320.37" cy="472.61" r="4.25"/><circle cx="321.11" cy="476.15" r="4.25"/><circle cx="321.84" cy="476.57" r="4.25"/><circle cx="322.57" cy="474.85" r="4.25"/><circle cx="322.68" cy="473.75" r="4.25"/><circle cx="323.89" cy="473.09" r="4.25"/><circle cx="325.09" cy="470.56" r="4.25"/><circle cx="326.3" cy="473.95" r="4.25"/><circle cx="327.5" cy="472.88" r="4.25"/><circle cx="328.71" cy="476.4" r="4.25"/><circle cx="329.92" cy="473.47" r="4.25"/><circle cx="331.12" cy="474.83" r="4.25"/><circle cx="332.33" cy="476.3" r="4.25"/><circle cx="333.53" cy="475.49" r="4.25"/><circle cx="334.74" cy="475.43" r="4.25"/><circle cx="335.94" cy="474.85" r="4.25"/><circle cx="337.15" cy="474.37" r="4.25"/><circle cx="338.36" cy="476.47" r="4.25"/><circle cx="339.56" cy="476.99" r="4.25"/><circle cx="340.77" cy="473.58" r="4.25"/><circle cx="341.97" cy="479.24" r="4.25"/><circle cx="343.18" cy="476.8" r="4.25"/><circle cx="344.39" cy="471.88" r="4.25"/><circle cx="345.59" cy="481.78" r="4.25"/><circle cx="346.8" cy="477.28" r="4.25"/><circle cx="348" cy="474.27" r="4.25"/><circle cx="349.21" cy="479.85" r="4.25"/><circle cx="350.42" cy="470.32" r="4.25"/><circle cx="351.62" cy="482.51" r="4.25"/><circle cx="352.83" cy="473.54" r="4.25"/><circle cx="354.03" cy="473.55" r="4.25"/><circle cx="355.24" cy="475.3" r="4.25"/><circle cx="356.45" cy="478.19" r="4.25"/><circle cx="357.65" cy="477.11" r="4.25"/><circle cx="358.86" cy="480.19" r="4.25"/><circle cx="360.06" cy="476.41" r="4.25"/><circle cx="361.27" cy="480.94" r="4.25"/><circle cx="362.48" cy="479.02" r="4.25"/><circle cx="363.68" cy="476.07" r="4.25"/><circle cx="364.89" cy="480.85" r="4.25"/><circle cx="366.09" cy="479.02" r="4.25"/><circle cx="367.3" cy="477.69" r="4.25"/><circle cx="368.51" cy="481.04" r="4.25"/><circle cx="369.71" cy="475.18" r="4.25"/><circle cx="370.92" cy="477" r="4.25"/><circle cx="372.12" cy="481.25" r="4.25"/><circle cx="373.33" cy="477.92" r="4.25"/><circle cx="374.54" cy="479.7" r="4.25"/><circle cx="375.74" cy="479.62" r="4.25"/><circle cx="376.95" cy="478.2" r="4.25"/><circle cx="378.15" cy="480.36" r="4.25"/><circle cx="379.36" cy="476.93" r="4.25"/><circle cx="380.57" cy="481.24" r="4.25"/><circle cx="381.77" cy="477.91" r="4.25"/><circle cx="382.98" cy="480.84" r="4.25"/><circle cx="384.18" cy="479.38" r="4.25"/><circle cx="385.39" cy="483.21" r="4.25"/><circle cx="386.6" cy="483.73" r="4.25"/><circle cx="387.8" cy="485.83" r="4.25"/><circle cx="389.01" cy="482.42" r="4.25"/><circle cx="390.21" cy="482.12" r="4.25"/><circle cx="391.42" cy="479.89" r="4.25"/><circle cx="392.63" cy="482.24" r="4.25"/><circle cx="393.83" cy="485.02" r="4.25"/><circle cx="395.04" cy="486.42" r="4.25"/><circle cx="396.24" cy="485.32" r="4.25"/><circle cx="397.45" cy="486.5" r="4.25"/><circle cx="398.65" cy="483.24" r="4.25"/><circle cx="399.86" cy="484.54" r="4.25"/><circle cx="401.07" cy="488.67" r="4.25"/><circle cx="402.27" cy="488.3" r="4.25"/><circle cx="403.48" cy="483.49" r="4.25"/><circle cx="404.68" cy="485.79" r="4.25"/><circle cx="405.89" cy="486.84" r="4.25"/><circle cx="407.1" cy="483.37" r="4.25"/><circle cx="408.3" cy="486.75" r="4.25"/><circle cx="409.51" cy="486.28" r="4.25"/><circle cx="410.71" cy="486.48" r="4.25"/><circle cx="411.92" cy="489.76" r="4.25"/><circle cx="413.13" cy="483.12" r="4.25"/><circle cx="414.33" cy="487.81" r="4.25"/><circle cx="415.54" cy="486.31" r="4.25"/><circle cx="416.74" cy="486.76" r="4.25"/><circle cx="417.95" cy="483.43" r="4.25"/><circle cx="419.16" cy="485.36" r="4.25"/><circle cx="420.36" cy="485.28" r="4.25"/><circle cx="421.57" cy="489.29" r="4.25"/><circle cx="422.77" cy="485.74" r="4.25"/><circle cx="423.98" cy="489.04" r="4.25"/><circle cx="425.19" cy="485.04" r="4.25"/><circle cx="426.39" cy="484.98" r="4.25"/><circle cx="427.6" cy="485.97" r="4.25"/><circle cx="428.8" cy="481.34" r="4.25"/><circle cx="430.01" cy="484.95" r="4.25"/><circle cx="431.22" cy="484.96" r="4.25"/><circle cx="432.42" cy="486.2" r="4.25"/><circle cx="433.63" cy="487.2" r="4.25"/><circle cx="434.83" cy="484.81" r="4.25"/><circle cx="436.04" cy="484.8" r="4.25"/><circle cx="437.25" cy="490.63" r="4.25"/><circle cx="438.45" cy="485.53" r="4.25"/><circle cx="439.66" cy="487.05" r="4.25"/><circle cx="440.86" cy="486.28" r="4.25"/><circle cx="442.07" cy="487.63" r="4.25"/><circle cx="443.28" cy="491.72" r="4.25"/><circle cx="444.48" cy="491.66" r="4.25"/><circle cx="445.69" cy="484.82" r="4.25"/><circle cx="446.89" cy="488.43" r="4.25"/><circle cx="448.1" cy="492.22" r="4.25"/><circle cx="449.31" cy="488.09" r="4.25"/><circle cx="450.51" cy="489.63" r="4.25"/><circle cx="451.72" cy="492.95" r="4.25"/><circle cx="452.92" cy="493.9" r="4.25"/><circle cx="454.13" cy="492.26" r="4.25"/><circle cx="455.33" cy="487.91" r="4.25"/><circle cx="456.54" cy="488.64" r="4.25"/><circle cx="457.75" cy="489.13" r="4.25"/><circle cx="458.95" cy="487.95" r="4.25"/><circle cx="460.16" cy="487.3" r="4.25"/><circle cx="461.36" cy="493.6" r="4.25"/><circle cx="462.57" cy="489.59" r="4.25"/><circle cx="463.78" cy="490.97" r="4.25"/><circle cx="464.98" cy="492.1" r="4.25"/><circle cx="466.19" cy="490.77" r="4.25"/><circle cx="467.39" cy="490.08" r="4.25"/><circle cx="468.6" cy="490.76" r="4.25"/><circle cx="469.81" cy="493.88" r="4.25"/><circle cx="471.01" cy="492.08" r="4.25"/><circle cx="472.22" cy="486.79" r="4.25"/><circle cx="473.42" cy="494.33" r="4.25"/><circle cx="474.63" cy="496.27" r="4.25"/><circle cx="475.84" cy="492.22" r="4.25"/><circle cx="477.04" cy="491.92" r="4.25"/><circle cx="478.25" cy="492.62" r="4.25"/><circle cx="479.45" cy="496.62" r="4.25"/><circle cx="480.66" cy="492.07" r="4.25"/><circle cx="481.87" cy="496.44" r="4.25"/><circle cx="483.07" cy="497.48" r="4.25"/><circle cx="484.28" cy="496.5" r="4.25"/><circle cx="485.48" cy="495.54" r="4.25"/><circle cx="486.69" cy="493.84" r="4.25"/><circle cx="487.9" cy="494.21" r="4.25"/><circle cx="489.1" cy="495.86" r="4.25"/><circle cx="490.31" cy="493.82" r="4.25"/><circle cx="491.51" cy="495.92" r="4.25"/><circle cx="492.72" cy="494.19" r="4.25"/><circle cx="493.93" cy="499.6" r="4.25"/><circle cx="495.13" cy="500.11" r="4.25"/><circle cx="496.34" cy="494.81" r="4.25"/><circle cx="497.54" cy="499.87" r="4.25"/><circle cx="498.75" cy="497.43" r="4.25"/><circle cx="499.96" cy="497" r="4.25"/><circle cx="501.16" cy="497.91" r="4.25"/><circle cx="502.37" cy="497.8" r="4.25"/><circle cx="503.57" cy="493.51" r="4.25"/><circle cx="504.78" cy="502.44" r="4.25"/><circle cx="505.99" cy="494.47" r="4.25"/><circle cx="507.19" cy="491.08" r="4.25"/><circle cx="508.4" cy="496.13" r="4.25"/><circle cx="509.6" cy="496.04" r="4.25"/><circle cx="510.81" cy="494.14" r="4.25"/><circle cx="512.01" cy="491.44" r="4.25"/><circle cx="513.22" cy="498.24" r="4.25"/><circle cx="514.43" cy="495.2" r="4.25"/><circle cx="515.63" cy="495.78" r="4.25"/><circle cx="516.84" cy="494.06" r="4.25"/><circle cx="518.04" cy="495.05" r="4.25"/><circle cx="519.25" cy="494.05" r="4.25"/><circle cx="520.46" cy="496.76" r="4.25"/><circle cx="521.66" cy="495.99" r="4.25"/><circle cx="522.87" cy="498.02" r="4.25"/><circle cx="524.07" cy="498.48" r="4.25"/><circle cx="525.28" cy="497.83" r="4.25"/><circle cx="526.49" cy="498.43" r="4.25"/><circle cx="527.69" cy="501.43" r="4.25"/><circle cx="528.9" cy="495.79" r="4.25"/><circle cx="530.1" cy="500.38" r="4.25"/><circle cx="531.31" cy="503.91" r="4.25"/><circle cx="532.52" cy="498.84" r="4.25"/><circle cx="533.72" cy="503.69" r="4.25"/><circle cx="534.93" cy="501.37" r="4.25"/><circle cx="536.13" cy="503.09" r="4.25"/><circle cx="537.34" cy="502.95" r="4.25"/><circle cx="538.55" cy="503.57" r="4.25"/><circle cx="539.75" cy="505.66" r="4.25"/><circle cx="540.96" cy="504.6" r="4.25"/><circle cx="542.16" cy="500.35" r="4.25"/><circle cx="543.37" cy="510.47" r="4.25"/><circle cx="544.58" cy="505.43" r="4.25"/><circle cx="545.78" cy="504.8" r="4.25"/><circle cx="546.99" cy="508.4" r="4.25"/><circle cx="548.19" cy="509.28" r="4.25"/><circle cx="549.4" cy="501.29" r="4.25"/><circle cx="550.61" cy="507.22" r="4.25"/><circle cx="551.81" cy="501.67" r="4.25"/><circle cx="553.02" cy="505.3" r="4.25"/><circle cx="554.22" cy="506.45" r="4.25"/><circle cx="555.43" cy="505.62" r="4.25"/><circle cx="556.64" cy="505.38" r="4.25"/><circle cx="557.84" cy="504.25" r="4.25"/><circle cx="559.05" cy="506.13" r="4.25"/><circle cx="560.25" cy="506.98" r="4.25"/><circle cx="561.46" cy="507.13" r="4.25"/><circle cx="562.67" cy="504.65" r="4.25"/><circle cx="563.87" cy="506.13" r="4.25"/><circle cx="565.08" cy="510.56" r="4.25"/><circle cx="566.28" cy="509.96" r="4.25"/><circle cx="567.49" cy="507.96" r="4.25"/><circle cx="568.7" cy="510.34" r="4.25"/><circle cx="569.9" cy="509.92" r="4.25"/><circle cx="571.11" cy="511.38" r="4.25"/><circle cx="572.31" cy="509.86" r="4.25"/><circle cx="573.52" cy="508.33" r="4.25"/><circle cx="574.72" cy="507.05" r="4.25"/><circle cx="575.93" cy="509.32" r="4.25"/><circle cx="577.14" cy="504.58" r="4.25"/><circle cx="578.34" cy="509.54" r="4.25"/><circle cx="579.55" cy="502.05" r="4.25"/><circle cx="580.75" cy="507.17" r="4.25"/><circle cx="581.96" cy="508.42" r="4.25"/><circle cx="583.17" cy="510.84" r="4.25"/><circle cx="584.37" cy="516.35" r="4.25"/><circle cx="585.58" cy="510.4" r="4.25"/><circle cx="586.78" cy="509.84" r="4.25"/><circle cx="587.99" cy="506.05" r="4.25"/><circle cx="589.2" cy="513.88" r="4.25"/><circle cx="590.4" cy="506.57" r="4.25"/><circle cx="591.61" cy="511.77" r="4.25"/><circle cx="592.81" cy="509.77" r="4.25"/><circle cx="594.02" cy="517.51" r="4.25"/><circle cx="595.23" cy="511.58" r="4.25"/><circle cx="596.43" cy="512.92" r="4.25"/><circle cx="597.64" cy="510.78" r="4.25"/><circle cx="598.84" cy="512.36" r="4.25"/><circle cx="600.05" cy="515.41" r="4.25"/><circle cx="601.26" cy="510.8" r="4.25"/><circle cx="602.46" cy="511.56" r="4.25"/><circle cx="603.67" cy="511.94" r="4.25"/><circle cx="604.87" cy="511.12" r="4.25"/><circle cx="606.08" cy="511.01" r="4.25"/><circle cx="607.29" cy="513.67" r="4.25"/><circle cx="608.49" cy="516.77" r="4.25"/><circle cx="609.7" cy="516.84" r="4.25"/><circle cx="610.9" cy="510.51" r="4.25"/><circle cx="612.11" cy="511.93" r="4.25"/><circle cx="613.32" cy="513.24" r="4.25"/><circle cx="614.52" cy="514.37" r="4.25"/><circle cx="615.73" cy="513.2" r="4.25"/><circle cx="616.93" cy="513.13" r="4.25"/><circle cx="618.14" cy="513.89" r="4.25"/><circle cx="619.35" cy="514.68" r="4.25"/><circle cx="620.55" cy="508.08" r="4.25"/><circle cx="621.76" cy="512.56" r="4.25"/><circle cx="622.96" cy="514.55" r="4.25"/><circle cx="624.17" cy="516.26" r="4.25"/><circle cx="625.38" cy="515.08" r="4.25"/><circle cx="626.58" cy="511.92" r="4.25"/><circle cx="627.79" cy="512.02" r="4.25"/><circle cx="628.99" cy="514.48" r="4.25"/><circle cx="630.2" cy="514.09" r="4.25"/><circle cx="631.4" cy="515.15" r="4.25"/><circle cx="632.61" cy="517.25" r="4.25"/><circle cx="633.82" cy="511.97" r="4.25"/><circle cx="635.02" cy="514.36" r="4.25"/><circle cx="636.23" cy="509.82" r="4.25"/><circle cx="637.43" cy="517.55" r="4.25"/><circle cx="638.64" cy="516.45" r="4.25"/><circle cx="639.85" cy="514.44" r="4.25"/><circle cx="641.05" cy="517.38" r="4.25"/><circle cx="642.26" cy="520.36" r="4.25"/><circle cx="643.46" cy="519.7" r="4.25"/><circle cx="644.67" cy="517.62" r="4.25"/><circle cx="645.88" cy="517.38" r="4.25"/><circle cx="647.08" cy="518.68" r="4.25"/><circle cx="648.29" cy="516.4" r="4.25"/><circle cx="649.49" cy="516.63" r="4.25"/><circle cx="650.7" cy="518.29" r="4.25"/><circle cx="651.91" cy="519.03" r="4.25"/><circle cx="653.11" cy="519.69" r="4.25"/><circle cx="654.32" cy="517.81" r="4.25"/><circle cx="655.52" cy="516.88" r="4.25"/><circle cx="656.73" cy="518.76" r="4.25"/><circle cx="657.94" cy="517.76" r="4.25"/><circle cx="659.14" cy="519.43" r="4.25"/><circle cx="660.35" cy="521.83" r="4.25"/><circle cx="661.55" cy="520.82" r="4.25"/><circle cx="662.76" cy="516.7" r="4.25"/><circle cx="663.97" cy="517.42" r="4.25"/><circle cx="665.17" cy="514.81" r="4.25"/><circle cx="666.38" cy="518.4" r="4.25"/><circle cx="667.58" cy="516.63" r="4.25"/><circle cx="668.79" cy="515.69" r="4.25"/><circle cx="670" cy="516.63" r="4.25"/><circle cx="671.2" cy="520.55" r="4.25"/><circle cx="672.41" cy="519.87" r="4.25"/><circle cx="673.61" cy="519.49" r="4.25"/><circle cx="674.82" cy="522.49" r="4.25"/><circle cx="676.03" cy="519.61" r="4.25"/><circle cx="677.23" cy="518.89" r="4.25"/><circle cx="678.44" cy="522.94" r="4.25"/><circle cx="679.64" cy="517.89" r="4.25"/><circle cx="680.85" cy="523.68" r="4.25"/><circle cx="682.06" cy="524.03" r="4.25"/><circle cx="683.26" cy="524.59" r="4.25"/><circle cx="684.47" cy="526.06" r="4.25"/><circle cx="685.67" cy="523.76" r="4.25"/><circle cx="686.88" cy="524.86" r="4.25"/><circle cx="688.08" cy="521.16" r="4.25"/><circle cx="689.29" cy="523.56" r="4.25"/><circle cx="690.5" cy="523.63" r="4.25"/><circle cx="691.7" cy="525.24" r="4.25"/><circle cx="692.91" cy="527.83" r="4.25"/><circle cx="694.11" cy="524.65" r="4.25"/><circle cx="695.32" cy="526.3" r="4.25"/><circle cx="696.53" cy="522.1" r="4.25"/><circle cx="697.73" cy="524.35" r="4.25"/><circle cx="698.94" cy="520.46" r="4.25"/><circle cx="700.14" cy="522.66" r="4.25"/><circle cx="701.35" cy="522.51" r="4.25"/><circle cx="702.56" cy="523.99" r="4.25"/><circle cx="703.76" cy="524.11" r="4.25"/><circle cx="704.97" cy="523.16" r="4.25"/><circle cx="706.17" cy="522.6" r="4.25"/><circle cx="707.38" cy="526.4" r="4.25"/><circle cx="708.59" cy="523.68" r="4.25"/><circle cx="709.79" cy="518.84" r="4.25"/><circle cx="711" cy="525.14" r="4.25"/><circle cx="712.2" cy="525.61" r="4.25"/><circle cx="713.41" cy="526.74" r="4.25"/><circle cx="714.62" cy="528.62" r="4.25"/><circle cx="715.82" cy="522.73" r="4.25"/><circle cx="717.03" cy="525.51" r="4.25"/><circle cx="718.23" cy="525.16" r="4.25"/><circle cx="719.44" cy="521.81" r="4.25"/><circle cx="720.65" cy="520.5" r="4.25"/><circle cx="721.85" cy="528.54" r="4.25"/><circle cx="723.06" cy="524.28" r="4.25"/><circle cx="724.26" cy="525.51" r="4.25"/><circle cx="725.47" cy="526.24" r="4.25"/><circle cx="726.68" cy="526.29" r="4.25"/><circle cx="727.88" cy="527.69" r="4.25"/><circle cx="729.09" cy="524.24" r="4.25"/><circle cx="730.29" cy="526.74" r="4.25"/><circle cx="731.5" cy="527.63" r="4.25"/><circle cx="732.71" cy="525.83" r="4.25"/><circle cx="733.91" cy="526.9" r="4.25"/><circle cx="735.12" cy="528.17" r="4.25"/><circle cx="736.32" cy="528.76" r="4.25"/><circle cx="737.53" cy="525.74" r="4.25"/><circle cx="738.74" cy="528.87" r="4.25"/><circle cx="739.94" cy="530.54" r="4.25"/><circle cx="741.15" cy="532.6" r="4.25"/><circle cx="742.35" cy="531.71" r="4.25"/><circle cx="743.56" cy="533.65" r="4.25"/><circle cx="744.77" cy="531.31" r="4.25"/><circle cx="745.97" cy="531.28" r="4.25"/><circle cx="747.18" cy="536.93" r="4.25"/><circle cx="748.38" cy="532.51" r="4.25"/><circle cx="749.59" cy="531.4" r="4.25"/><circle cx="750.79" cy="532.84" r="4.25"/><circle cx="752" cy="535.74" r="4.25"/><circle cx="753.21" cy="530.94" r="4.25"/><circle cx="754.41" cy="535.76" r="4.25"/><circle cx="755.62" cy="537.27" r="4.25"/><circle cx="756.82" cy="537.2" r="4.25"/><circle cx="758.03" cy="534.97" r="4.25"/><circle cx="759.24" cy="532.88" r="4.25"/><circle cx="760.44" cy="532.61" r="4.25"/><circle cx="761.65" cy="534.93" r="4.25"/><circle cx="762.85" cy="538.24" r="4.25"/><circle cx="764.06" cy="537.06" r="4.25"/><circle cx="765.27" cy="537.62" r="4.25"/><circle cx="766.47" cy="535.95" r="4.25"/><circle cx="767.68" cy="539.6" r="4.25"/><circle cx="768.88" cy="535.26" r="4.25"/><circle cx="770.09" cy="534.05" r="4.25"/><circle cx="771.3" cy="535.94" r="4.25"/><circle cx="772.5" cy="534.63" r="4.25"/><circle cx="773.71" cy="537.98" r="4.25"/><circle cx="774.91" cy="539.36" r="4.25"/><circle cx="776.12" cy="537.71" r="4.25"/><circle cx="777.33" cy="533.85" r="4.25"/><circle cx="778.53" cy="534.42" r="4.25"/><circle cx="779.74" cy="538.13" r="4.25"/><circle cx="780.94" cy="534.57" r="4.25"/><circle cx="782.15" cy="538.33" r="4.25"/><circle cx="783.36" cy="534.31" r="4.25"/><circle cx="784.56" cy="536.84" r="4.25"/><circle cx="785.77" cy="539.11" r="4.25"/><circle cx="786.97" cy="536.33" r="4.25"/><circle cx="788.18" cy="539.98" r="4.25"/><circle cx="789.39" cy="540.37" r="4.25"/><circle cx="790.59" cy="541.56" r="4.25"/><circle cx="791.8" cy="537.62" r="4.25"/><circle cx="793" cy="538.32" r="4.25"/><circle cx="794.21" cy="538.36" r="4.25"/><circle cx="795.42" cy="539.13" r="4.25"/><circle cx="796.62" cy="534.91" r="4.25"/><circle cx="797.83" cy="539.23" r="4.25"/><circle cx="799.03" cy="539.98" r="4.25"/><circle cx="800.24" cy="535.56" r="4.25"/><circle cx="801.45" cy="535.3" r="4.25"/><circle cx="802.65" cy="537.98" r="4.25"/><circle cx="803.86" cy="542.98" r="4.25"/><circle cx="805.06" cy="540.64" r="4.25"/><circle cx="806.27" cy="538.18" r="4.25"/><circle cx="807.47" cy="539.93" r="4.25"/><circle cx="808.68" cy="536.81" r="4.25"/><circle cx="809.89" cy="543.98" r="4.25"/><circle cx="811.09" cy="539.74" r="4.25"/><circle cx="812.3" cy="543.21" r="4.25"/><circle cx="813.5" cy="539.17" r="4.25"/><circle cx="814.71" cy="542.8" r="4.25"/><circle cx="815.92" cy="540.61" r="4.25"/><circle cx="817.12" cy="544.75" r="4.25"/><circle cx="818.33" cy="546.73" r="4.25"/><circle cx="819.53" cy="546.17" r="4.25"/><circle cx="820.74" cy="545.08" r="4.25"/><circle cx="821.95" cy="546.05" r="4.25"/><circle cx="823.15" cy="540.9" r="4.25"/><circle cx="824.36" cy="540.52" r="4.25"/><circle cx="825.56" cy="542.9" r="4.25"/><circle cx="826.77" cy="545.85" r="4.25"/><circle cx="827.98" cy="543.7" r="4.25"/><circle cx="829.18" cy="544.99" r="4.25"/><circle cx="830.39" cy="540.09" r="4.25"/><circle cx="831.59" cy="542.75" r="4.25"/><circle cx="832.8" cy="542.44" r="4.25"/><circle cx="834.01" cy="544.58" r="4.25"/><circle cx="835.21" cy="548.39" r="4.25"/><circle cx="836.42" cy="545.64" r="4.25"/><circle cx="837.62" cy="546.57" r="4.25"/><circle cx="838.83" cy="543.27" r="4.25"/><circle cx="840.04" cy="544.04" r="4.25"/><circle cx="841.24" cy="546.25" r="4.25"/><circle cx="842.45" cy="545.46" r="4.25"/><circle cx="843.65" cy="541.14" r="4.25"/><circle cx="844.86" cy="547.13" r="4.25"/><circle cx="846.07" cy="547.21" r="4.25"/><circle cx="847.27" cy="545.82" r="4.25"/><circle cx="848.48" cy="547.09" r="4.25"/><circle cx="849.68" cy="546.64" r="4.25"/><circle cx="850.89" cy="544.6" r="4.25"/><circle cx="852.1" cy="541.99" r="4.25"/><circle cx="853.3" cy="550.22" r="4.25"/><circle cx="854.51" cy="546.31" r="4.25"/><circle cx="855.71" cy="546.3" r="4.25"/><circle cx="856.92" cy="546.73" r="4.25"/><circle cx="858.13" cy="547.12" r="4.25"/><circle cx="859.33" cy="547.65" r="4.25"/><circle cx="860.54" cy="544.77" r="4.25"/><circle cx="861.74" cy="548.4" r="4.25"/><circle cx="862.95" cy="547.9" r="4.25"/><circle cx="864.15" cy="547.92" r="4.25"/><circle cx="865.36" cy="548.02" r="4.25"/><circle cx="866.57" cy="549.03" r="4.25"/><circle cx="867.77" cy="546.73" r="4.25"/><circle cx="868.98" cy="549.46" r="4.25"/><circle cx="870.18" cy="549.48" r="4.25"/><circle cx="871.39" cy="550.41" r="4.25"/><circle cx="872.6" cy="553.02" r="4.25"/><circle cx="873.8" cy="553.03" r="4.25"/><circle cx="875.01" cy="553.92" r="4.25"/><circle cx="876.21" cy="551.44" r="4.25"/><circle cx="877.42" cy="553.87" r="4.25"/><circle cx="878.63" cy="555.02" r="4.25"/><circle cx="879.83" cy="552.36" r="4.25"/><circle cx="881.04" cy="552" r="4.25"/><circle cx="882.24" cy="557.53" r="4.25"/><circle cx="883.45" cy="549.84" r="4.25"/><circle cx="884.66" cy="553.84" r="4.25"/><circle cx="885.86" cy="554.31" r="4.25"/><circle cx="887.07" cy="551.72" r="4.25"/><circle cx="888.27" cy="554.07" r="4.25"/><circle cx="889.48" cy="555.63" r="4.25"/><circle cx="890.69" cy="549.16" r="4.25"/><circle cx="891.89" cy="556.61" r="4.25"/><circle cx="893.1" cy="554.29" r="4.25"/><circle cx="894.3" cy="552.04" r="4.25"/><circle cx="895.51" cy="556.38" r="4.25"/><circle cx="896.72" cy="554.11" r="4.25"/><circle cx="897.92" cy="552.97" r="4.25"/><circle cx="899.13" cy="548.36" r="4.25"/><circle cx="900.33" cy="555.99" r="4.25"/><circle cx="901.54" cy="554.13" r="4.25"/><circle cx="902.75" cy="552.62" r="4.25"/><circle cx="903.95" cy="554.06" r="4.25"/><circle cx="905.16" cy="557.15" r="4.25"/><circle cx="906.36" cy="553.57" r="4.25"/><circle cx="907.57" cy="554.38" r="4.25"/><circle cx="908.78" cy="553.73" r="4.25"/><circle cx="909.98" cy="552.26" r="4.25"/><circle cx="911.19" cy="552.65" r="4.25"/><circle cx="912.39" cy="554.15" r="4.25"/><circle cx="913.6" cy="554.46" r="4.25"/><circle cx="914.81" cy="557.79" r="4.25"/><circle cx="916.01" cy="555.65" r="4.25"/><circle cx="917.22" cy="554.9" r="4.25"/><circle cx="918.42" cy="556.38" r="4.25"/><circle cx="919.63" cy="555.26" r="4.25"/><circle cx="920.84" cy="557.4" r="4.25"/><circle cx="922.04" cy="551.98" r="4.25"/><circle cx="923.25" cy="550.54" r="4.25"/><circle cx="924.45" cy="556.35" r="4.25"/><circle cx="925.66" cy="554.51" r="4.25"/><circle cx="926.86" cy="555.95" r="4.25"/><circle cx="928.07" cy="552.52" r="4.25"/><circle cx="929.28" cy="554.44" r="4.25"/><circle cx="930.48" cy="555.32" r="4.25"/><circle cx="931.69" cy="556.08" r="4.25"/><circle cx="932.89" cy="555.39" r="4.25"/><circle cx="934.1" cy="558.12" r="4.25"/><circle cx="935.31" cy="554.42" r="4.25"/><circle cx="936.51" cy="557.8" r="4.25"/><circle cx="937.72" cy="555.13" r="4.25"/><circle cx="938.92" cy="556.27" r="4.25"/><circle cx="940.13" cy="554.29" r="4.25"/><circle cx="941.34" cy="557.1" r="4.25"/><circle cx="942.54" cy="554.98" r="4.25"/><circle cx="943.75" cy="559.74" r="4.25"/><circle cx="944.95" cy="556.55" r="4.25"/><circle cx="946.16" cy="558.81" r="4.25"/><circle cx="947.37" cy="558.21" r="4.25"/><circle cx="948.57" cy="558.9" r="4.25"/><circle cx="949.78" cy="557.34" r="4.25"/><circle cx="950.98" cy="564.58" r="4.25"/><circle cx="952.19" cy="559.66" r="4.25"/><circle cx="953.4" cy="564.29" r="4.25"/><circle cx="954.6" cy="558.5" r="4.25"/><circle cx="955.81" cy="566.21" r="4.25"/><circle cx="957.01" cy="564.31" r="4.25"/><circle cx="958.22" cy="566.13" r="4.25"/><circle cx="959.43" cy="558.71" r="4.25"/><circle cx="960.63" cy="565.55" r="4.25"/><circle cx="961.84" cy="562.38" r="4.25"/><circle cx="963.04" cy="563.85" r="4.25"/><circle cx="964.25" cy="566.66" r="4.25"/><circle cx="965.46" cy="563.16" r="4.25"/><circle cx="966.66" cy="560.67" r="4.25"/><circle cx="967.87" cy="562.44" r="4.25"/><circle cx="969.07" cy="559.66" r="4.25"/><circle cx="970.28" cy="562.49" r="4.25"/><circle cx="971.49" cy="561.5" r="4.25"/><circle cx="972.69" cy="562.31" r="4.25"/><circle cx="973.9" cy="560.61" r="4.25"/><circle cx="975.1" cy="557.06" r="4.25"/><circle cx="976.31" cy="560.7" r="4.25"/><circle cx="977.52" cy="561.24" r="4.25"/><circle cx="978.72" cy="563.32" r="4.25"/><circle cx="979.93" cy="563.88" r="4.25"/><circle cx="981.13" cy="559.03" r="4.25"/><circle cx="982.34" cy="565.23" r="4.25"/><circle cx="983.54" cy="565.04" r="4.25"/><circle cx="984.75" cy="563.4" r="4.25"/><circle cx="985.96" cy="564.38" r="4.25"/><circle cx="987.16" cy="559.08" r="4.25"/><circle cx="988.37" cy="569.18" r="4.25"/><circle cx="989.57" cy="563.02" r="4.25"/><circle cx="990.78" cy="562.32" r="4.25"/><circle cx="991.99" cy="566.64" r="4.25"/><circle cx="993.19" cy="565.66" r="4.25"/><circle cx="994.4" cy="563.31" r="4.25"/><circle cx="995.6" cy="560.7" r="4.25"/><circle cx="996.81" cy="566.74" r="4.25"/><circle cx="998.02" cy="568.47" r="4.25"/><circle cx="999.22" cy="562.83" r="4.25"/><circle cx="1000.43" cy="561.83" r="4.25"/><circle cx="1001.63" cy="566.38" r="4.25"/><circle cx="1002.84" cy="570.97" r="4.25"/><circle cx="1004.05" cy="562.81" r="4.25"/></g><g fill="#000"><rect x="270.6" y="883.5" width="1.3" height="4"/><rect x="268.3" y="886.6" width="3.4" height="1.3"/><rect x="276.6" y="883" width="1.4" height="2.6"/><rect x="280" y="883" width="1.4" height="2.6"/><rect x="271.2" y="876" width="1.2" height="1.2"/><path d="M287.5,895.5 L289.5,892 L290.5,893 L288.6,896.5Z"/></g><polyline fill="none" stroke="#0000ff" stroke-width="6.2" stroke-linejoin="round" points="294.37,954.69 294.5,947.26 294.63,939.89 294.76,932.6 294.89,925.36 295.02,918.2 295.15,911.1 295.28,904.07 295.41,897.11 295.55,890.21 295.68,883.38 295.81,876.61 295.94,869.91 296.07,863.28 296.2,856.71 296.33,850.2 296.46,843.77 296.59,837.4 296.73,831.09 296.86,824.85 296.99,818.67 297.12,812.56 297.25,806.51 297.38,800.53 297.51,794.62 297.64,788.76 297.77,782.97 297.9,777.25 298.04,771.59 298.17,765.99 298.3,760.46 298.43,754.99 298.56,749.58 298.69,744.24 298.82,738.96 298.95,733.74 299.08,728.59 299.22,723.5 299.35,718.47 299.48,713.5 299.61,708.59 299.74,703.75 299.87,698.97 300,694.25 300.13,689.59 300.26,684.99 300.4,680.45 300.53,675.98 300.66,671.56 300.79,667.2 300.92,662.91 301.05,658.67 301.18,654.49 301.31,650.37 301.44,646.31 301.58,642.31 301.71,638.37 301.84,634.49 301.97,630.66 302.1,626.89 302.23,623.18 302.36,619.53 302.49,615.93 302.62,612.4 302.75,608.91 302.89,605.49 303.02,602.11 303.15,598.8 303.28,595.54 303.41,592.33 303.54,589.18 303.67,586.09 303.8,583.04 303.93,580.05 304.07,577.12 304.2,574.23 304.33,571.4 304.46,568.63 304.59,565.9 304.72,563.22 304.85,560.6 304.98,558.03 305.11,555.51 305.25,553.03 305.38,550.61 305.51,548.24 305.64,545.91 305.77,543.63 305.9,541.4 306.03,539.22 306.16,537.09 306.29,535 306.43,532.96 306.56,530.96 306.69,529.01 306.82,527.11 306.95,525.25 307.08,523.43 307.21,521.65 307.34,519.92 307.47,518.23 307.6,516.59 307.74,514.98 307.87,513.41 308,511.89 308.13,510.4 308.26,508.96 308.39,507.55 308.52,506.18 308.65,504.85 308.78,503.56 308.92,502.3 309.05,501.08 309.18,499.89 309.31,498.74 309.44,497.63 309.57,496.54 309.7,495.49 309.83,494.48 309.96,493.49 310.1,492.54 310.23,491.61 310.36,490.72 310.49,489.86 310.62,489.02 310.75,488.22 310.88,487.44 311.01,486.69 311.14,485.97 311.28,485.27 311.41,484.6 311.54,483.95 311.67,483.33 311.8,482.73 311.93,482.15 312.06,481.6 312.19,481.07 312.32,480.56 312.45,480.07 312.59,479.6 312.72,479.15 312.85,478.72 312.98,478.31 313.11,477.92 313.24,477.55 313.37,477.19 313.5,476.85 313.63,476.52 313.77,476.21 313.9,475.91 314.03,475.63 314.16,475.37 314.29,475.11 314.42,474.87 314.55,474.64 314.68,474.43 314.81,474.22 314.95,474.03 315.08,473.85 315.21,473.67 315.34,473.51 315.47,473.36 315.6,473.21 315.73,473.08 315.86,472.95 315.99,472.83 316.13,472.72 316.26,472.62 316.39,472.52 316.52,472.43 316.65,472.34 316.78,472.27 316.91,472.19 317.04,472.13 317.17,472.06 317.31,472.01 317.44,471.96 317.57,471.91 317.7,471.86 317.83,471.82 317.96,471.79 318.09,471.76 318.22,471.73 318.35,471.7 318.48,471.68 318.62,471.66 318.75,471.64 318.88,471.63 319.01,471.61 319.14,471.6 319.27,471.59 319.4,471.59 319.53,471.58 319.66,471.58 319.8,471.58 319.93,471.58 320.06,471.58 320.19,471.58 320.32,471.59 320.45,471.59 320.58,471.6 320.71,471.6 320.84,471.61 320.98,471.62 321.11,471.63 321.24,471.64 321.37,471.65 321.5,471.66 321.63,471.68 321.76,471.69 321.89,471.7 322.02,471.72 322.16,471.73 322.29,471.74 322.42,471.76 322.55,471.77 322.68,471.79 322.81,471.81 322.94,471.82 323.07,471.84 323.2,471.85 323.33,471.87 323.47,471.89 323.6,471.91 323.73,471.92 323.86,471.94 323.99,471.96 324.12,471.97 324.25,471.99 324.38,472.01 324.51,472.03 324.65,472.05 324.78,472.06 324.91,472.08 325.04,472.1 325.17,472.12 325.3,472.14 325.43,472.15 325.56,472.17 325.69,472.19 325.83,472.21 325.96,472.23 326.09,472.25 326.22,472.26 326.35,472.28 326.48,472.3 326.61,472.32 326.74,472.34 326.87,472.36 327.01,472.37 327.14,472.39 327.27,472.41 327.4,472.43 327.53,472.45 327.66,472.47 327.79,472.49 327.92,472.5 328.97,472.65 330.02,472.8 331.07,472.95 332.12,473.1 333.17,473.25 334.21,473.4 335.26,473.55 336.31,473.69 337.36,473.84 338.41,473.99 339.46,474.14 340.51,474.29 341.56,474.44 342.6,474.59 343.65,474.74 344.7,474.88 345.75,475.03 346.8,475.18 347.85,475.33 348.9,475.48 349.94,475.63 350.99,475.78 352.04,475.93 353.09,476.07 354.14,476.22 355.19,476.37 356.24,476.52 357.29,476.67 358.33,476.82 359.38,476.97 360.43,477.12 361.48,477.26 362.53,477.41 363.58,477.56 364.63,477.71 365.67,477.86 366.72,478.01 367.77,478.16 368.82,478.3 369.87,478.45 370.92,478.6 371.97,478.75 373.02,478.9 374.06,479.05 375.11,479.2 376.16,479.35 377.21,479.49 378.26,479.64 379.31,479.79 380.36,479.94 381.4,480.09 382.45,480.24 383.5,480.39 384.55,480.54 385.6,480.68 386.65,480.83 387.7,480.98 388.74,481.13 389.79,481.28 390.84,481.43 391.89,481.58 392.94,481.73 393.99,481.87 395.04,482.02 396.09,482.17 397.13,482.32 398.18,482.47 399.23,482.62 400.28,482.77 401.33,482.92 402.38,483.06 403.43,483.21 404.47,483.36 405.52,483.51 406.57,483.66 407.62,483.81 408.67,483.96 409.72,484.11 410.77,484.25 411.82,484.4 412.86,484.55 413.91,484.7 414.96,484.85 416.01,485 417.06,485.15 418.11,485.3 419.16,485.44 420.2,485.59 421.25,485.74 422.3,485.89 423.35,486.04 424.4,486.19 425.45,486.34 426.5,486.49 427.55,486.63 428.59,486.78 429.64,486.93 430.69,487.08 431.74,487.23 432.79,487.38 433.84,487.53 434.89,487.68 435.93,487.82 436.98,487.97 438.03,488.12 439.08,488.27 440.13,488.42 441.18,488.57 442.23,488.72 443.28,488.87 444.32,489.01 445.37,489.16 446.42,489.31 447.47,489.46 448.52,489.61 449.57,489.76 450.62,489.91 451.66,490.06 452.71,490.2 453.76,490.35 454.81,490.5 455.86,490.65 456.91,490.8 457.96,490.95 459.01,491.1 460.05,491.25 461.1,491.39 462.15,491.54 463.2,491.69 464.25,491.84 465.3,491.99 466.35,492.14 467.39,492.29 468.44,492.43 469.49,492.58 470.54,492.73 471.59,492.88 472.64,493.03 473.69,493.18 474.74,493.33 475.78,493.48 476.83,493.62 477.88,493.77 478.93,493.92 479.98,494.07 481.03,494.22 482.08,494.37 483.12,494.52 484.17,494.67 485.22,494.81 486.27,494.96 487.32,495.11 488.37,495.26 489.42,495.41 490.46,495.56 491.51,495.71 492.56,495.86 493.61,496 494.66,496.15 495.71,496.3 496.76,496.45 497.81,496.6 498.85,496.75 499.9,496.9 500.95,497.05 502,497.19 503.05,497.34 504.1,497.49 505.15,497.64 506.19,497.79 507.24,497.94 508.29,498.09 509.34,498.24 510.39,498.38 511.44,498.53 512.49,498.68 513.54,498.83 514.58,498.98 515.63,499.13 516.68,499.28 517.73,499.43 518.78,499.57 519.83,499.72 520.88,499.87 521.92,500.02 522.97,500.17 524.02,500.32 525.07,500.47 526.12,500.62 527.17,500.76 528.22,500.91 529.27,501.06 530.31,501.21 531.36,501.36 532.41,501.51 533.46,501.66 534.51,501.81 535.56,501.95 536.61,502.1 537.65,502.25 538.7,502.4 539.75,502.55 540.8,502.7 541.85,502.85 542.9,503 543.95,503.14 545,503.29 546.04,503.44 547.09,503.59 548.14,503.74 549.19,503.89 550.24,504.04 551.29,504.19 552.34,504.33 553.38,504.48 554.43,504.63 555.48,504.78 556.53,504.93 557.58,505.08 558.63,505.23 559.68,505.38 560.73,505.52 561.77,505.67 562.82,505.82 563.87,505.97 564.92,506.12 565.97,506.27 567.02,506.42 568.07,506.57 569.11,506.71 570.16,506.86 571.21,507.01 572.26,507.16 573.31,507.31 574.36,507.46 575.41,507.61 576.46,507.75 577.5,507.9 578.55,508.05 579.6,508.2 580.65,508.35 581.7,508.5 582.75,508.65 583.8,508.8 584.84,508.94 585.89,509.09 586.94,509.24 587.99,509.39 589.04,509.54 590.09,509.69 591.14,509.84 592.19,509.99 593.23,510.13 594.28,510.28 595.33,510.43 596.38,510.58 597.43,510.73 598.48,510.88 599.53,511.03 600.57,511.18 601.62,511.32 602.67,511.47 603.72,511.62 604.77,511.77 605.82,511.92 606.87,512.07 607.91,512.22 608.96,512.37 610.01,512.51 611.06,512.66 612.11,512.81 613.16,512.96 614.21,513.11 615.26,513.26 616.3,513.41 617.35,513.56 618.4,513.7 619.45,513.85 620.5,514 621.55,514.15 622.6,514.3 623.64,514.45 624.69,514.6 625.74,514.75 626.79,514.89 627.84,515.04 628.89,515.19 629.94,515.34 630.99,515.49 632.03,515.64 633.08,515.79 634.13,515.94 635.18,516.08 636.23,516.23 637.28,516.38 638.33,516.53 639.37,516.68 640.42,516.83 641.47,516.98 642.52,517.13 643.57,517.27 644.62,517.42 645.67,517.57 646.72,517.72 647.76,517.87 648.81,518.02 649.86,518.17 650.91,518.32 651.96,518.46 653.01,518.61 654.06,518.76 655.1,518.91 656.15,519.06 657.2,519.21 658.25,519.36 659.3,519.51 660.35,519.65 661.4,519.8 662.45,519.95 663.49,520.1 664.54,520.25 665.59,520.4 666.64,520.55 667.69,520.7 668.74,520.84 669.79,520.99 670.83,521.14 671.88,521.29 672.93,521.44 673.98,521.59 675.03,521.74 676.08,521.88 677.13,522.03 678.18,522.18 679.22,522.33 680.27,522.48 681.32,522.63 682.37,522.78 683.42,522.93 684.47,523.07 685.52,523.22 686.56,523.37 687.61,523.52 688.66,523.67 689.71,523.82 690.76,523.97 691.81,524.12 692.86,524.26 693.91,524.41 694.95,524.56 696,524.71 697.05,524.86 698.1,525.01 699.15,525.16 700.2,525.31 701.25,525.45 702.29,525.6 703.34,525.75 704.39,525.9 705.44,526.05 706.49,526.2 707.54,526.35 708.59,526.5 709.63,526.64 710.68,526.79 711.73,526.94 712.78,527.09 713.83,527.24 714.88,527.39 715.93,527.54 716.98,527.69 718.02,527.83 719.07,527.98 720.12,528.13 721.17,528.28 722.22,528.43 723.27,528.58 724.32,528.73 725.36,528.88 726.41,529.02 727.46,529.17 728.51,529.32 729.56,529.47 730.61,529.62 731.66,529.77 732.71,529.92 733.75,530.07 734.8,530.21 735.85,530.36 736.9,530.51 737.95,530.66 739,530.81 740.05,530.96 741.09,531.11 742.14,531.26 743.19,531.4 744.24,531.55 745.29,531.7 746.34,531.85 747.39,532 748.44,532.15 749.48,532.3 750.53,532.45 751.58,532.59 752.63,532.74 753.68,532.89 754.73,533.04 755.78,533.19 756.82,533.34 757.87,533.49 758.92,533.64 759.97,533.78 761.02,533.93 762.07,534.08 763.12,534.23 764.17,534.38 765.21,534.53 766.26,534.68 767.31,534.83 768.36,534.97 769.41,535.12 770.46,535.27 771.51,535.42 772.55,535.57 773.6,535.72 774.65,535.87 775.7,536.01 776.75,536.16 777.8,536.31 778.85,536.46 779.9,536.61 780.94,536.76 781.99,536.91 783.04,537.06 784.09,537.2 785.14,537.35 786.19,537.5 787.24,537.65 788.28,537.8 789.33,537.95 790.38,538.1 791.43,538.25 792.48,538.39 793.53,538.54 794.58,538.69 795.63,538.84 796.67,538.99 797.72,539.14 798.77,539.29 799.82,539.44 800.87,539.58 801.92,539.73 802.97,539.88 804.01,540.03 805.06,540.18 806.11,540.33 807.16,540.48 808.21,540.63 809.26,540.77 810.31,540.92 811.35,541.07 812.4,541.22 813.45,541.37 814.5,541.52 815.55,541.67 816.6,541.82 817.65,541.96 818.7,542.11 819.74,542.26 820.79,542.41 821.84,542.56 822.89,542.71 823.94,542.86 824.99,543.01 826.04,543.15 827.08,543.3 828.13,543.45 829.18,543.6 830.23,543.75 831.28,543.9 832.33,544.05 833.38,544.2 834.43,544.34 835.47,544.49 836.52,544.64 837.57,544.79 838.62,544.94 839.67,545.09 840.72,545.24 841.77,545.39 842.81,545.53 843.86,545.68 844.91,545.83 845.96,545.98 847.01,546.13 848.06,546.28 849.11,546.43 850.16,546.58 851.2,546.72 852.25,546.87 853.3,547.02 854.35,547.17 855.4,547.32 856.45,547.47 857.5,547.62 858.54,547.77 859.59,547.91 860.64,548.06 861.69,548.21 862.74,548.36 863.79,548.51 864.84,548.66 865.89,548.81 866.93,548.96 867.98,549.1 869.03,549.25 870.08,549.4 871.13,549.55 872.18,549.7 873.23,549.85 874.27,550 875.32,550.14 876.37,550.29 877.42,550.44 878.47,550.59 879.52,550.74 880.57,550.89 881.62,551.04 882.66,551.19 883.71,551.33 884.76,551.48 885.81,551.63 886.86,551.78 887.91,551.93 888.96,552.08 890,552.23 891.05,552.38 892.1,552.52 893.15,552.67 894.2,552.82 895.25,552.97 896.3,553.12 897.35,553.27 898.39,553.42 899.44,553.57 900.49,553.71 901.54,553.86 902.59,554.01 903.64,554.16 904.69,554.31 905.73,554.46 906.78,554.61 907.83,554.76 908.88,554.9 909.93,555.05 910.98,555.2 912.03,555.35 913.07,555.5 914.12,555.65 915.17,555.8 916.22,555.95 917.27,556.09 918.32,556.24 919.37,556.39 920.42,556.54 921.46,556.69 922.51,556.84 923.56,556.99 924.61,557.14 925.66,557.28 926.71,557.43 927.76,557.58 928.8,557.73 929.85,557.88 930.9,558.03 931.95,558.18 933,558.33 934.05,558.47 935.1,558.62 936.15,558.77 937.19,558.92 938.24,559.07 939.29,559.22 940.34,559.37 941.39,559.52 942.44,559.66 943.49,559.81 944.53,559.96 945.58,560.11 946.63,560.26 947.68,560.41 948.73,560.56 949.78,560.71 950.83,560.85 951.88,561 952.92,561.15 953.97,561.3 955.02,561.45 956.07,561.6 957.12,561.75 958.17,561.9 959.22,562.04 960.26,562.19 961.31,562.34 962.36,562.49 963.41,562.64 964.46,562.79 965.51,562.94 966.56,563.09 967.61,563.23 968.65,563.38 969.7,563.53 970.75,563.68 971.8,563.83 972.85,563.98 973.9,564.13 974.95,564.27 975.99,564.42 977.04,564.57 978.09,564.72 979.14,564.87 980.19,565.02 981.24,565.17 982.29,565.32 983.34,565.46 984.38,565.61 985.43,565.76 986.48,565.91 987.53,566.06 988.58,566.21 989.63,566.36 990.68,566.51 991.72,566.65 992.77,566.8 993.82,566.95 994.87,567.1 995.92,567.25 996.97,567.4 998.02,567.55 999.07,567.7 1000.11,567.84 1001.16,567.99 1002.21,568.14 1003.26,568.29 1004.31,568.44 1005.36,568.59 1006.41,568.74 1007.45,568.89 1008.5,569.03 1009.55,569.18 1010.6,569.33 1011.65,569.48 1012.7,569.63 1013.75,569.78 1014.79,569.93"/></g><polyline clip-path="url(#cc)" fill="none" stroke="#ff0000" stroke-width="5.3" stroke-linejoin="round" points="201.7,1442 203,1441.74 204.3,1441.49 205.6,1441.23 206.9,1440.98 208.2,1440.72 209.5,1440.46 210.8,1440.2 212.1,1439.93 213.4,1439.67 214.7,1439.41 216,1439.15 217.3,1438.89 218.6,1438.62 219.9,1438.36 221.2,1438.1 222.5,1437.8 223.8,1437.48 225.1,1437.16 226.4,1436.83 227.7,1436.51 229,1436.19 230.3,1435.87 231.6,1435.54 232.9,1435.22 234.2,1434.9 235.5,1434.47 236.8,1433.89 238.1,1433.3 239.4,1432.72 240.7,1432.13 242,1431.54 243.3,1430.96 244.6,1430.37 245.9,1429.78 247.2,1429.2 248.5,1428.6 249.8,1427.95 251.1,1427.3 252.4,1426.65 253.7,1426 255,1425.35 256.3,1424.7 257.6,1424.05 258.9,1423.4 260.2,1422.75 261.5,1422.1 262.8,1421.34 264.1,1420.56 265.4,1419.77 266.7,1418.99 268,1418.21 269.3,1417.43 270.6,1416.65 271.9,1415.86 273.2,1415.08 274.5,1414.3 275.8,1413.36 277.1,1412.31 278.4,1411.26 279.7,1410.22 281,1409.17 282.3,1408.13 283.6,1407.08 284.9,1406.04 286.2,1404.99 287.5,1403.94 288.8,1402.8 290.1,1401.5 291.4,1400.2 292.7,1398.9 294,1397.6 295.3,1396.3 296.6,1394.78 297.9,1392.54 299.2,1390.31 300.5,1388.07 301.8,1385.86 303.1,1384.03 304.4,1382.2 305.7,1380.36 307,1378.53 308.3,1376.7 309.6,1374.37 310.9,1372.04 312.2,1369.71 313.5,1367.39 314.8,1365.06 316.1,1362.06 317.4,1358.95 318.7,1355.83 320,1352.72 321.3,1349.95 322.6,1347.28 323.9,1344.62 325.2,1341.95 326.5,1339.25 327.8,1336.36 329.1,1333.46 330.4,1330.56 331.7,1327.66 333,1324.73 334.3,1321.76 335.6,1318.79 336.9,1315.83 338.2,1311.59 339.5,1305.33 340.8,1300.18 342.1,1295.53 343.4,1290.87 344.7,1288.06 346,1286.06 347.3,1283.32 348.6,1281.3 349.9,1277.65 351.2,1270.45 352.5,1263.59 353.8,1258.02 355.1,1252.72 356.4,1251.39 357.7,1248.54 359,1246.83 360.3,1244.12 361.6,1237.11 362.9,1223.47 364.2,1218.3 365.5,1214.28 366.8,1210.38 368.1,1208.96 369.4,1206.6 370.7,1204.76 372,1202.31 373.3,1195.61 374.6,1189.02 375.9,1183.25 377.2,1177.72 378.5,1176.02 379.8,1174.23 381.1,1172.18 382.4,1169.8 383.7,1163 385,1157.09 386.3,1148.91 387.6,1143.45 388.9,1138.06 390.2,1134.88 391.5,1132.05 392.8,1128.47 394.1,1120.45 395.4,1112.43 396.7,1107.06 398,1103.91 399.3,1101.68 400.6,1099.96 401.9,1098.43 403.2,1096.35 404.5,1094.44 405.8,1091.27 407.1,1087.37 408.4,1083.65 409.7,1078.58 411,1075.47 412.3,1071.95 413.6,1068.76 414.9,1065.07 416.2,1062.28 417.5,1058.91 418.8,1056.53 420.1,1054.22 421.4,1053.35 422.7,1054.1 424,1054.12 425.3,1054.22 426.6,1050.05 427.9,1048.86 429.2,1047.65 430.5,1048.13 431.8,1048.65 433.1,1049.47 434.4,1051.66 435.7,1053.02 437,1055.23 438.3,1054.42 439.6,1049.68 440.9,1047.07 442.2,1045.93 443.5,1045.58 444.8,1047.64 446.1,1049.49 447.4,1052 448.7,1054.1 450,1054.93 451.3,1055.9 452.6,1058.65 453.9,1061.3 455.2,1066.05 456.5,1066.14 457.8,1067.3 459.1,1067.65 460.4,1064.15 461.7,1064.17 463,1067.9 464.3,1072.26 465.6,1081.81 466.9,1084.59 468.2,1088.24 469.5,1088.31 470.8,1089.1 472.1,1093.37 473.4,1097.75 474.7,1103.39 476,1110.54 477.3,1112.25 478.6,1114.65 479.9,1116.79 481.2,1118.79 482.5,1122.25 483.8,1123.57 485.1,1124.35 486.4,1125.76 487.7,1128.6 489,1132.62 490.3,1137.42 491.6,1140.29 492.9,1142.66 494.2,1144.51 495.5,1149.12 496.8,1153.91 498.1,1160.68 499.4,1165.49 500.7,1167.95 502,1171.16 503.3,1174.02 504.6,1174.47 505.9,1176.68 507.2,1178.23 508.5,1182.28 509.8,1187.24 511.1,1189.26 512.4,1190.57 513.7,1193.7 515,1197.05 516.3,1200.8 517.6,1203.95 518.9,1207.05 520.2,1209.24 521.5,1211.24 522.8,1214.32 524.1,1216.44 525.4,1217.75 526.7,1219.84 528,1221.82 529.3,1223.85 530.6,1226.57 531.9,1229.15 533.2,1231.82 534.5,1234.15 535.8,1238.69 537.1,1243.37 538.4,1247.66 539.7,1250.42 541,1252.22 542.3,1252.72 543.6,1253.17 544.9,1253.69 546.2,1254.95 547.5,1257.34 548.8,1259.18 550.1,1262.25 551.4,1264.29 552.7,1264.14 554,1264.03 555.3,1263.99 556.6,1265.47 557.9,1268.76 559.2,1271.17 560.5,1273.97 561.8,1276.63 563.1,1279.52 564.4,1279.33 565.7,1281.69 567,1283.46 568.3,1283.56 569.6,1285.44 570.9,1286.48 572.2,1287.02 573.5,1289.2 574.8,1290.64 576.1,1292.26 577.4,1294.65 578.7,1294.72 580,1294.84 581.3,1295.36 582.6,1297.48 583.9,1296.7 585.2,1298.91 586.5,1301.24 587.8,1304.23 589.1,1306.68 590.4,1308.22 591.7,1307.19 593,1306.44 594.3,1306.08 595.6,1305.89 596.9,1309.02 598.2,1311.15 599.5,1314.07 600.8,1316.05 602.1,1318.38 603.4,1319.06 604.7,1318.74 606,1316.86 607.3,1316.77 608.6,1316.73 609.9,1315.23 611.2,1316.63 612.5,1317.16 613.8,1317.92 615.1,1319.54 616.4,1320.78 617.7,1322.71 619,1324.27 620.3,1323.9 621.6,1323.75 622.9,1323.52 624.2,1323.1 625.5,1322.38 626.8,1322.65 628.1,1323.42 629.4,1325.65 630.7,1327.14 632,1329.85 633.3,1331.33 634.6,1334.14 635.9,1332.9 637.2,1332.87 638.5,1332.42 639.8,1331.99 641.1,1331.44 642.4,1331.12 643.7,1332.69 645,1332.03 646.3,1332.03 647.6,1332.86 648.9,1332.32 650.2,1334.58 651.5,1336.3 652.8,1338.78 654.1,1340.44 655.4,1340.17 656.7,1339.34 658,1339.01 659.3,1338.83 660.6,1336.8 661.9,1337.1 663.2,1336.83 664.5,1338.18 665.8,1338.73 667.1,1341.24 668.4,1341.83 669.7,1343.41 671,1344.01 672.3,1343.29 673.6,1343.64 674.9,1342.82 676.2,1343.03 677.5,1343.11 678.8,1343.05 680.1,1342.87 681.4,1342.59 682.7,1343.41 684,1343.71 685.3,1344.27 686.6,1345.84 687.9,1347.12 689.2,1348.04 690.5,1347.84 691.8,1347.73 693.1,1348.86 694.4,1348.13 695.7,1347.96 697,1348.31 698.3,1348.82 699.6,1350.04 700.9,1350.12 702.2,1350.91 703.5,1349.5 704.8,1351.76 706.1,1352.87 707.4,1354.06 708.7,1353.97 710,1353.96 711.3,1355.78 712.6,1356.03 713.9,1355.6 715.2,1355.47 716.5,1355.56 717.8,1354.97 719.1,1354.23 720.4,1354.56 721.7,1357.3 723,1356.77 724.3,1358.39 725.6,1358.91 726.9,1361.23 728.2,1361.62 729.5,1362.6 730.8,1363.02 732.1,1363.73 733.4,1364.62 734.7,1364.47 736,1366.54 737.3,1366.48 738.6,1365.73 739.9,1365.73 741.2,1365.69 742.5,1366.1 743.8,1365.41 745.1,1366.03 746.4,1366.58 747.7,1366.92 749,1368.13 750.3,1369.22 751.6,1369.87 752.9,1370.81 754.2,1370.9 755.5,1370.1 756.8,1369.36 758.1,1368.87 759.4,1368.6 760.7,1369.78 762,1371.28 763.3,1371.57 764.6,1374.19 765.9,1373.07 767.2,1373.82 768.5,1373.24 769.8,1373.53 771.1,1373.18 772.4,1373.28 773.7,1374.72 775,1374.86 776.3,1375.37 777.6,1375.89 778.9,1376.84 780.2,1377.29 781.5,1377.56 782.8,1377.15 784.1,1377.99 785.4,1378.55 786.7,1379.63 788,1379.32 789.3,1379.43 790.6,1380.84 791.9,1381.17 793.2,1382.12 794.5,1383.12 795.8,1383.29 797.1,1385.32 798.4,1385.99 799.7,1386.35 801,1386.44 802.3,1387.52 803.6,1388.53 804.9,1388.08 806.2,1388.37 807.5,1389.76 808.8,1389.74 810.1,1390.35 811.4,1392.04 812.7,1392.67 814,1393.11 815.3,1393.25 816.6,1393.99 817.9,1394.07 819.2,1394.23 820.5,1394.63 821.8,1395.45 823.1,1395.99 824.4,1396.54 825.7,1397.02 827,1395.8 828.3,1397.41 829.6,1398.3 830.9,1399.11 832.2,1398.3 833.5,1399.03 834.8,1397.89 836.1,1396.84 837.4,1396.55 838.7,1396.96 840,1397.52 841.3,1398.83 842.6,1399.15 843.9,1399.46 845.2,1400.49 846.5,1401.38 847.8,1401.59 849.1,1403.29 850.4,1402.89 851.7,1404.82 853,1404.85 854.3,1404.34 855.6,1405.14 856.9,1405.93 858.2,1405.63 859.5,1405.49 860.8,1406.83 862.1,1408.61 863.4,1407.98 864.7,1409.84 866,1410.53 867.3,1410.85 868.6,1410.47 869.9,1410.23 871.2,1410.58 872.5,1410.66 873.8,1410.46 875.1,1412.12 876.4,1411.36 877.7,1412.76 879,1413.06 880.3,1414.03 881.6,1414.14 882.9,1414.79 884.2,1414.64 885.5,1415.42 886.8,1415.47 888.1,1416.62 889.4,1415.67 890.7,1416.85 892,1416.86 893.3,1417.04 894.6,1416.91 895.9,1417.56 897.2,1416.9 898.5,1417.14 899.8,1418.28 901.1,1417.46 902.4,1419 903.7,1418 905,1417.74 906.3,1417.16 907.6,1417.32 908.9,1417.33 910.2,1417.61 911.5,1418.04 912.8,1418.89 914.1,1419.25 915.4,1419.64 916.7,1419.55 918,1419.62 919.3,1419.25 920.6,1420.57 921.9,1420.94 923.2,1420.65 924.5,1421.48 925.8,1421.97 927.1,1421.71 928.4,1422.42 929.7,1422.36 931,1421.72 932.3,1422.56 933.6,1422.86 934.9,1423.54 936.2,1423.18 937.5,1423.64 938.8,1423.67 940.1,1424.35 941.4,1424.66 942.7,1425.25 944,1425.29 945.3,1425.12 946.6,1425.27 947.9,1425.33 949.2,1425.46 950.5,1426.22 951.8,1424.54 953.1,1425.91 954.4,1426.47 955.7,1427.17 957,1426.5 958.3,1427.48 959.6,1428.05 960.9,1427.96 962.2,1428.29 963.5,1428.61 964.8,1428.71 966.1,1428.81 967.4,1428.91 968.7,1429.01 970,1429.11 971.3,1429.21 972.6,1429.31 973.9,1429.41 975.2,1429.51 976.5,1429.63 977.8,1429.74 979.1,1429.86 980.4,1429.98 981.7,1430.09 983,1430.21 984.3,1430.33 985.6,1430.44 986.9,1430.56 988.2,1430.68 989.5,1430.79 990.8,1430.91 992.1,1430.97 993.4,1431.04 994.7,1431.11 996,1431.17 997.3,1431.24 998.6,1431.31 999.9,1431.37 1001.2,1431.44 1002.5,1431.51 1003.8,1431.62 1005.1,1431.73 1006.4,1431.84 1007.7,1431.95 1009,1432.06 1010.3,1432.18 1011.6,1432.29 1012.9,1432.4"/><g font-family="'Liberation Sans', sans-serif" font-size="29.2" fill="#000"><text transform="translate(177,461.9) scale(1,1.035)" text-anchor="end">0</text><text transform="translate(177,375.48) scale(1,1.035)" text-anchor="end">1500</text><text transform="translate(177,289.06) scale(1,1.035)" text-anchor="end">3000</text><text transform="translate(177,202.64) scale(1,1.035)" text-anchor="end">4500</text><text transform="translate(177,116.22) scale(1,1.035)" text-anchor="end">6000</text><text transform="translate(177,29.8) scale(1,1.035)" text-anchor="end">7500</text><text transform="translate(177,515.1) scale(1,1.035)" text-anchor="end">5000</text><text transform="translate(177,748.5) scale(1,1.035)" text-anchor="end">500</text><text transform="translate(186.9,1454) scale(1,1.035)" text-anchor="end">0</text><text transform="translate(186.9,1370.54) scale(1,1.035)" text-anchor="end">1500</text><text transform="translate(186.9,1287.08) scale(1,1.035)" text-anchor="end">3000</text><text transform="translate(186.9,1203.62) scale(1,1.035)" text-anchor="end">4500</text><text transform="translate(186.9,1120.16) scale(1,1.035)" text-anchor="end">6000</text><text transform="translate(186.9,1036.7) scale(1,1.035)" text-anchor="end">7500</text><text transform="translate(227.1,940.8) scale(1,1.035)" text-anchor="middle">-150</text><text transform="translate(385.6,940.8) scale(1,1.035)" text-anchor="middle">150</text><text transform="translate(542.9,940.8) scale(1,1.035)" text-anchor="middle">450</text><text transform="translate(700.2,940.8) scale(1,1.035)" text-anchor="middle">750</text><text transform="translate(857.5,940.8) scale(1,1.035)" text-anchor="middle">1050</text><text transform="translate(1014.79,940.8) scale(1,1.035)" text-anchor="middle">1350</text><text transform="translate(220.8,1482.8) scale(1,1.035)" text-anchor="middle">650</text><text transform="translate(414.7,1482.8) scale(1,1.035)" text-anchor="middle">700</text><text transform="translate(608.6,1482.8) scale(1,1.035)" text-anchor="middle">750</text><text transform="translate(802.5,1482.8) scale(1,1.035)" text-anchor="middle">800</text><text transform="translate(996.4,1482.8) scale(1,1.035)" text-anchor="middle">850</text><text transform="translate(618.6,976.4) scale(1,0.98)" text-anchor="middle" font-size="29.8">Delay time (ps)</text><text transform="translate(621.9,1511.7) scale(1,0.98)" text-anchor="middle" font-size="29.8">Wavelength (nm)</text><text transform="translate(73.2,226.9) rotate(-90)" text-anchor="middle" font-size="29.6">Intensity</text><text transform="translate(81.6,647.9) rotate(-90)" text-anchor="middle" font-size="29.6">Intensity</text><text transform="translate(99.8,1217.3) rotate(-90) scale(1,1.07)" text-anchor="middle">DAS</text><text transform="translate(600.5,1200.3)" font-size="34.5" fill="#ff0000">749ps</text><path d="M819.4,27.5 H884.6" stroke="#ff0000" stroke-width="5.6" stroke-linecap="round"/><path d="M819.4,73.9 H884.6" stroke="#0000ff" stroke-width="5.6" stroke-linecap="round"/><text transform="translate(893.4,37.8) scale(1,1.035)">In<tspan dx="1.2"> H</tspan><tspan font-size="15" dy="11.2" dx="0.6">2</tspan><tspan dy="-11.2" dx="0.7">O</tspan></text><text transform="translate(893.4,84.2) scale(1,1.035)">In<tspan dx="1.2"> D</tspan><tspan font-size="15" dy="11.2" dx="0.6">2</tspan><tspan dy="-11.2" dx="0.7">O</tspan></text><path d="M848.4,757.5 H914.8" stroke="#ff0000" stroke-width="5.6" stroke-linecap="round"/><path d="M848.4,803.9 H914.8" stroke="#0000ff" stroke-width="5.6" stroke-linecap="round"/><text transform="translate(922.2,767.8) scale(1,1.035)">In<tspan dx="1.2"> H</tspan><tspan font-size="15" dy="11.2" dx="0.6">2</tspan><tspan dy="-11.2" dx="0.7">O</tspan></text><text transform="translate(922.2,814.2) scale(1,1.035)">In<tspan dx="1.2"> D</tspan><tspan font-size="15" dy="11.2" dx="0.6">2</tspan><tspan dy="-11.2" dx="0.7">O</tspan></text><rect x="113.87" y="372.52" width="5.47" height="3.56" fill="#fff"/><rect x="122.01" y="372.52" width="5.29" height="3.56" fill="#fff"/><rect x="123.77" y="1367.58" width="5.47" height="3.56" fill="#fff"/><rect x="131.91" y="1367.58" width="5.29" height="3.56" fill="#fff"/><rect x="209.43" y="937.84" width="5.47" height="3.56" fill="#fff"/><rect x="217.58" y="937.84" width="5.29" height="3.56" fill="#fff"/><rect x="363.06" y="937.84" width="5.47" height="3.56" fill="#fff"/><rect x="371.21" y="937.84" width="5.29" height="3.56" fill="#fff"/><rect x="826.84" y="937.84" width="5.47" height="3.56" fill="#fff"/><rect x="834.99" y="937.84" width="5.29" height="3.56" fill="#fff"/><rect x="984.14" y="937.84" width="5.47" height="3.56" fill="#fff"/><rect x="992.29" y="937.84" width="5.29" height="3.56" fill="#fff"/><text transform="translate(1.4,53.6) scale(0.91,1.02)" font-size="42">a</text><text transform="translate(11.7,509.6)" font-size="40" font-weight="bold">b</text><text transform="translate(20.3,1057.5)" font-size="40.5" font-weight="bold">c</text></g></svg></body></html>
